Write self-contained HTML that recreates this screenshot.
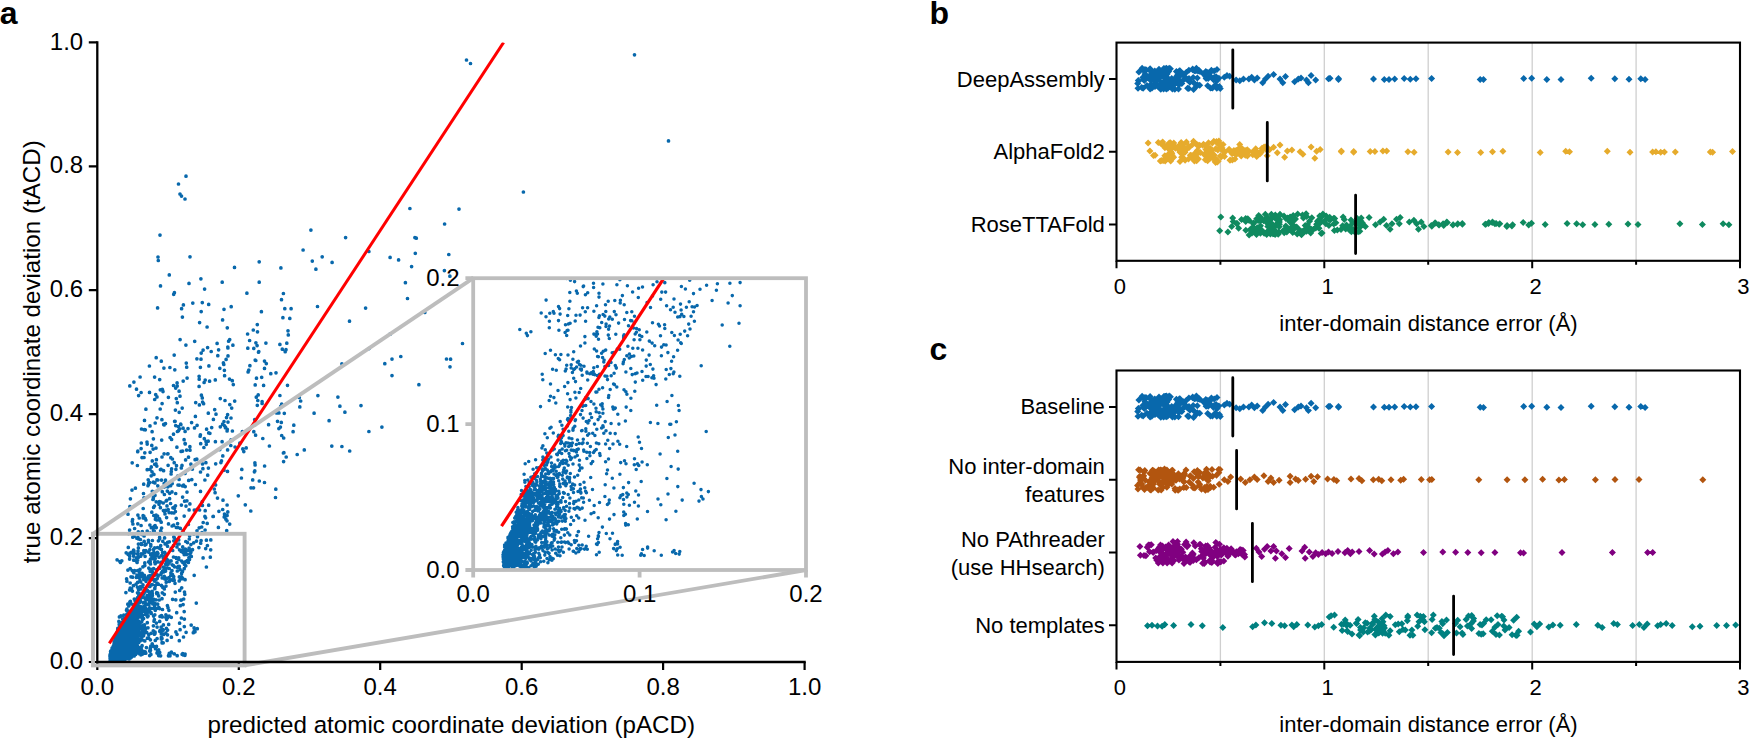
<!DOCTYPE html>
<html lang="en"><head><meta charset="utf-8"><title>Figure</title>
<style>html,body{margin:0;padding:0;background:#fff}svg{display:block}text{font-family:'Liberation Sans', Arial, sans-serif;fill:#000}</style></head>
<body>
<svg width="1750" height="741" viewBox="0 0 1750 741">
<rect width="1750" height="741" fill="#fff"/>
<defs><clipPath id="ca"><rect x="97.3" y="42.4" width="717.3" height="619.6"/></clipPath><clipPath id="ci"><rect x="473.2" y="278.2" width="332.8" height="291.8"/></clipPath></defs>
<g id="panel-a">
<path d="M119.6 656.4h0M117.2 647.8h0M115.8 642.8h0M120.2 651.0h0M115.6 650.5h0M125.1 636.8h0M120.6 643.1h0M119.3 638.0h0M111.6 660.5h0M110.5 658.2h0M111.8 658.6h0M121.2 657.3h0M119.1 638.0h0M111.1 658.8h0M121.1 645.0h0M113.7 657.7h0M113.7 650.3h0M130.8 647.7h0M118.6 635.2h0M120.2 658.6h0M120.3 654.3h0M111.0 658.4h0M120.8 635.8h0M154.4 619.5h0M112.0 657.1h0M126.3 620.9h0M127.8 651.2h0M127.5 635.0h0M114.4 645.4h0M115.8 638.6h0M117.8 628.3h0M135.3 631.2h0M113.8 649.7h0M110.3 657.0h0M118.7 636.8h0M127.9 654.5h0M116.5 649.8h0M142.9 596.0h0M117.0 654.4h0M118.5 637.2h0M112.3 654.2h0M115.9 659.8h0M127.3 643.8h0M127.6 641.8h0M133.7 646.0h0M126.4 652.6h0M123.3 657.8h0M110.2 660.2h0M113.3 654.6h0M161.2 563.5h0M114.7 659.1h0M125.2 631.6h0M117.7 641.7h0M125.5 655.7h0M118.9 641.3h0M112.6 654.0h0M113.5 653.5h0M121.6 639.7h0M114.9 650.1h0M110.3 657.3h0M123.5 653.5h0M130.2 652.2h0M128.9 612.4h0M129.2 652.8h0M111.0 654.1h0M141.1 608.7h0M117.2 636.9h0M112.9 654.8h0M115.3 647.5h0M113.8 659.0h0M111.8 658.9h0M118.2 648.9h0M119.7 641.4h0M116.8 647.5h0M119.7 644.0h0M117.0 655.1h0M113.7 645.5h0M114.5 648.9h0M123.2 660.8h0M111.2 652.1h0M114.7 652.4h0M128.5 643.2h0M120.3 637.1h0M124.7 622.2h0M118.3 630.5h0M112.0 651.5h0M115.5 649.4h0M119.3 649.4h0M115.5 648.6h0M117.0 654.4h0M119.8 645.7h0M127.7 647.5h0M115.1 656.4h0M131.9 647.3h0M118.3 647.0h0M129.2 620.1h0M131.4 624.6h0M142.7 653.3h0M130.5 650.6h0M130.7 625.0h0M142.1 645.7h0M110.7 654.0h0M112.7 657.7h0M130.1 634.5h0M120.0 632.2h0M120.0 651.6h0M111.1 654.3h0M112.9 652.9h0M125.3 629.9h0M124.1 644.9h0M114.5 655.4h0M113.3 651.5h0M113.8 658.8h0M123.2 644.0h0M111.4 655.2h0M118.8 642.1h0M111.3 655.1h0M128.7 646.3h0M120.4 632.6h0M135.5 620.5h0M110.1 658.6h0M110.3 657.2h0M114.4 657.9h0M138.9 626.6h0M112.1 655.8h0M135.1 652.2h0M120.1 652.7h0M120.0 629.4h0M125.9 627.8h0M112.6 651.0h0M114.4 649.1h0M111.8 654.6h0M119.5 640.3h0M147.4 638.2h0M115.8 643.3h0M123.7 654.5h0M122.2 645.6h0M120.4 640.1h0M117.2 649.8h0M136.1 650.1h0M119.5 635.3h0M115.2 655.0h0M132.2 653.1h0M127.6 650.3h0M121.8 634.8h0M117.8 640.4h0M142.6 636.2h0M119.0 637.4h0M114.7 641.7h0M125.3 635.4h0M116.6 656.3h0M119.0 648.6h0M116.3 655.7h0M117.6 636.5h0M110.9 657.6h0M113.5 653.4h0M113.9 653.8h0M116.9 654.8h0M121.6 657.8h0M112.8 657.8h0M154.8 588.7h0M117.8 656.1h0M123.0 631.4h0M112.4 660.9h0M113.2 651.2h0M142.9 627.6h0M126.0 658.5h0M117.8 646.8h0M111.5 658.8h0M141.9 635.6h0M113.1 660.1h0M115.5 654.6h0M117.8 654.6h0M122.7 657.1h0M119.2 642.0h0M118.8 656.7h0M151.0 578.8h0M120.1 644.4h0M123.8 646.4h0M128.1 648.4h0M114.4 661.2h0M161.6 615.6h0M113.9 646.1h0M119.1 641.6h0M112.2 654.2h0M112.2 661.3h0M133.8 621.5h0M115.7 646.6h0M118.4 649.1h0M116.7 658.5h0M111.3 652.9h0M117.9 648.0h0M132.8 645.7h0M113.8 657.6h0M123.9 629.6h0M133.3 650.2h0M112.0 660.7h0M129.6 620.5h0M110.4 659.5h0M126.6 645.5h0M116.4 646.5h0M112.3 658.8h0M118.0 641.5h0M114.6 650.3h0M110.8 656.1h0M132.5 621.8h0M134.0 638.4h0M112.6 650.8h0M115.8 640.3h0M115.3 648.6h0M117.0 643.5h0M111.7 650.6h0M130.8 653.5h0M119.6 646.6h0M112.9 649.2h0M115.4 643.5h0M113.9 655.8h0M117.6 640.9h0M126.4 650.4h0M126.6 619.4h0M112.4 656.0h0M120.1 647.1h0M113.2 651.0h0M110.7 653.6h0M112.5 657.1h0M119.0 638.6h0M111.1 659.0h0M114.1 643.6h0M123.7 657.7h0M114.2 649.6h0M114.0 651.3h0M112.9 647.0h0M110.5 658.4h0M116.8 639.6h0M119.3 652.4h0M120.1 648.7h0M112.6 649.5h0M112.8 650.6h0M128.7 645.6h0M113.0 658.3h0M116.6 650.0h0M112.5 659.8h0M112.5 656.3h0M111.1 652.0h0M140.0 641.0h0M116.2 644.9h0M110.4 660.2h0M119.3 658.3h0M118.7 632.2h0M119.0 655.6h0M138.1 605.9h0M118.3 653.4h0M119.0 640.0h0M114.1 645.4h0M112.6 657.2h0M118.6 648.3h0M117.9 656.1h0M113.0 657.9h0M115.2 647.9h0M119.6 631.0h0M120.3 645.8h0M114.8 646.0h0M110.2 656.7h0M121.1 634.9h0M112.9 647.4h0M115.2 653.3h0M112.0 650.9h0M121.0 630.0h0M116.0 648.3h0M110.8 655.7h0M122.1 631.8h0M123.8 632.7h0M117.3 641.5h0M124.4 624.7h0M111.1 656.2h0M135.8 635.4h0M122.0 625.4h0M131.8 610.6h0M111.2 654.8h0M114.7 650.3h0M116.4 641.7h0M148.0 627.8h0M118.6 634.1h0M111.8 655.5h0M124.3 630.5h0M120.7 654.3h0M113.9 659.1h0M128.5 617.4h0M134.0 638.2h0M116.9 657.0h0M112.8 658.7h0M126.3 651.8h0M122.9 655.1h0M116.5 646.1h0M113.4 655.1h0M116.7 638.1h0M123.7 635.3h0M119.5 660.0h0M125.8 646.8h0M146.9 613.5h0M122.9 644.4h0M129.3 615.0h0M119.2 645.7h0M153.3 630.8h0M119.1 638.4h0M139.1 614.4h0M141.7 621.8h0M117.9 644.5h0M129.3 623.1h0M111.1 659.1h0M123.2 626.6h0M111.1 654.5h0M125.2 629.5h0M115.7 651.0h0M117.5 642.5h0M113.2 654.3h0M121.7 645.4h0M127.7 627.9h0M113.1 659.0h0M116.6 646.6h0M121.8 630.2h0M114.7 652.4h0M136.6 632.9h0M154.4 634.2h0M121.9 645.3h0M118.4 637.8h0M120.8 630.6h0M113.6 658.5h0M111.3 657.9h0M114.0 661.2h0M121.8 638.5h0M116.7 655.4h0M113.3 657.5h0M112.7 658.0h0M119.3 648.2h0M116.6 640.3h0M128.0 636.1h0M112.6 657.2h0M118.6 660.7h0M155.9 599.8h0M116.5 641.8h0M125.2 653.2h0M115.5 656.3h0M147.1 609.5h0M127.8 629.5h0M114.2 657.5h0M117.8 640.5h0M127.8 631.7h0M114.1 660.4h0M114.9 657.4h0M110.0 656.4h0M122.2 651.2h0M153.9 646.4h0M110.5 655.0h0M112.0 657.0h0M120.4 655.2h0M123.3 626.1h0M122.8 631.1h0M116.9 640.5h0M115.3 659.8h0M110.7 659.6h0M150.4 639.8h0M138.7 642.6h0M114.4 647.0h0M119.1 638.9h0M117.1 657.9h0M116.0 645.3h0M112.5 650.8h0M162.3 616.9h0M117.5 660.7h0M128.1 647.5h0M117.7 661.0h0M122.4 631.5h0M143.6 618.6h0M120.4 640.2h0M142.2 651.5h0M114.5 661.0h0M127.5 619.3h0M140.2 633.1h0M128.8 645.5h0M114.5 656.1h0M116.5 645.5h0M114.6 648.0h0M122.9 659.8h0M117.8 652.9h0M114.0 648.4h0M112.0 658.9h0M114.6 648.6h0M119.1 645.4h0M128.0 626.1h0M123.5 621.1h0M127.0 617.0h0M137.0 615.7h0M123.9 650.2h0M111.2 659.2h0M117.3 640.1h0M111.5 658.5h0M120.6 630.4h0M110.7 657.8h0M118.8 660.0h0M120.5 641.4h0M125.9 624.2h0M119.2 641.1h0M171.4 637.2h0M115.8 652.9h0M129.3 642.9h0M115.6 655.3h0M115.7 658.5h0M121.1 649.3h0M110.6 660.8h0M129.5 645.1h0M118.9 629.4h0M127.0 634.2h0M112.1 649.5h0M141.3 638.9h0M135.6 625.2h0M131.7 645.5h0M118.2 637.4h0M129.0 616.0h0M118.8 639.5h0M136.5 650.4h0M110.6 651.4h0M119.7 643.5h0M138.6 621.0h0M129.7 641.0h0M130.6 640.5h0M129.1 654.6h0M121.2 650.4h0M113.1 651.9h0M124.7 657.5h0M116.0 649.1h0M117.2 636.6h0M118.4 635.6h0M119.4 649.0h0M112.9 659.1h0M127.5 652.0h0M121.5 650.9h0M135.1 610.6h0M155.0 633.6h0M128.6 650.0h0M120.6 652.3h0M111.6 658.3h0M119.1 653.1h0M121.5 635.2h0M122.5 632.6h0M119.9 646.4h0M115.4 654.3h0M131.1 627.5h0M121.1 638.6h0M133.4 653.6h0M114.3 653.6h0M122.9 647.1h0M136.1 608.6h0M136.2 639.0h0M112.4 653.3h0M118.7 634.4h0M116.5 653.9h0M136.2 644.5h0M124.1 620.7h0M114.6 658.6h0M119.3 633.2h0M115.6 655.8h0M119.9 641.7h0M116.0 652.4h0M121.8 657.2h0M136.4 624.2h0M162.0 638.4h0M129.6 657.6h0M150.7 608.4h0M127.5 639.9h0M128.6 631.8h0M124.7 644.6h0M118.9 641.0h0M112.7 654.5h0M117.6 636.8h0M123.7 654.7h0M113.2 647.9h0M119.3 634.0h0M118.2 635.3h0M118.3 654.8h0M119.8 650.2h0M126.2 648.1h0M116.7 644.1h0M118.1 654.3h0M113.3 652.9h0M116.2 655.1h0M113.6 656.8h0M123.9 641.9h0M154.9 587.8h0M148.7 634.5h0M114.5 652.4h0M124.4 625.9h0M120.1 660.8h0M110.5 658.6h0M110.1 657.3h0M114.2 651.9h0M117.6 656.5h0M111.3 658.8h0M112.5 657.5h0M112.9 655.8h0M112.6 659.5h0M111.5 657.5h0M116.8 637.9h0M126.2 652.5h0M121.6 627.8h0M112.9 651.7h0M117.4 639.9h0M119.2 631.8h0M110.3 659.8h0M130.8 630.6h0M113.8 650.3h0M111.5 656.4h0M167.1 616.9h0M112.4 660.1h0M116.2 640.2h0M113.6 651.7h0M130.9 634.0h0M116.4 650.6h0M111.0 656.2h0M110.1 656.7h0M114.7 659.1h0M151.0 633.3h0M112.2 658.2h0M135.6 615.4h0M113.0 653.4h0M117.2 649.5h0M121.3 643.0h0M117.7 629.9h0M114.2 655.2h0M121.9 660.2h0M114.6 654.0h0M123.4 625.6h0M111.2 658.5h0M112.1 659.3h0M117.7 637.2h0M117.7 650.8h0M128.7 629.2h0M115.9 659.8h0M119.1 642.7h0M118.0 645.2h0M123.6 650.0h0M123.4 648.5h0M118.4 641.1h0M128.9 645.3h0M139.1 593.0h0M114.0 647.9h0M114.4 651.4h0M114.2 659.6h0M113.8 661.3h0M114.1 656.3h0M119.2 624.0h0M127.3 622.4h0M114.0 650.8h0M123.0 646.1h0M115.5 654.3h0M167.5 634.8h0M121.0 656.8h0M126.8 651.9h0M112.6 659.8h0M113.0 657.1h0M120.6 651.7h0M113.5 654.5h0M118.1 640.8h0M133.6 652.3h0M113.6 648.3h0M113.1 655.0h0M120.0 659.5h0M116.4 659.0h0M125.3 652.6h0M117.4 659.0h0M112.2 654.3h0M110.1 658.5h0M121.9 629.0h0M113.7 652.3h0M119.5 649.0h0M113.5 654.3h0M122.0 657.3h0M131.0 611.0h0M131.5 644.5h0M135.2 621.8h0M118.3 646.5h0M129.9 644.3h0M121.8 644.3h0M116.5 655.7h0M115.0 653.3h0M113.3 646.2h0M130.9 625.9h0M118.8 629.8h0M113.6 656.6h0M117.4 638.5h0M148.1 604.0h0M111.1 657.1h0M111.2 650.5h0M138.4 635.6h0M111.1 656.0h0M137.5 646.2h0M114.4 656.6h0M122.6 624.6h0M136.0 629.4h0M136.1 647.2h0M127.5 624.3h0M118.4 634.8h0M116.4 638.6h0M116.5 637.8h0M141.2 649.6h0M121.9 630.7h0M133.8 654.3h0M115.8 645.1h0M121.6 631.6h0M115.6 652.3h0M155.1 632.2h0M111.9 657.4h0M124.3 618.6h0M129.4 632.5h0M113.1 657.5h0M129.1 658.9h0M123.1 642.9h0M180.1 629.7h0M140.0 629.1h0M118.4 656.6h0M131.0 646.9h0M123.1 640.0h0M115.3 646.3h0M126.3 622.3h0M124.2 630.2h0M142.7 625.6h0M111.2 655.9h0M111.3 659.5h0M113.5 655.7h0M126.4 634.1h0M132.8 635.2h0M117.8 652.2h0M121.4 648.3h0M119.3 624.8h0M110.7 656.0h0M113.2 659.6h0M130.1 626.7h0M129.1 652.6h0M134.6 650.2h0M126.9 653.8h0M121.9 639.5h0M122.6 652.3h0M111.4 659.1h0M149.5 586.5h0M117.6 650.5h0M130.8 625.2h0M128.3 627.2h0M125.8 656.8h0M139.0 627.8h0M117.7 648.1h0M130.8 641.7h0M123.8 653.1h0M111.7 655.1h0M114.2 648.6h0M111.8 653.5h0M110.8 657.8h0M124.1 629.5h0M131.3 657.2h0M116.8 645.3h0M116.7 645.9h0M111.6 659.2h0M122.8 645.6h0M112.9 651.2h0M126.3 646.3h0M126.9 619.1h0M110.6 657.1h0M124.2 653.0h0M128.8 619.5h0M112.3 656.2h0M137.0 625.4h0M121.1 635.3h0M127.0 624.7h0M128.1 647.8h0M113.2 657.0h0M144.4 611.6h0M119.4 661.1h0M118.0 653.6h0M110.7 653.5h0M112.8 656.5h0M118.6 629.9h0M138.2 633.8h0M136.5 611.4h0M116.7 653.6h0M111.9 658.6h0M111.6 659.1h0M145.3 651.9h0M121.9 653.6h0M112.2 658.4h0M141.4 610.8h0M125.0 629.4h0M128.1 625.3h0M129.5 655.0h0M122.5 637.1h0M115.0 647.4h0M110.7 660.1h0M111.3 658.2h0M113.0 657.0h0M124.6 632.1h0M113.7 645.8h0M128.7 643.0h0M130.3 624.3h0M141.6 606.8h0M142.4 608.2h0M144.1 631.4h0M121.3 655.1h0M120.6 633.1h0M114.4 655.9h0M121.9 647.7h0M120.4 630.6h0M114.2 657.4h0M110.4 654.1h0M138.8 595.0h0M125.7 627.3h0M112.6 653.9h0M115.4 654.1h0M128.8 643.2h0M115.0 651.2h0M122.6 637.1h0M133.2 637.5h0M130.2 639.4h0M118.0 646.6h0M113.2 654.6h0M116.3 647.0h0M128.7 657.1h0M117.8 642.8h0M145.6 612.0h0M149.0 604.8h0M142.2 639.9h0M128.3 638.7h0M111.9 653.0h0M146.8 612.1h0M129.0 640.0h0M114.5 654.7h0M113.3 653.3h0M114.7 649.9h0M121.1 626.6h0M111.3 651.4h0M136.0 618.6h0M116.5 646.5h0M126.1 648.7h0M110.7 652.2h0M186.1 632.3h0M133.1 645.8h0M118.5 653.0h0M112.0 656.5h0M142.4 619.7h0M116.0 636.9h0M115.8 645.5h0M113.1 659.3h0M111.7 658.7h0M118.6 630.5h0M119.5 645.5h0M115.8 655.0h0M112.2 656.5h0M142.0 645.8h0M144.2 633.3h0M113.2 650.7h0M137.6 650.1h0M119.6 657.1h0M118.5 633.1h0M154.0 621.2h0M151.2 613.4h0M115.6 659.8h0M127.4 638.2h0M114.4 647.1h0M110.7 660.2h0M129.8 637.7h0M123.8 632.4h0M127.6 646.4h0M159.6 568.3h0M116.5 649.5h0M124.2 624.0h0M120.3 638.1h0M110.2 660.3h0M117.1 656.9h0M110.7 656.0h0M119.2 630.9h0M112.1 655.7h0M111.9 658.6h0M139.1 609.2h0M115.4 645.3h0M116.3 641.6h0M122.0 631.8h0M112.7 656.9h0M113.4 657.7h0M122.9 629.4h0M120.9 650.3h0M114.0 656.9h0M146.4 647.6h0M114.6 649.0h0M113.2 651.4h0M122.5 626.1h0M113.6 658.3h0M135.2 641.2h0M121.6 646.0h0M113.6 656.4h0M159.2 600.0h0M115.3 639.3h0M118.1 641.6h0M121.5 632.3h0M121.8 622.6h0M122.5 647.3h0M111.3 654.4h0M118.9 653.2h0M110.1 654.6h0M116.3 639.2h0M117.3 641.0h0M124.1 660.4h0M113.1 655.8h0M121.1 643.7h0M115.1 657.0h0M119.0 632.8h0M112.6 657.8h0M130.2 625.9h0M129.3 620.6h0M110.6 659.5h0M116.2 645.0h0M115.4 658.5h0M111.3 653.2h0M116.1 645.5h0M111.5 657.2h0M119.5 629.9h0M126.1 627.3h0M113.8 659.1h0M124.6 649.2h0M137.1 615.8h0M113.8 655.1h0M133.3 622.6h0M133.7 612.1h0M136.9 644.6h0M118.7 656.4h0M121.3 636.3h0M113.2 648.3h0M129.2 625.7h0M127.3 639.5h0M122.5 655.5h0M118.6 632.3h0M113.9 649.9h0M110.0 655.6h0M114.5 649.1h0M117.5 642.3h0M113.1 652.5h0M161.1 627.0h0M114.3 660.3h0M112.7 653.0h0M147.5 616.8h0M110.7 657.9h0M134.7 633.3h0M135.5 604.9h0M118.1 636.5h0M111.3 652.0h0M114.5 656.6h0M120.3 659.0h0M129.5 627.1h0M125.1 639.4h0M123.6 657.9h0M115.6 637.5h0M133.0 635.0h0M112.4 657.7h0M114.0 654.0h0M120.7 631.7h0M128.2 615.5h0M124.1 639.8h0M124.7 645.1h0M115.2 644.5h0M131.6 632.9h0M114.2 658.7h0M111.4 657.5h0M112.2 651.0h0M123.6 640.3h0M128.8 653.1h0M112.5 654.8h0M118.9 636.7h0M150.4 598.1h0M122.2 633.4h0M140.5 636.1h0M132.9 642.3h0M134.9 644.7h0M116.5 652.9h0M123.0 657.1h0M161.1 573.7h0M113.7 647.5h0M136.5 641.3h0M114.7 645.3h0M119.7 648.1h0M126.2 630.9h0M116.0 655.7h0M117.2 632.4h0M111.9 657.1h0M118.0 655.0h0M111.5 655.1h0M123.5 636.6h0M120.2 653.8h0M133.3 633.9h0M117.0 660.4h0M133.1 655.7h0M134.9 650.1h0M136.3 609.4h0M128.3 639.3h0M124.0 651.9h0M121.9 648.6h0M115.5 650.6h0M118.6 659.9h0M118.8 660.0h0M155.3 640.4h0M111.8 655.4h0M116.9 637.7h0M121.7 634.0h0M112.8 652.3h0M127.6 651.8h0M114.3 657.3h0M122.8 659.3h0M119.4 616.9h0M125.8 647.0h0M111.6 659.8h0M122.4 630.0h0M140.5 650.3h0M129.7 631.1h0M119.0 659.2h0M119.6 659.7h0M120.8 651.1h0M117.2 649.9h0M113.3 648.3h0M119.1 641.4h0M118.5 643.8h0M154.5 606.9h0M124.6 649.3h0M159.7 631.3h0M118.8 633.9h0M122.9 656.7h0M119.4 638.5h0M113.3 656.9h0M112.8 652.7h0M116.8 639.8h0M131.5 633.5h0M112.3 651.5h0M111.4 652.4h0M118.7 655.5h0M114.4 657.5h0M114.0 660.5h0M142.7 628.0h0M118.5 660.7h0M125.2 656.7h0M118.3 651.7h0M128.0 619.0h0M118.1 645.3h0M117.4 659.7h0M126.5 625.7h0M118.2 647.3h0M136.7 640.2h0M113.9 654.0h0M140.7 635.8h0M112.1 648.5h0M115.5 649.3h0M119.9 642.1h0M112.0 659.1h0M114.4 660.0h0M127.0 635.2h0M116.7 659.1h0M113.6 660.0h0M127.3 658.3h0M119.6 645.4h0M125.0 659.6h0M139.7 602.2h0M118.8 642.4h0M122.2 652.1h0M175.8 599.8h0M110.2 656.1h0M120.7 635.4h0M113.4 654.3h0M123.3 649.2h0M113.3 653.8h0M115.3 643.7h0M111.5 659.0h0M127.3 646.0h0M118.9 621.4h0M116.4 645.1h0M112.3 653.7h0M134.5 648.3h0M110.6 659.0h0M132.4 654.9h0M122.7 619.2h0M114.8 655.0h0M119.6 654.7h0M111.1 656.4h0M138.7 597.8h0M111.5 653.4h0M114.6 650.1h0M129.6 645.3h0M115.7 652.0h0M121.0 643.7h0M120.6 650.2h0M114.0 660.3h0M115.2 657.0h0M146.2 589.2h0M129.6 654.9h0M125.0 647.2h0M119.4 649.3h0M113.0 660.0h0M111.5 658.5h0M125.5 629.8h0M114.5 648.8h0M116.5 644.7h0M112.1 658.6h0M110.6 657.0h0M119.8 634.8h0M112.8 657.9h0M151.1 612.5h0M143.6 608.3h0M116.5 655.5h0M133.5 633.2h0M113.1 655.3h0M133.7 618.1h0M154.4 581.1h0M125.8 623.3h0M157.0 583.0h0M110.1 656.4h0M118.3 641.5h0M116.7 652.9h0M126.5 610.2h0M119.0 632.1h0M125.5 641.0h0M120.4 637.8h0M113.2 650.1h0M111.4 659.4h0M132.0 647.0h0M113.9 654.3h0M124.9 636.7h0M122.6 644.5h0M115.2 642.6h0M111.0 659.9h0M121.1 638.0h0M135.6 654.5h0M111.2 655.2h0M168.7 624.4h0M120.3 638.1h0M123.4 635.1h0M138.0 612.5h0M144.0 608.0h0M122.5 639.2h0M128.2 652.0h0M114.3 659.9h0M119.1 649.8h0M111.7 660.5h0M126.7 645.5h0M124.8 637.0h0M125.1 633.6h0M126.1 646.1h0M110.4 658.6h0M117.3 637.0h0M112.9 652.3h0M116.4 651.0h0M125.2 654.9h0M140.9 654.8h0M117.4 653.4h0M113.8 658.7h0M115.2 658.6h0M118.0 650.8h0M117.3 640.2h0M121.2 634.1h0M126.9 647.9h0M110.9 651.8h0M110.7 658.8h0M113.9 652.4h0M114.8 647.6h0M140.3 649.5h0M116.7 653.0h0M130.7 640.3h0M112.3 658.0h0M171.3 617.3h0M131.9 617.4h0M112.4 657.4h0M117.5 656.9h0M152.6 601.2h0M123.7 639.2h0M115.0 645.3h0M130.7 657.8h0M124.2 640.4h0M110.2 656.6h0M162.2 586.3h0M133.0 621.4h0M118.5 647.1h0M115.0 649.4h0M113.7 655.0h0M110.4 656.4h0M120.5 656.2h0M114.2 648.1h0M112.0 652.9h0M113.7 658.1h0M157.1 638.5h0M114.2 656.3h0M133.9 621.0h0M141.4 647.4h0M120.3 649.7h0M128.8 645.1h0M112.6 656.8h0M116.4 647.6h0M120.6 649.7h0M112.9 657.3h0M113.1 652.3h0M153.4 625.8h0M136.1 644.7h0M118.9 645.2h0M112.5 648.1h0M120.6 623.7h0M112.5 656.8h0M117.3 637.0h0M119.5 653.3h0M120.9 661.0h0M114.5 652.4h0M128.7 651.4h0M138.0 637.1h0M116.3 644.1h0M121.3 652.3h0M115.4 643.4h0M121.4 641.9h0M138.9 651.3h0M115.1 648.1h0M114.1 644.3h0M117.6 637.8h0M116.4 656.3h0M121.6 640.3h0M119.9 647.7h0M120.5 642.5h0M122.1 638.4h0M122.5 629.5h0M118.0 643.8h0M115.2 657.5h0M113.1 653.5h0M119.4 644.6h0M117.4 637.0h0M118.0 634.0h0M129.9 656.3h0M114.4 649.6h0M145.9 604.8h0M117.1 641.7h0M134.3 626.6h0M116.2 646.7h0M123.9 658.7h0M118.0 634.8h0M111.6 659.6h0M123.9 645.7h0M112.1 649.9h0M116.8 654.8h0M131.1 651.8h0M180.3 605.7h0M114.9 640.0h0M114.9 643.7h0M132.2 640.3h0M126.4 630.2h0M127.5 632.9h0M112.5 659.2h0M111.4 661.0h0M120.2 653.5h0M128.8 605.9h0M121.4 629.4h0M120.4 630.5h0M125.5 638.7h0M130.4 627.7h0M117.0 647.5h0M115.9 659.6h0M117.2 657.7h0M116.3 635.4h0M131.2 631.4h0M127.7 631.8h0M110.8 657.2h0M115.4 649.0h0M112.1 648.1h0M117.5 632.5h0M116.0 656.9h0M114.0 646.4h0M126.3 639.3h0M115.8 651.1h0M121.3 641.2h0M117.3 655.8h0M126.4 621.6h0M125.8 640.0h0M117.0 654.7h0M123.7 638.5h0M120.8 646.1h0M140.0 654.1h0M113.9 651.4h0M121.3 644.0h0M119.1 643.4h0M117.6 657.7h0M153.6 616.1h0M122.5 641.1h0M133.1 613.1h0M134.2 655.9h0M122.3 629.1h0M122.8 645.5h0M113.8 651.1h0M114.5 651.7h0M120.3 651.2h0M130.6 616.6h0M146.1 589.2h0M112.0 657.5h0M124.5 644.1h0M131.7 648.1h0M114.9 643.8h0M114.0 652.6h0M111.3 655.2h0M126.3 624.3h0M119.0 646.5h0M123.8 657.8h0M113.8 647.7h0M119.9 639.0h0M131.6 619.0h0M119.8 655.4h0M128.1 645.2h0M134.9 615.8h0M121.2 624.9h0M125.5 629.0h0M131.8 645.1h0M130.7 637.5h0M137.3 622.5h0M120.7 643.7h0M117.8 650.3h0M157.1 627.1h0M121.1 635.8h0M125.9 641.8h0M152.2 643.8h0M116.6 647.0h0M135.8 636.0h0M164.3 589.0h0M117.9 634.8h0M125.6 636.2h0M128.2 644.6h0M116.6 647.5h0M123.2 627.9h0M111.5 659.3h0M115.4 647.2h0M134.9 612.5h0M125.2 618.6h0M112.5 649.2h0M113.1 653.2h0M124.7 631.4h0M111.6 661.2h0M113.9 654.1h0M118.5 648.3h0M131.5 625.6h0M114.9 644.6h0M117.0 657.7h0M120.8 639.0h0M115.9 652.1h0M117.3 638.5h0M142.4 617.5h0M144.8 640.9h0M123.7 636.6h0M122.7 622.3h0M122.1 632.9h0M138.4 647.1h0M117.0 642.5h0M132.8 612.9h0M129.5 629.6h0M146.7 632.4h0M131.7 649.3h0M116.6 658.0h0M123.9 644.6h0M123.5 656.8h0M113.7 656.4h0M116.2 651.2h0M112.3 654.8h0M111.1 660.0h0M126.7 626.6h0M111.9 657.1h0M121.0 652.4h0M114.6 643.5h0M132.8 642.5h0M123.6 622.7h0M124.1 625.8h0M130.1 651.5h0M120.8 631.9h0M112.4 653.1h0M119.9 633.5h0M123.9 629.6h0M119.1 644.9h0M122.6 639.8h0M112.0 655.8h0M122.1 648.9h0M157.7 604.1h0M113.4 655.9h0M113.5 656.6h0M172.6 599.3h0M128.2 638.7h0M149.6 610.8h0M136.7 620.8h0M111.4 659.7h0M141.8 628.7h0M121.9 644.2h0M114.4 658.1h0M127.4 652.3h0M123.7 627.6h0M125.3 647.6h0M159.6 608.6h0M118.4 658.5h0M132.0 636.2h0M110.9 658.4h0M112.1 650.4h0M125.9 633.1h0M129.7 647.2h0M114.6 641.5h0M128.4 642.8h0M114.6 657.4h0M115.3 648.0h0M114.5 658.7h0M112.8 656.8h0M111.5 659.4h0M120.2 641.4h0M133.5 639.5h0M127.6 617.7h0M162.3 592.8h0M117.7 648.0h0M123.7 645.4h0M113.9 648.5h0M120.3 652.6h0M131.9 648.6h0M122.6 646.1h0M113.5 648.7h0M112.8 651.2h0M115.0 648.5h0M112.4 656.4h0M112.0 657.9h0M121.2 654.8h0M111.8 652.8h0M113.8 655.0h0M123.7 659.0h0M110.5 659.7h0M126.1 646.9h0M112.7 656.0h0M111.5 654.8h0M116.7 639.8h0M115.4 641.4h0M116.7 650.2h0M139.3 606.3h0M120.0 627.6h0M115.7 654.1h0M123.4 648.0h0M121.9 658.2h0M112.8 656.7h0M115.4 648.6h0M114.6 652.2h0M111.9 657.1h0M118.7 644.8h0M114.6 657.7h0M117.6 657.6h0M120.0 652.4h0M114.4 651.9h0M139.8 654.0h0M120.8 651.2h0M117.5 642.6h0M120.1 654.4h0M137.9 650.6h0M112.6 652.3h0M128.1 649.3h0M112.5 658.6h0M125.0 648.2h0M111.9 651.3h0M117.2 649.4h0M114.2 655.0h0M115.7 647.8h0M130.6 657.0h0M132.5 630.6h0M119.0 648.5h0M114.6 641.8h0M130.0 623.1h0M112.2 653.3h0M111.3 657.6h0M118.3 643.9h0M118.3 639.1h0M121.2 634.9h0M119.2 647.4h0M175.0 583.3h0M113.6 649.3h0M116.0 654.8h0M114.1 641.8h0M130.8 650.4h0M113.8 647.9h0M112.1 651.1h0M117.7 641.5h0M114.7 645.8h0M122.3 629.2h0M110.3 655.6h0M128.6 622.8h0M121.7 628.2h0M116.2 636.6h0M114.5 648.2h0M123.3 656.0h0M123.1 634.8h0M147.3 622.7h0M119.7 626.5h0M133.2 631.1h0M125.7 634.5h0M114.6 642.4h0M136.7 644.5h0M127.7 655.7h0M112.9 653.6h0M122.4 629.9h0M148.6 637.6h0M130.8 633.0h0M128.2 635.5h0M115.8 660.1h0M119.0 649.4h0M124.0 652.2h0M114.1 647.7h0M110.7 659.7h0M143.5 594.2h0M114.3 655.9h0M143.6 635.7h0M117.6 654.8h0M113.3 646.4h0M112.3 654.4h0M132.7 645.2h0M116.5 638.7h0M111.6 657.6h0M123.3 626.7h0M119.2 652.4h0M114.5 650.1h0M114.2 643.6h0M114.3 647.7h0M119.2 652.9h0M115.3 658.0h0M112.2 651.7h0M131.7 618.3h0M138.1 653.0h0M117.7 655.1h0M119.3 651.9h0M131.8 626.9h0M114.4 658.6h0M122.9 633.4h0M136.1 640.0h0M117.1 637.0h0M110.3 656.1h0M112.0 651.7h0M114.1 651.9h0M119.0 640.7h0M110.7 657.1h0M111.2 656.8h0M123.6 626.4h0M126.5 630.9h0M117.9 645.6h0M134.5 653.6h0M133.7 628.6h0M132.1 627.8h0M111.9 652.7h0M149.9 586.4h0M111.3 660.2h0M116.5 644.3h0M122.5 659.6h0M117.4 659.5h0M126.6 633.9h0M117.0 647.1h0M111.9 655.0h0M118.5 653.0h0M154.8 614.8h0M110.7 653.5h0M126.5 631.9h0M112.3 659.4h0M113.8 647.5h0M114.8 656.6h0M128.2 628.4h0M119.4 641.7h0M120.4 649.3h0M111.4 651.6h0M129.1 642.5h0M117.0 638.8h0M115.6 646.3h0M140.1 635.8h0M130.8 637.6h0M119.8 644.1h0M128.4 631.1h0M112.1 653.6h0M117.9 641.4h0M121.2 639.0h0M116.1 657.2h0M114.5 645.2h0M118.3 656.0h0M112.1 651.6h0M118.4 653.3h0M134.5 639.8h0M125.4 641.0h0M122.2 644.5h0M115.0 657.4h0M155.3 610.3h0M120.2 650.6h0M112.6 652.5h0M158.7 595.9h0M156.5 646.4h0M120.3 628.6h0M127.1 640.4h0M124.4 630.2h0M121.4 628.1h0M129.8 643.3h0M114.7 647.8h0M114.8 660.6h0M131.5 623.2h0M127.5 642.8h0M157.6 516.0h0M146.0 599.5h0M126.9 614.0h0M131.8 629.4h0M139.0 639.6h0M130.3 614.0h0M137.8 598.7h0M129.6 637.9h0M125.9 592.6h0M138.2 623.6h0M152.8 573.7h0M135.7 625.3h0M127.9 640.0h0M152.1 592.5h0M139.7 602.6h0M133.6 604.7h0M139.7 617.0h0M150.9 595.3h0M125.0 628.5h0M134.6 632.4h0M165.4 559.2h0M129.6 590.0h0M163.6 571.9h0M128.4 637.8h0M154.2 579.8h0M152.1 591.4h0M138.3 613.8h0M137.3 622.8h0M130.3 640.9h0M132.5 636.1h0M153.3 575.6h0M148.5 542.0h0M138.8 594.2h0M155.5 585.3h0M126.3 621.5h0M134.9 605.8h0M162.7 587.3h0M157.4 593.5h0M142.0 610.7h0M161.4 585.4h0M127.2 634.9h0M140.6 598.5h0M123.4 639.7h0M136.8 615.4h0M143.4 631.3h0M144.1 606.5h0M132.3 627.9h0M144.1 592.2h0M136.8 608.0h0M129.2 631.7h0M137.1 562.4h0M140.8 611.3h0M135.3 639.3h0M130.4 632.2h0M145.1 592.1h0M134.1 625.5h0M126.8 633.3h0M139.5 608.0h0M157.7 593.2h0M128.0 638.2h0M127.3 640.1h0M138.4 608.2h0M137.9 603.1h0M141.5 613.4h0M185.0 473.4h0M178.7 539.9h0M166.1 510.3h0M124.9 639.9h0M147.6 597.2h0M143.4 602.9h0M125.3 642.1h0M139.6 625.5h0M129.5 632.9h0M131.3 603.8h0M132.7 631.3h0M127.4 642.2h0M129.2 642.0h0M147.1 595.7h0M137.7 629.9h0M144.0 597.5h0M137.4 587.1h0M141.6 573.7h0M126.6 639.2h0M169.1 512.6h0M135.0 600.5h0M133.3 615.3h0M132.4 618.3h0M127.3 639.4h0M127.5 636.8h0M156.7 608.5h0M145.7 578.4h0M134.6 528.5h0M152.4 540.5h0M145.2 603.1h0M125.7 626.3h0M134.8 607.5h0M125.3 636.0h0M178.0 485.0h0M136.4 577.4h0M155.4 554.5h0M153.3 499.1h0M151.5 591.9h0M137.0 611.2h0M145.1 602.0h0M128.3 640.7h0M134.0 635.8h0M126.8 620.0h0M126.5 639.9h0M127.6 616.0h0M132.7 630.3h0M133.7 641.3h0M129.9 631.1h0M128.0 627.3h0M170.8 457.7h0M128.4 624.7h0M131.6 621.2h0M138.7 615.1h0M167.8 560.0h0M129.3 621.1h0M133.7 560.2h0M140.4 576.5h0M140.7 556.2h0M131.0 639.0h0M123.5 629.9h0M132.4 628.4h0M130.1 629.0h0M130.0 640.7h0M147.2 531.0h0M145.6 614.6h0M129.2 627.0h0M185.3 443.5h0M126.4 639.0h0M127.7 641.5h0M125.9 625.2h0M166.2 582.2h0M173.3 580.4h0M124.3 628.2h0M125.3 630.2h0M161.6 555.6h0M144.7 627.1h0M126.6 640.1h0M173.7 576.7h0M131.2 639.5h0M182.5 571.4h0M135.8 619.6h0M148.9 611.5h0M217.1 343.4h0M140.0 580.6h0M130.4 638.2h0M128.5 635.8h0M133.4 630.1h0M126.2 633.7h0M126.2 626.2h0M165.6 571.1h0M136.7 616.7h0M129.5 625.6h0M127.0 624.8h0M148.6 591.5h0M137.6 608.1h0M136.1 584.1h0M154.9 575.1h0M173.5 434.2h0M128.9 639.6h0M157.7 575.1h0M143.1 629.1h0M133.4 641.3h0M145.1 628.5h0M138.5 589.6h0M129.8 624.7h0M126.1 638.6h0M142.2 632.2h0M128.5 637.3h0M132.2 637.8h0M126.1 627.6h0M131.8 639.9h0M132.3 521.3h0M126.6 628.6h0M178.7 557.8h0M132.4 638.4h0M126.9 615.2h0M171.7 579.8h0M170.8 575.4h0M158.6 568.2h0M126.9 629.8h0M133.4 585.7h0M138.2 623.1h0M174.0 579.5h0M173.5 545.6h0M123.5 623.1h0M147.4 590.4h0M131.0 640.8h0M126.0 642.1h0M163.1 567.0h0M161.1 532.1h0M145.2 588.7h0M152.5 553.5h0M134.1 617.3h0M127.5 637.5h0M135.5 602.3h0M127.8 604.2h0M192.5 549.7h0M126.0 631.4h0M184.1 439.7h0M146.5 604.1h0M127.4 642.7h0M153.4 599.0h0M134.5 607.0h0M141.5 635.4h0M151.2 596.9h0M128.5 643.1h0M154.7 464.3h0M129.9 601.8h0M125.3 639.3h0M129.2 639.8h0M143.3 576.6h0M192.4 469.1h0M162.6 571.0h0M135.4 616.7h0M137.6 570.7h0M149.8 602.3h0M152.4 600.8h0M140.4 625.8h0M129.9 625.9h0M127.8 622.6h0M169.0 562.9h0M124.4 632.6h0M132.5 632.1h0M150.8 546.1h0M161.7 563.2h0M128.6 632.9h0M140.8 582.0h0M132.8 634.2h0M145.0 589.5h0M130.7 619.6h0M135.6 616.6h0M128.1 621.3h0M149.8 549.7h0M128.8 616.6h0M124.8 636.6h0M127.8 632.9h0M165.8 557.1h0M140.9 589.0h0M135.4 623.4h0M137.6 597.6h0M164.3 594.3h0M148.4 612.1h0M140.6 614.0h0M197.1 509.3h0M146.8 578.6h0M139.9 627.5h0M134.9 607.8h0M130.9 630.8h0M131.5 642.0h0M138.3 624.6h0M132.6 620.0h0M131.6 588.8h0M127.7 634.2h0M127.0 626.3h0M126.0 631.3h0M126.9 609.2h0M176.0 557.6h0M143.6 602.7h0M143.0 584.9h0M165.1 567.8h0M138.3 622.8h0M139.7 572.5h0M133.4 605.3h0M134.3 616.8h0M127.3 641.0h0M140.1 632.9h0M169.7 493.3h0M128.0 627.9h0M133.3 634.1h0M127.5 635.9h0M142.5 615.4h0M124.8 631.3h0M152.4 593.6h0M151.9 601.6h0M138.7 596.4h0M148.4 540.3h0M164.3 511.3h0M166.2 561.7h0M165.0 513.9h0M123.8 615.2h0M153.6 608.4h0M179.3 566.4h0M157.3 552.3h0M124.4 642.6h0M135.9 619.9h0M134.3 599.0h0M134.1 611.4h0M130.8 630.1h0M138.4 631.4h0M148.1 615.9h0M123.6 642.6h0M124.6 635.6h0M131.7 628.5h0M176.9 562.5h0M171.3 471.5h0M162.2 577.9h0M143.6 579.3h0M143.1 629.3h0M121.1 633.1h0M166.0 586.1h0M134.6 637.2h0M161.2 522.2h0M158.3 584.2h0M149.5 593.3h0M142.3 586.6h0M127.9 610.9h0M149.6 608.1h0M124.3 635.1h0M133.4 639.0h0M157.3 583.3h0M177.7 476.0h0M132.3 633.0h0M144.3 611.1h0M157.2 578.5h0M137.6 582.4h0M145.4 629.2h0M126.8 627.9h0M128.9 635.5h0M131.6 618.9h0M152.3 571.7h0M126.6 622.1h0M164.3 576.4h0M126.9 635.3h0M130.1 641.2h0M165.9 554.2h0M171.2 548.4h0M128.4 636.8h0M133.7 624.1h0M137.0 620.0h0M129.2 636.8h0M152.3 584.6h0M130.4 628.0h0M172.0 570.7h0M130.1 635.6h0M124.4 643.1h0M128.8 639.7h0M136.4 636.7h0M150.2 561.8h0M127.5 626.7h0M144.4 575.4h0M136.3 639.4h0M133.4 631.4h0M137.0 634.9h0M152.4 595.4h0M145.6 577.9h0M128.0 636.0h0M130.5 628.9h0M128.5 628.9h0M140.0 633.8h0M130.2 583.0h0M133.9 636.1h0M120.9 615.9h0M158.1 576.2h0M137.3 600.8h0M145.8 608.2h0M130.3 631.8h0M136.4 638.4h0M131.3 642.7h0M129.8 634.5h0M177.5 544.0h0M145.4 598.9h0M139.5 578.1h0M156.8 593.7h0M127.8 614.6h0M125.0 628.3h0M128.8 630.3h0M131.1 642.8h0M127.3 637.0h0M178.8 559.4h0M137.9 609.5h0M132.4 641.2h0M128.6 612.3h0M177.3 567.3h0M124.7 642.9h0M148.9 600.1h0M148.7 483.1h0M129.6 641.4h0M124.1 641.4h0M141.5 544.5h0M131.5 618.5h0M130.6 627.4h0M141.0 632.8h0M134.8 605.6h0M149.6 594.8h0M125.5 626.5h0M166.7 561.1h0M139.9 601.7h0M141.2 611.8h0M139.0 576.2h0M152.6 569.1h0M130.2 588.2h0M134.1 626.4h0M135.9 638.5h0M143.8 592.4h0M130.6 628.6h0M122.1 635.1h0M134.5 636.7h0M125.8 638.0h0M161.5 572.6h0M127.8 643.0h0M125.6 640.8h0M173.4 565.6h0M146.6 598.5h0M140.3 622.5h0M131.2 619.7h0M142.0 534.4h0M137.5 592.8h0M156.3 527.6h0M140.5 586.5h0M153.3 579.6h0M153.7 602.9h0M160.0 520.6h0M138.9 611.1h0M172.6 574.7h0M140.5 600.9h0M158.1 576.0h0M124.8 642.1h0M133.6 636.5h0M186.0 506.1h0M135.7 629.1h0M126.8 637.7h0M129.0 642.0h0M155.5 603.9h0M136.7 626.2h0M124.0 640.3h0M165.1 543.9h0M145.0 552.3h0M131.0 623.1h0M130.3 620.3h0M164.7 556.2h0M126.2 631.8h0M140.0 611.3h0M129.0 613.2h0M130.6 618.0h0M126.7 640.7h0M135.9 629.4h0M131.2 632.7h0M127.2 629.6h0M134.5 608.2h0M133.1 622.7h0M127.8 623.7h0M152.8 603.9h0M129.3 628.6h0M144.4 624.8h0M170.9 572.9h0M137.7 617.5h0M170.6 503.5h0M130.3 632.9h0M132.4 591.1h0M137.4 598.1h0M143.3 577.1h0M142.9 618.6h0M127.3 617.1h0M139.8 611.2h0M156.7 592.7h0M130.4 601.4h0M129.6 626.7h0M133.9 629.5h0M150.8 585.2h0M130.7 637.7h0M154.7 562.2h0M140.8 598.2h0M127.1 631.8h0M162.0 598.7h0M175.4 511.5h0M171.6 439.4h0M188.4 524.3h0M286.2 457.0h0M143.8 516.4h0M157.0 417.8h0M228.0 422.1h0M143.2 518.0h0M162.3 389.3h0M129.9 553.0h0M172.7 550.5h0M182.6 497.1h0M144.5 420.4h0M230.8 445.5h0M159.7 379.6h0M197.5 536.7h0M154.9 574.2h0M249.9 365.7h0M228.6 341.2h0M241.8 469.4h0M131.0 576.8h0M195.7 402.6h0M262.1 401.7h0M221.5 460.9h0M239.8 443.2h0M281.3 422.4h0M160.9 502.0h0M264.5 361.1h0M211.2 351.5h0M164.2 483.4h0M152.9 572.8h0M176.3 398.6h0M175.4 410.1h0M145.9 409.2h0M253.8 348.4h0M217.8 355.7h0M262.8 438.5h0M278.9 428.6h0M245.3 504.8h0M129.8 385.9h0M178.3 566.3h0M186.9 500.8h0M159.9 547.5h0M248.8 370.1h0M210.7 549.8h0M205.9 462.7h0M147.0 442.0h0M171.1 560.9h0M254.8 470.9h0M227.1 430.9h0M152.3 460.9h0M202.4 505.4h0M227.6 414.7h0M157.8 485.8h0M208.2 441.2h0M224.4 370.3h0M181.6 308.7h0M138.0 551.1h0M168.1 564.2h0M183.1 428.2h0M178.7 540.0h0M174.2 462.7h0M203.9 447.5h0M179.6 428.9h0M222.1 441.7h0M141.1 448.6h0M149.4 366.0h0M134.0 551.0h0M151.3 466.9h0M168.4 397.3h0M156.0 463.9h0M148.2 479.8h0M137.9 537.4h0M287.5 385.3h0M179.2 485.2h0M206.4 540.2h0M161.5 549.4h0M232.3 380.7h0M181.1 451.4h0M180.3 528.3h0M147.2 444.1h0M156.7 519.9h0M175.1 421.3h0M231.0 439.9h0M255.9 342.8h0M213.3 516.4h0M232.4 431.0h0M218.6 349.8h0M277.5 421.3h0M149.5 392.4h0M167.7 453.9h0M155.9 573.9h0M167.3 567.9h0M142.7 553.8h0M182.7 546.9h0M185.5 565.5h0M175.7 388.1h0M215.6 484.9h0M138.4 544.1h0M150.5 571.4h0M168.2 509.7h0M270.8 373.7h0M189.9 446.7h0M279.9 395.5h0M201.1 540.5h0M198.9 547.6h0M156.4 459.7h0M259.2 261.8h0M153.6 568.6h0M136.4 561.1h0M180.1 569.7h0M173.8 536.9h0M185.1 579.7h0M180.9 424.6h0M174.8 369.8h0M126.2 552.8h0M153.6 549.4h0M191.6 422.6h0M153.6 507.4h0M201.2 353.1h0M199.2 379.2h0M142.8 576.7h0M154.8 559.8h0M160.3 389.8h0M145.2 518.4h0M205.1 530.0h0M154.2 492.2h0M167.8 485.6h0M132.9 524.0h0M231.2 306.7h0M150.1 575.6h0M222.7 509.5h0M252.7 479.9h0M280.4 427.1h0M268.6 424.7h0M250.8 511.0h0M256.3 397.2h0M161.6 528.0h0M282.3 349.2h0M188.5 457.2h0M225.4 427.7h0M280.9 267.9h0M201.7 527.0h0M161.2 562.6h0M142.0 457.6h0M216.0 414.2h0M225.9 519.2h0M266.3 363.6h0M164.2 556.1h0M185.2 486.6h0M229.7 524.1h0M200.4 434.8h0M200.5 491.4h0M223.0 500.2h0M227.8 511.9h0M145.0 545.1h0M202.9 468.7h0M171.6 468.8h0M181.3 467.9h0M289.8 318.4h0M283.4 453.0h0M140.0 569.3h0M168.5 523.9h0M168.0 453.8h0M191.4 550.3h0M164.1 424.9h0M255.1 464.9h0M145.3 429.8h0M132.2 462.8h0M224.6 375.7h0M159.4 501.7h0M199.1 376.3h0M171.1 474.0h0M175.4 539.6h0M150.5 564.0h0M145.9 520.0h0M222.8 455.9h0M234.7 401.1h0M220.3 426.8h0M180.7 424.2h0M227.0 520.8h0M173.8 540.8h0M154.6 377.1h0M153.9 474.4h0M189.3 539.0h0M218.4 527.4h0M161.3 361.2h0M156.2 501.8h0M132.2 570.6h0M159.1 557.2h0M278.9 412.9h0M153.3 554.2h0M148.2 578.8h0M134.6 570.5h0M151.1 559.1h0M186.7 367.2h0M160.4 469.6h0M132.6 519.5h0M129.6 559.1h0M164.7 552.4h0M190.9 464.2h0M242.8 448.9h0M199.2 527.8h0M175.7 425.6h0M264.6 466.0h0M145.1 556.3h0M225.5 427.0h0M156.4 555.6h0M257.5 331.8h0M286.0 349.7h0M182.6 451.1h0M137.8 523.8h0M231.7 408.1h0M137.0 575.0h0M174.4 507.0h0M232.9 345.2h0M179.2 412.3h0M137.8 557.5h0M186.3 363.1h0M208.7 304.4h0M195.4 416.4h0M157.6 307.9h0M225.0 400.5h0M154.9 482.9h0M153.7 552.2h0M207.7 475.2h0M144.0 497.8h0M223.8 364.4h0M269.4 446.0h0M155.8 517.9h0M259.3 481.0h0M164.5 571.3h0M182.0 465.4h0M184.2 568.7h0M162.1 403.6h0M177.6 523.5h0M196.5 541.1h0M141.3 575.8h0M136.5 389.2h0M218.9 511.3h0M156.4 569.8h0M183.6 485.0h0M148.6 578.7h0M144.8 565.6h0M253.8 431.7h0M153.4 482.2h0M161.7 440.1h0M138.4 547.9h0M253.3 330.0h0M141.1 525.5h0M169.3 274.9h0M288.0 330.8h0M193.7 542.8h0M229.8 404.6h0M166.1 501.0h0M174.5 566.8h0M179.1 391.2h0M196.8 459.2h0M187.5 542.6h0M205.2 510.7h0M171.8 512.8h0M157.0 396.9h0M167.3 491.0h0M137.5 553.9h0M152.3 491.3h0M143.1 515.7h0M176.3 527.5h0M137.7 451.7h0M214.3 489.0h0M153.1 449.1h0M224.3 425.6h0M265.9 343.1h0M168.0 562.3h0M151.8 445.4h0M129.6 530.1h0M202.6 402.1h0M129.9 506.6h0M144.1 536.0h0M154.2 527.3h0M191.8 479.6h0M150.0 579.4h0M209.6 381.2h0M134.1 536.2h0M169.9 367.5h0M148.0 485.7h0M200.9 278.8h0M288.3 334.9h0M172.2 564.8h0M189.6 535.9h0M182.4 317.1h0M247.8 348.2h0M255.2 360.1h0M128.2 554.5h0M165.5 480.2h0M131.6 553.0h0M172.9 507.8h0M158.4 540.8h0M248.1 371.9h0M138.3 531.9h0M293.1 431.7h0M156.1 515.1h0M183.2 381.1h0M206.0 441.4h0M177.0 547.0h0M286.8 343.2h0M133.9 382.1h0M188.0 428.6h0M203.6 403.7h0M131.3 552.3h0M149.9 560.8h0M148.6 552.1h0M224.0 470.2h0M128.0 514.2h0M184.6 501.2h0M143.8 516.1h0M163.4 510.5h0M169.3 568.5h0M205.6 517.8h0M261.4 311.7h0M174.3 537.7h0M217.5 498.1h0M146.0 544.3h0M200.7 443.7h0M177.3 402.7h0M167.8 486.8h0M214.7 409.6h0M208.7 505.2h0M155.0 495.3h0M172.1 526.0h0M183.4 304.9h0M150.8 544.5h0M200.4 367.3h0M179.1 479.4h0M168.1 465.3h0M147.5 578.2h0M167.5 546.2h0M142.9 566.8h0M155.2 423.0h0M169.7 485.6h0M137.6 560.2h0M173.5 557.0h0M167.0 505.9h0M182.6 485.9h0M231.0 418.0h0M172.0 491.9h0M153.7 558.6h0M142.3 531.6h0M143.8 550.7h0M174.5 508.3h0M174.2 355.1h0M258.2 394.9h0M156.8 466.1h0M149.6 562.7h0M156.9 479.9h0M177.3 571.0h0M157.8 480.0h0M193.9 534.1h0M154.2 526.3h0M204.6 289.1h0M175.9 469.3h0M202.3 501.6h0M166.2 578.7h0M179.5 549.8h0M284.3 413.3h0M177.4 431.5h0M264.5 482.5h0M190.0 450.2h0M243.8 451.6h0M166.7 500.3h0M257.3 324.6h0M208.4 468.1h0M194.7 341.3h0M173.7 294.3h0M133.6 556.1h0M247.6 334.0h0M155.4 519.2h0M185.8 541.5h0M227.8 347.1h0M185.9 345.1h0M224.0 309.3h0M137.2 560.3h0M204.9 480.0h0M205.2 380.0h0M182.6 578.0h0M165.1 510.5h0M148.6 561.8h0M228.0 355.9h0M189.9 503.9h0M159.7 538.8h0M200.5 472.0h0M143.7 484.2h0M227.3 327.8h0M199.4 404.9h0M213.4 419.4h0M227.5 471.4h0M283.4 293.5h0M203.1 350.1h0M181.4 505.1h0M148.8 579.0h0M254.7 419.6h0M162.3 491.7h0M195.4 484.5h0M144.1 541.6h0M215.1 492.7h0M253.5 487.8h0M222.6 319.9h0M246.9 293.2h0M254.4 471.8h0M264.5 368.4h0M204.3 438.7h0M215.3 379.9h0M160.7 545.5h0M178.5 430.7h0M166.6 517.6h0M175.5 505.8h0M151.3 527.7h0M163.7 424.4h0M255.2 384.9h0M166.7 559.4h0M172.2 483.6h0M154.3 531.0h0M152.0 471.8h0M317.5 306.5h0M163.9 368.1h0M229.5 379.1h0M201.2 311.6h0M183.1 530.9h0M139.0 574.8h0M283.6 461.6h0M136.8 576.6h0M223.4 362.9h0M235.1 447.0h0M160.4 507.7h0M224.2 516.9h0M284.8 308.7h0M155.2 563.7h0M174.2 580.6h0M242.4 431.5h0M152.1 431.7h0M224.5 514.0h0M137.4 465.5h0M132.0 490.1h0M163.3 558.3h0M204.9 516.4h0M208.9 365.9h0M215.4 441.7h0M155.2 558.4h0M163.7 570.3h0M255.6 435.2h0M279.9 344.4h0M141.2 543.5h0M280.7 406.3h0M160.2 409.0h0M215.7 463.8h0M207.6 347.6h0M207.2 523.4h0M210.3 557.2h0M185.0 443.6h0M203.2 522.5h0M276.0 372.8h0M227.6 449.9h0M204.1 382.5h0M201.0 359.2h0M197.1 425.3h0M150.1 452.3h0M192.8 303.1h0M184.2 516.1h0M213.0 516.5h0M206.6 429.2h0M161.1 469.4h0M255.5 424.4h0M156.2 357.7h0M155.5 573.7h0M127.9 570.1h0M151.2 475.8h0M182.3 550.4h0M164.2 487.0h0M161.0 574.4h0M194.3 510.1h0M153.8 557.5h0M130.4 498.8h0M169.6 498.7h0M173.9 513.0h0M150.9 554.0h0M219.8 368.3h0M197.0 530.8h0M226.7 530.7h0M146.0 581.3h0M156.0 448.1h0M155.1 525.5h0M144.8 452.8h0M154.5 506.0h0M259.2 282.2h0M145.9 550.6h0M180.0 396.2h0M149.8 482.5h0M263.6 385.4h0M133.5 572.2h0M202.0 532.5h0M203.1 557.9h0M138.6 538.9h0M165.7 564.2h0M159.6 518.9h0M227.9 347.9h0M249.6 340.5h0M159.6 537.4h0M227.3 429.4h0M160.6 530.8h0M147.2 469.7h0M129.7 556.3h0M206.3 444.3h0M258.5 352.2h0M158.0 553.6h0M209.9 433.3h0M185.6 459.9h0M167.6 542.3h0M226.5 417.6h0M150.2 571.3h0M291.1 308.7h0M140.4 539.5h0M191.3 556.4h0M151.8 512.2h0M202.3 397.9h0M226.1 359.4h0M144.2 541.4h0M128.5 533.6h0M200.7 543.2h0M169.0 577.7h0M143.2 508.5h0M134.0 572.7h0M164.9 579.0h0M227.1 505.0h0M169.3 541.8h0M177.2 386.1h0M126.9 581.2h0M148.5 484.4h0M170.6 485.7h0M149.9 525.0h0M151.9 556.9h0M150.0 425.9h0M164.6 537.9h0M162.6 552.6h0M195.1 459.7h0M163.6 470.7h0M149.9 561.5h0M141.3 443.0h0M154.7 547.9h0M144.8 562.9h0M137.8 451.2h0M170.1 437.6h0M201.4 395.2h0M257.8 400.5h0M136.5 557.8h0M178.2 426.6h0M165.5 423.6h0M139.2 518.0h0M194.5 427.9h0M211.7 427.6h0M151.9 570.0h0M170.7 579.8h0M210.8 539.9h0M179.1 544.0h0M164.1 453.8h0M176.9 447.2h0M133.6 550.1h0M167.5 491.3h0M262.1 403.4h0M231.7 440.4h0M150.2 533.2h0M144.0 457.5h0M159.8 548.6h0M182.2 408.1h0M234.5 267.4h0M261.7 377.3h0M255.8 360.5h0M138.6 395.6h0M148.4 577.8h0M176.2 518.3h0M150.0 469.3h0M140.1 377.0h0M205.7 548.6h0M153.8 515.5h0M174.6 421.3h0M188.7 480.4h0M154.9 555.4h0M143.0 575.0h0M142.1 573.3h0M159.0 504.3h0M187.0 492.1h0M176.5 465.7h0M222.2 282.2h0M185.1 431.4h0M181.2 551.5h0M186.6 450.1h0M155.8 519.3h0M166.9 578.4h0M207.4 545.5h0M283.7 438.0h0M276.6 413.0h0M149.7 569.0h0M281.7 404.0h0M153.5 530.6h0M227.1 515.4h0M152.9 499.5h0M200.1 436.2h0M132.6 577.2h0M162.8 541.3h0M202.5 463.9h0M199.1 386.4h0M254.9 462.9h0M199.6 322.6h0M155.7 394.6h0M208.3 413.2h0M177.1 382.9h0M175.7 493.5h0M187.1 378.1h0M285.2 351.7h0M180.1 339.6h0M157.9 561.9h0M257.1 345.6h0M142.5 574.7h0M157.0 569.6h0M251.0 487.8h0M161.5 562.1h0M202.3 302.6h0M136.9 538.2h0M153.2 492.3h0M189.1 509.9h0M169.3 581.4h0M233.3 384.6h0M281.7 435.5h0M173.7 525.2h0M141.1 392.5h0M148.8 568.1h0M173.5 385.5h0M172.4 459.0h0M132.8 537.2h0M150.4 559.0h0M190.9 544.6h0M190.4 550.2h0M220.9 462.6h0M297.2 454.5h0M238.3 495.8h0M162.6 390.3h0M143.5 493.5h0M153.4 497.4h0M153.4 438.8h0M256.5 378.2h0M258.8 351.6h0M219.8 449.6h0M164.4 494.5h0M126.6 578.9h0M220.3 398.6h0M281.5 299.7h0M208.7 432.9h0M241.4 478.0h0M163.2 503.0h0M185.2 443.9h0M206.4 567.0h0M257.3 405.3h0M224.0 421.5h0M161.9 419.7h0M148.5 576.1h0M161.5 480.1h0M246.2 447.9h0M207.1 327.0h0M162.0 457.0h0M157.5 547.5h0M141.0 553.8h0M181.6 573.4h0M154.7 399.5h0M282.9 317.7h0M163.0 391.6h0M229.7 339.6h0M176.5 558.4h0M141.5 429.0h0M134.2 553.3h0M144.3 429.7h0M196.9 358.8h0M222.6 424.2h0M199.6 510.0h0M140.1 576.9h0M137.9 515.1h0M128.3 547.4h0M135.4 488.2h0M130.2 568.6h0M138.5 557.2h0M156.0 579.5h0M150.7 554.8h0M177.8 527.4h0M181.3 600.1h0M184.8 594.3h0M180.7 579.0h0M183.7 599.0h0M179.2 580.9h0M179.3 640.7h0M179.7 590.4h0M177.0 634.3h0M184.3 626.6h0M181.3 576.5h0M182.3 578.7h0M184.4 619.1h0M181.7 587.8h0M184.2 611.6h0M175.9 631.9h0M183.5 637.0h0M181.4 618.0h0M179.6 623.2h0M183.1 604.6h0M180.9 600.1h0M179.3 576.9h0M176.7 612.7h0M184.5 592.1h0M175.3 592.1h0M190.9 552.3h0M188.9 557.6h0M181.7 561.1h0M184.4 564.3h0M185.9 553.4h0M187.2 560.5h0M187.9 550.4h0M189.1 548.1h0M184.2 554.6h0M183.1 552.5h0M189.5 559.6h0M185.7 551.6h0M182.8 562.4h0M185.8 565.8h0M186.8 554.3h0M185.2 554.4h0M185.3 561.9h0M189.9 554.2h0M185.4 549.1h0M188.4 562.5h0M160.0 616.4h0M159.7 621.4h0M163.2 630.0h0M156.4 623.1h0M161.3 637.3h0M163.2 642.8h0M158.8 607.3h0M165.8 617.3h0M165.9 614.8h0M160.1 630.4h0M162.1 642.9h0M162.1 642.3h0M161.2 632.0h0M161.3 634.1h0M163.4 624.9h0M165.9 633.2h0M162.5 609.5h0M162.6 629.3h0M162.6 631.0h0M160.9 630.0h0M163.7 634.5h0M161.3 638.9h0M167.4 605.5h0M166.4 628.4h0M167.6 630.1h0M166.6 619.3h0M167.7 617.6h0M169.1 616.1h0M167.5 617.4h0M167.1 640.4h0M168.0 607.7h0M168.9 610.3h0M191.2 625.1h0M193.3 632.7h0M194.3 630.8h0M195.0 631.8h0M194.1 627.9h0M197.3 628.7h0M177.2 655.7h0M168.8 655.1h0M169.3 653.3h0M171.4 652.2h0M168.5 655.8h0M170.0 655.8h0M174.3 653.8h0M171.4 652.7h0M182.7 653.7h0M183.4 655.0h0M185.1 654.1h0M182.1 654.3h0M184.9 655.3h0M158.1 653.8h0M158.7 655.6h0M160.6 655.8h0M158.5 653.0h0M157.7 651.2h0M157.7 651.0h0M158.7 650.9h0M159.7 652.4h0M158.7 649.9h0M157.0 652.9h0M119.9 561.5h0M121.8 560.8h0M120.4 562.5h0M117.1 559.8h0M149.7 655.6h0M150.5 650.3h0M150.8 646.0h0M155.5 648.7h0M150.0 651.2h0M150.5 647.8h0M150.2 648.7h0M149.8 651.0h0M149.7 650.9h0M150.5 647.4h0M143.6 651.3h0M142.2 654.2h0M143.2 653.0h0M145.8 653.2h0M141.3 652.9h0M144.6 653.1h0M142.8 652.9h0M150.9 654.4h0M365.6 308.1h0M299.3 397.5h0M384.8 363.7h0M341.9 446.5h0M283.9 452.7h0M411.6 266.6h0M392.0 375.6h0M339.9 406.2h0M392.0 359.1h0M449.9 276.2h0M299.8 406.9h0M405.4 282.7h0M450.6 359.2h0M293.8 425.2h0M314.1 413.2h0M331.8 446.1h0M444.6 224.0h0M275.5 497.5h0M368.9 431.5h0M317.9 395.6h0M300.7 401.0h0M275.8 489.2h0M344.9 412.2h0M329.1 420.7h0M337.9 397.1h0M415.3 253.3h0M349.5 321.2h0M341.9 363.8h0M369.0 348.6h0M361.0 405.6h0M400.8 356.5h0M381.9 427.1h0M349.7 451.0h0M450.0 366.8h0M444.4 270.6h0M390.1 334.2h0M418.9 384.7h0M304.3 449.9h0M178.5 184.0h0M180.0 194.0h0M181.5 196.1h0M185.0 199.0h0M186.0 176.2h0M160.0 235.1h0M158.0 257.0h0M158.3 260.5h0M190.0 256.8h0M160.5 285.9h0M189.0 283.4h0M174.4 292.7h0M310.9 230.1h0M303.1 250.0h0M312.3 261.1h0M315.9 269.2h0M322.2 256.8h0M332.1 262.4h0M345.6 237.6h0M368.9 251.5h0M390.1 257.4h0M398.6 259.9h0M409.9 208.5h0M414.9 237.6h0M416.3 238.2h0M407.5 298.5h0M424.8 312.5h0M466.5 60.0h0M470.5 63.5h0M634.5 54.8h0M668.5 140.9h0M523.4 192.0h0M459.0 209.1h0M448.8 254.5h0M462.5 343.5h0M446.5 359.0h0M196.3 603.1h0M194.2 575.3h0" stroke="#0868ac" stroke-width="3.7" stroke-linecap="round" fill="none" clip-path="url(#ca)"/>
<line x1="109.3" y1="643.4" x2="503.6" y2="42.4" stroke="#ff0000" stroke-width="3" clip-path="url(#ca)"/>
<path d="M97.3 662.0v8M97.3 662.0h-8.5M238.8 662.0v8M97.3 538.1h-8.5M380.2 662.0v8M97.3 414.2h-8.5M521.7 662.0v8M97.3 290.2h-8.5M663.1 662.0v8M97.3 166.3h-8.5M804.6 662.0v8M97.3 42.4h-8.5" stroke="#000" stroke-width="2.2" fill="none"/>
<g stroke="#bdbdbd" stroke-width="3.9" fill="none" stroke-linejoin="miter"><rect x="93.0" y="533.8" width="151.6" height="131.6"/><line x1="93.0" y1="533.8" x2="473.2" y2="278.2"/><line x1="244.6" y1="665.4" x2="806.0" y2="570.0"/></g>
<path d="M97.3 42.4V662.0H804.6" stroke="#000" stroke-width="2.3" fill="none" stroke-linecap="square"/>
<rect x="473.2" y="278.2" width="332.8" height="291.8" fill="#fff"/>
<path d="M525.7 556.8h0M520.0 536.6h0M516.8 524.8h0M527.0 544.1h0M516.2 543.0h0M538.6 510.7h0M528.1 525.6h0M525.0 513.4h0M506.7 566.4h0M504.2 560.9h0M507.3 561.9h0M529.4 559.0h0M524.6 513.6h0M505.6 562.5h0M529.1 530.0h0M511.8 559.8h0M511.8 542.4h0M552.1 536.3h0M523.2 507.0h0M527.1 562.0h0M527.4 551.8h0M505.5 561.5h0M528.5 508.2h0M607.5 469.9h0M507.8 558.4h0M541.4 473.3h0M544.9 544.5h0M544.3 506.5h0M513.5 530.9h0M516.7 515.0h0M521.5 490.6h0M562.7 497.4h0M512.0 541.1h0M503.7 558.2h0M523.5 510.6h0M545.1 552.2h0M518.3 541.2h0M580.5 414.6h0M519.4 552.2h0M523.0 511.7h0M508.6 551.7h0M517.0 564.8h0M543.9 527.0h0M544.4 522.5h0M558.7 532.3h0M541.6 548.0h0M534.4 560.1h0M503.6 565.7h0M510.7 552.5h0M623.6 338.0h0M514.2 563.2h0M538.7 498.4h0M521.3 522.1h0M539.6 555.1h0M523.9 521.2h0M509.1 551.1h0M511.2 549.9h0M530.3 517.4h0M514.7 542.1h0M503.7 559.0h0M534.9 549.9h0M550.7 547.0h0M547.4 453.3h0M548.2 548.3h0M505.5 551.3h0M576.3 444.5h0M520.0 510.9h0M509.9 553.1h0M515.4 535.8h0M512.0 563.0h0M507.2 562.8h0M522.3 539.2h0M526.0 521.5h0M519.0 535.9h0M525.8 527.5h0M519.5 553.7h0M511.8 531.2h0M513.6 539.1h0M534.2 567.1h0M506.0 546.6h0M514.1 547.4h0M546.7 525.8h0M527.3 511.4h0M537.6 476.4h0M522.6 495.7h0M507.7 545.3h0M516.0 540.3h0M524.9 540.3h0M516.0 538.5h0M519.5 552.0h0M526.2 531.6h0M544.8 535.9h0M515.1 556.7h0M554.6 535.3h0M522.6 534.6h0M548.3 471.3h0M553.5 482.0h0M580.0 549.5h0M551.3 543.1h0M551.7 482.8h0M578.5 531.6h0M504.8 551.2h0M509.5 559.8h0M550.4 505.1h0M526.7 499.7h0M526.5 545.6h0M505.7 551.8h0M510.0 548.5h0M539.1 494.4h0M536.2 529.8h0M513.8 554.4h0M510.9 545.3h0M512.1 562.4h0M534.2 527.5h0M506.4 554.1h0M523.7 523.1h0M506.0 553.7h0M547.0 533.1h0M527.5 500.7h0M563.1 472.3h0M503.3 562.1h0M503.8 558.7h0M513.4 560.3h0M571.1 486.6h0M508.1 555.4h0M562.0 546.9h0M526.8 548.0h0M526.5 493.2h0M540.6 489.4h0M509.2 544.2h0M513.4 539.7h0M507.3 552.6h0M525.5 519.0h0M591.1 513.8h0M516.7 526.0h0M535.4 552.2h0M531.8 531.4h0M527.6 518.4h0M520.1 541.2h0M564.5 541.9h0M525.5 507.0h0M515.2 553.5h0M555.2 549.0h0M544.4 542.6h0M530.9 505.8h0M521.3 519.0h0M579.9 509.3h0M524.4 512.0h0M514.1 522.2h0M539.2 507.3h0M518.7 556.7h0M524.2 538.4h0M517.9 555.2h0M521.0 509.9h0M505.2 559.6h0M511.3 549.8h0M512.3 550.8h0M519.3 553.0h0M530.3 560.2h0M509.7 560.0h0M608.5 397.4h0M521.4 556.2h0M533.7 497.9h0M508.6 567.4h0M510.7 544.6h0M580.5 488.9h0M540.6 561.7h0M521.5 534.1h0M506.7 562.6h0M578.2 507.8h0M510.3 565.5h0M516.0 552.7h0M521.3 552.7h0M533.1 558.5h0M524.8 522.9h0M523.8 557.6h0M599.6 374.2h0M526.9 528.5h0M535.6 533.3h0M545.7 538.0h0M513.5 568.2h0M624.5 460.8h0M512.2 532.5h0M524.4 522.0h0M508.2 551.7h0M508.2 568.3h0M559.2 474.6h0M516.5 533.7h0M522.8 539.6h0M518.8 561.7h0M506.1 548.6h0M521.6 536.9h0M556.7 531.7h0M512.1 559.5h0M535.7 493.8h0M557.8 542.2h0M507.7 567.0h0M549.2 472.4h0M504.0 564.1h0M542.1 531.2h0M518.0 533.4h0M508.5 562.5h0M521.9 521.8h0M513.9 542.3h0M504.9 556.1h0M556.0 475.4h0M559.6 514.4h0M509.2 543.7h0M516.8 518.8h0M515.5 538.4h0M519.4 526.5h0M507.1 543.2h0M552.1 550.0h0M525.7 533.8h0M509.9 539.8h0M515.8 526.5h0M512.2 555.4h0M520.9 520.3h0M541.7 542.6h0M542.2 469.7h0M508.8 555.9h0M526.9 535.0h0M510.7 544.0h0M504.6 550.2h0M508.9 558.4h0M524.3 514.9h0M505.6 563.0h0M512.6 526.8h0M535.4 559.9h0M512.9 540.9h0M512.5 544.9h0M510.0 534.6h0M504.2 561.5h0M519.1 517.2h0M525.0 547.4h0M526.8 538.8h0M509.3 540.6h0M509.5 543.1h0M547.1 531.5h0M510.1 561.3h0M518.5 541.7h0M508.9 564.9h0M508.9 556.5h0M505.7 546.5h0M573.6 520.5h0M517.7 529.8h0M504.0 565.8h0M525.0 561.4h0M523.6 499.8h0M524.2 554.9h0M569.1 437.9h0M522.7 549.6h0M524.2 518.2h0M512.6 530.8h0M509.2 558.7h0M523.4 537.7h0M521.8 556.0h0M510.2 560.5h0M515.3 536.7h0M525.6 497.0h0M527.2 531.8h0M514.3 532.4h0M503.5 557.6h0M529.3 506.2h0M509.9 535.6h0M515.3 549.6h0M507.8 543.9h0M529.1 494.7h0M517.1 537.7h0M504.9 555.3h0M531.6 498.8h0M535.5 500.9h0M520.3 521.8h0M536.9 482.1h0M505.7 556.3h0M563.7 507.4h0M531.4 483.8h0M554.3 448.9h0M505.8 553.0h0M514.1 542.5h0M518.2 522.1h0M592.5 489.4h0M523.4 504.4h0M507.3 554.8h0M536.7 495.9h0M528.2 551.9h0M512.2 563.2h0M546.5 464.9h0M559.5 513.9h0M519.3 558.3h0M509.6 562.1h0M541.5 545.9h0M533.4 553.8h0M518.3 532.6h0M511.1 553.8h0M518.9 513.7h0M535.4 507.1h0M525.3 565.4h0M540.3 534.2h0M589.9 455.8h0M533.5 528.6h0M548.5 459.3h0M524.8 531.7h0M604.9 496.5h0M524.6 514.5h0M571.6 458.0h0M577.7 475.2h0M521.7 528.9h0M548.5 478.5h0M505.7 563.3h0M534.2 486.7h0M505.6 552.4h0M538.8 493.6h0M516.5 544.1h0M520.6 524.1h0M510.6 551.8h0M530.6 531.0h0M544.6 489.7h0M510.5 563.0h0M518.6 533.7h0M530.9 495.2h0M514.1 547.4h0M565.5 501.6h0M607.4 504.5h0M531.0 530.7h0M523.0 513.0h0M528.4 496.1h0M511.6 561.8h0M506.1 560.4h0M512.4 568.2h0M530.8 514.6h0M518.9 554.4h0M510.8 559.3h0M509.4 560.5h0M525.0 537.6h0M518.6 518.8h0M545.5 509.0h0M509.3 558.7h0M523.2 566.9h0M611.1 423.5h0M518.3 522.4h0M538.8 549.2h0M516.0 556.5h0M590.4 446.4h0M544.9 493.5h0M512.9 559.4h0M521.5 519.5h0M544.9 498.7h0M512.6 566.2h0M514.5 559.2h0M503.1 556.8h0M531.9 544.6h0M606.3 533.4h0M504.3 553.4h0M507.8 558.3h0M527.5 554.1h0M534.3 485.4h0M533.1 497.2h0M519.3 519.4h0M515.5 564.9h0M504.8 564.3h0M598.2 517.7h0M570.6 524.4h0M513.5 534.7h0M524.4 515.5h0M519.7 560.3h0M517.2 530.6h0M508.8 543.6h0M626.0 463.8h0M520.7 567.0h0M545.7 535.8h0M521.3 567.7h0M532.3 498.3h0M582.0 467.9h0M527.6 518.6h0M578.8 545.3h0M513.6 567.6h0M544.2 469.4h0M574.1 501.9h0M547.2 531.2h0M513.7 556.1h0M518.3 531.3h0M513.9 537.2h0M533.5 564.7h0M521.4 548.7h0M512.5 538.0h0M507.7 562.8h0M513.9 538.4h0M524.5 530.8h0M545.4 485.5h0M534.7 473.7h0M543.2 464.0h0M566.7 461.0h0M535.7 542.2h0M506.0 563.3h0M520.3 518.5h0M506.6 561.8h0M528.1 495.5h0M504.7 560.2h0M523.7 565.2h0M527.8 521.4h0M540.6 481.0h0M524.8 520.9h0M647.5 511.5h0M516.7 548.7h0M548.4 525.1h0M516.3 554.2h0M516.5 561.9h0M529.2 540.1h0M504.4 567.2h0M548.9 530.3h0M523.9 493.3h0M543.1 504.6h0M508.1 540.5h0M576.7 515.7h0M563.3 483.2h0M554.2 531.3h0M522.3 512.1h0M547.8 461.7h0M523.8 517.1h0M565.5 542.6h0M504.6 545.0h0M526.0 526.5h0M570.3 473.5h0M549.5 520.6h0M551.5 519.4h0M548.0 552.5h0M529.3 542.6h0M510.4 546.3h0M537.7 559.4h0M517.1 539.7h0M519.9 510.3h0M522.8 507.9h0M525.2 539.5h0M510.0 563.1h0M544.3 546.4h0M530.0 543.8h0M562.2 449.0h0M608.9 503.1h0M546.9 541.8h0M528.0 547.2h0M506.9 561.2h0M524.6 549.1h0M530.2 507.0h0M532.5 500.7h0M526.5 533.2h0M515.8 551.8h0M552.7 488.8h0M529.2 514.8h0M558.1 550.2h0M513.1 550.2h0M533.4 535.0h0M564.6 444.2h0M564.7 515.9h0M508.7 549.4h0M523.5 504.9h0M518.5 551.0h0M564.7 528.8h0M536.2 472.7h0M513.9 562.1h0M524.9 502.3h0M516.2 555.4h0M526.3 522.1h0M517.3 547.3h0M530.9 558.6h0M565.1 481.1h0M625.4 514.3h0M549.3 559.7h0M598.8 443.7h0M544.3 517.9h0M546.7 498.9h0M537.6 529.0h0M523.9 520.5h0M509.3 552.4h0M520.9 510.6h0M535.2 552.7h0M510.6 536.8h0M525.1 504.0h0M522.3 507.2h0M522.6 553.0h0M526.1 542.2h0M541.3 537.3h0M518.8 527.8h0M522.2 552.0h0M510.7 548.6h0M517.7 553.8h0M511.6 557.7h0M535.7 522.6h0M608.8 395.4h0M594.2 505.4h0M513.7 547.5h0M537.0 484.9h0M526.8 567.1h0M504.3 562.1h0M503.3 559.0h0M512.8 546.3h0M521.0 557.0h0M506.2 562.4h0M509.0 559.4h0M510.0 555.3h0M509.1 564.1h0M506.5 559.4h0M519.2 513.3h0M541.1 547.7h0M530.4 489.4h0M509.9 545.8h0M520.5 518.0h0M524.7 499.0h0M503.8 564.7h0M552.0 496.0h0M512.0 542.4h0M506.5 556.9h0M637.5 463.8h0M508.6 565.6h0M517.7 518.8h0M511.6 545.7h0M552.1 504.2h0M518.2 543.1h0M505.5 556.4h0M503.2 557.5h0M514.2 563.3h0M599.5 502.4h0M508.2 561.0h0M563.2 460.3h0M510.2 549.6h0M520.1 540.7h0M529.6 525.3h0M521.2 494.4h0M513.0 554.0h0M531.0 565.7h0M514.0 551.1h0M534.5 484.3h0M506.0 561.7h0M507.9 563.6h0M521.3 511.7h0M521.2 543.7h0M547.0 492.8h0M517.1 564.7h0M524.6 524.5h0M521.8 530.4h0M535.0 541.8h0M534.7 538.2h0M522.9 520.8h0M547.5 530.7h0M571.5 407.5h0M512.6 536.9h0M513.5 545.0h0M513.0 564.3h0M512.1 568.4h0M512.8 556.6h0M524.8 480.6h0M543.7 476.7h0M512.4 543.6h0M533.7 532.6h0M515.9 551.9h0M638.4 506.0h0M529.0 557.7h0M542.7 546.2h0M509.1 564.8h0M510.2 558.4h0M527.9 545.7h0M511.3 552.4h0M522.1 520.1h0M558.5 547.1h0M511.6 537.7h0M510.4 553.4h0M526.7 564.1h0M518.2 562.8h0M539.1 547.8h0M520.4 562.8h0M508.2 551.9h0M503.3 561.8h0M531.0 492.3h0M511.8 547.1h0M525.5 539.3h0M511.2 551.9h0M531.2 558.9h0M552.6 449.9h0M553.6 528.8h0M562.3 475.2h0M522.5 533.4h0M549.9 528.4h0M530.7 528.4h0M518.3 555.1h0M514.9 549.6h0M510.8 532.8h0M552.3 485.1h0M523.9 494.2h0M511.5 557.3h0M520.5 514.6h0M592.7 433.3h0M505.8 558.5h0M506.0 543.0h0M569.8 507.9h0M505.6 555.9h0M567.8 532.8h0M513.5 557.2h0M532.7 481.9h0M564.3 493.3h0M564.4 535.1h0M544.2 481.2h0M522.8 506.0h0M518.0 514.8h0M518.4 512.9h0M576.5 540.8h0M531.0 496.3h0M559.2 551.9h0M516.8 530.2h0M530.5 498.3h0M516.3 547.1h0M609.3 499.9h0M507.6 559.1h0M536.7 467.7h0M548.6 500.5h0M510.5 559.4h0M547.9 562.8h0M534.0 525.1h0M668.0 494.0h0M573.5 492.4h0M522.9 557.3h0M552.5 534.3h0M533.9 518.1h0M515.5 533.0h0M541.5 476.4h0M536.5 495.0h0M580.1 484.4h0M505.8 555.7h0M506.1 564.0h0M511.3 555.2h0M541.7 504.3h0M556.7 506.8h0M521.4 546.9h0M529.9 537.7h0M524.9 482.3h0M504.7 555.9h0M510.7 564.4h0M550.5 486.9h0M548.0 547.8h0M561.0 542.2h0M542.9 550.6h0M531.0 517.0h0M532.8 547.1h0M506.3 563.2h0M595.9 392.1h0M521.0 543.0h0M552.1 483.5h0M546.1 488.1h0M540.3 557.7h0M571.3 489.4h0M521.2 537.3h0M552.1 522.2h0M535.6 549.1h0M507.1 553.8h0M513.1 538.4h0M507.3 550.0h0M505.0 560.0h0M536.2 493.4h0M553.2 558.8h0M519.0 530.8h0M518.8 532.1h0M506.9 563.5h0M533.3 531.4h0M509.8 544.5h0M541.4 532.9h0M542.8 468.9h0M504.4 558.5h0M536.4 548.9h0M547.3 470.0h0M508.5 556.3h0M566.6 483.8h0M529.2 507.2h0M543.0 482.1h0M545.7 536.6h0M510.6 558.1h0M583.9 451.3h0M525.2 567.9h0M521.9 550.3h0M504.7 550.0h0M509.8 556.9h0M523.3 494.3h0M569.5 503.5h0M565.4 450.8h0M518.8 550.1h0M507.5 561.9h0M506.9 563.2h0M586.2 546.2h0M531.2 550.3h0M508.3 561.4h0M577.0 449.5h0M538.4 493.2h0M545.6 483.7h0M549.0 553.5h0M532.6 511.4h0M514.9 535.5h0M504.6 565.5h0M506.2 561.0h0M510.1 558.1h0M537.5 499.6h0M511.7 531.9h0M547.1 525.3h0M550.9 481.1h0M577.5 440.0h0M579.2 443.4h0M583.3 498.0h0M529.7 553.7h0M528.1 501.9h0M513.4 555.7h0M531.1 536.4h0M527.5 496.1h0M513.0 559.1h0M503.9 551.5h0M570.9 412.3h0M539.9 488.3h0M509.2 550.9h0M515.9 551.5h0M547.3 525.8h0M514.9 544.5h0M532.7 511.4h0M557.8 512.3h0M550.6 516.8h0M522.0 533.8h0M510.7 552.5h0M517.8 534.6h0M547.0 558.4h0M521.5 524.8h0M586.8 452.3h0M594.9 435.4h0M578.7 518.0h0M546.1 515.0h0M507.6 548.8h0M589.7 452.5h0M547.7 518.3h0M513.6 552.8h0M510.9 549.5h0M514.1 541.6h0M529.2 486.7h0M506.0 545.1h0M564.3 467.9h0M518.3 533.5h0M540.9 538.7h0M504.6 547.0h0M682.2 500.1h0M557.4 531.8h0M523.2 548.8h0M507.7 557.1h0M579.4 470.4h0M517.2 511.0h0M516.8 531.2h0M510.4 563.7h0M507.2 562.2h0M523.3 495.8h0M525.5 531.2h0M516.8 553.6h0M508.3 557.0h0M578.3 531.8h0M583.6 502.3h0M510.7 543.4h0M567.9 542.0h0M525.7 558.5h0M523.1 501.9h0M606.6 473.8h0M600.1 455.5h0M516.3 564.9h0M544.1 514.0h0M513.4 534.8h0M504.6 565.7h0M549.8 512.7h0M535.5 500.3h0M544.4 533.3h0M619.7 349.3h0M518.4 540.6h0M536.5 480.4h0M527.4 513.7h0M503.7 565.9h0M519.7 558.0h0M504.8 555.8h0M524.7 496.7h0M508.1 555.2h0M507.4 561.9h0M571.5 445.8h0M515.7 530.7h0M517.8 522.1h0M531.2 498.9h0M509.3 558.1h0M511.0 559.8h0M533.4 493.2h0M528.6 542.4h0M512.6 558.0h0M588.6 536.2h0M513.8 539.3h0M510.6 545.1h0M532.5 485.5h0M511.5 561.2h0M562.3 521.1h0M530.3 532.4h0M511.5 556.9h0M618.9 424.1h0M515.6 516.4h0M522.1 522.0h0M530.2 500.0h0M530.9 477.3h0M532.5 535.4h0M506.1 552.1h0M524.1 549.3h0M503.4 552.5h0M518.0 516.2h0M520.4 520.6h0M536.2 566.2h0M510.4 555.5h0M529.1 527.0h0M515.0 558.2h0M524.4 501.3h0M509.1 560.2h0M550.6 485.0h0M548.4 472.6h0M504.6 564.0h0M517.6 530.0h0M515.9 561.9h0M506.2 549.4h0M517.5 531.1h0M506.6 558.7h0M525.4 494.5h0M541.0 488.3h0M512.0 563.2h0M537.4 539.8h0M566.8 461.2h0M512.1 553.8h0M557.9 477.1h0M558.8 452.5h0M566.4 529.1h0M523.5 556.9h0M529.6 509.4h0M510.5 537.7h0M548.2 484.5h0M543.8 516.9h0M532.5 554.6h0M523.4 500.0h0M512.4 541.5h0M503.0 554.8h0M513.7 539.7h0M520.7 523.5h0M510.5 547.7h0M623.4 487.6h0M513.1 566.0h0M509.4 548.9h0M591.2 463.6h0M504.6 560.3h0M561.1 502.3h0M563.1 435.6h0M522.0 509.9h0M506.2 546.4h0M513.6 557.2h0M527.4 563.0h0M548.9 487.9h0M538.5 516.8h0M535.1 560.5h0M516.2 512.3h0M557.3 506.3h0M508.7 559.8h0M512.5 551.3h0M528.2 498.6h0M545.8 460.5h0M536.2 517.7h0M537.6 530.2h0M515.3 528.9h0M553.9 501.5h0M512.9 562.3h0M506.4 559.3h0M508.2 544.2h0M535.1 518.8h0M547.3 549.0h0M509.0 553.1h0M524.0 510.4h0M598.1 419.6h0M531.7 502.7h0M574.9 509.1h0M556.9 523.6h0M561.7 529.2h0M518.4 548.5h0M533.6 558.3h0M623.4 362.1h0M511.7 535.8h0M565.3 521.2h0M514.2 530.6h0M526.0 537.3h0M541.1 496.8h0M517.2 555.2h0M520.0 500.2h0M507.6 558.4h0M521.8 553.5h0M506.6 553.7h0M534.8 510.1h0M527.1 550.8h0M557.9 503.9h0M519.6 566.1h0M557.4 555.2h0M561.7 542.1h0M564.9 446.1h0M546.0 516.6h0M535.9 546.3h0M531.2 538.4h0M515.9 543.2h0M523.3 565.1h0M523.7 565.4h0M609.5 519.1h0M507.2 554.5h0M519.2 512.8h0M530.7 504.0h0M509.7 547.2h0M544.5 546.0h0M513.2 558.8h0M533.2 563.6h0M525.2 463.7h0M540.2 534.8h0M506.8 564.8h0M532.2 494.7h0M574.8 542.5h0M549.4 497.3h0M524.3 563.3h0M525.6 564.5h0M528.6 544.4h0M519.9 541.5h0M510.8 537.8h0M524.5 521.5h0M523.1 527.2h0M607.8 440.2h0M537.4 540.0h0M619.9 497.8h0M523.7 503.9h0M533.3 557.5h0M525.2 514.6h0M510.9 558.0h0M509.7 548.0h0M519.0 517.8h0M553.6 503.0h0M508.6 545.4h0M506.4 547.5h0M523.4 554.6h0M513.4 559.4h0M512.6 566.4h0M580.1 490.0h0M523.1 566.8h0M538.7 557.6h0M522.5 545.6h0M545.4 468.6h0M522.2 530.6h0M520.5 564.6h0M542.0 484.5h0M522.3 535.3h0M565.9 518.6h0M512.1 551.1h0M575.2 508.4h0M508.0 538.3h0M516.1 540.0h0M526.4 523.1h0M507.7 563.1h0M513.4 565.2h0M543.1 506.8h0M518.8 563.2h0M511.6 565.3h0M543.8 561.3h0M525.7 530.9h0M538.3 564.3h0M573.0 429.3h0M523.7 523.8h0M531.8 546.8h0M657.9 423.5h0M503.5 556.0h0M528.3 507.5h0M511.1 551.8h0M534.3 539.8h0M510.9 550.7h0M515.5 526.9h0M506.5 562.9h0M543.8 532.4h0M524.1 474.3h0M518.1 530.2h0M508.6 550.4h0M560.8 537.8h0M504.5 563.0h0M555.7 553.3h0M533.1 469.2h0M514.5 553.6h0M525.7 552.8h0M505.6 556.7h0M570.6 418.8h0M506.7 549.8h0M513.8 542.1h0M549.3 530.6h0M516.5 546.4h0M529.0 527.0h0M528.0 542.3h0M512.4 565.9h0M515.3 558.3h0M588.2 398.6h0M549.1 553.2h0M538.5 535.1h0M525.2 540.1h0M510.2 565.2h0M506.5 561.8h0M539.5 494.2h0M513.7 539.0h0M518.4 529.2h0M507.9 561.9h0M504.6 558.3h0M526.1 505.9h0M509.6 560.3h0M599.7 453.5h0M582.2 443.6h0M518.4 554.6h0M558.3 502.2h0M510.4 554.3h0M558.7 466.5h0M607.5 379.6h0M540.3 479.0h0M613.6 384.0h0M503.3 556.8h0M522.6 521.7h0M518.8 548.5h0M541.9 447.9h0M524.3 499.6h0M539.5 520.6h0M527.5 512.9h0M510.6 542.1h0M506.5 563.9h0M554.8 534.7h0M512.3 551.8h0M538.1 510.3h0M532.8 528.8h0M515.2 524.4h0M505.4 565.1h0M529.3 513.4h0M563.4 552.3h0M506.0 553.9h0M641.2 481.5h0M527.4 513.7h0M534.6 506.6h0M569.0 453.4h0M583.0 442.8h0M532.5 516.3h0M545.9 546.4h0M513.2 565.1h0M524.5 541.3h0M507.1 566.4h0M542.4 531.1h0M537.9 511.0h0M538.6 503.2h0M540.9 532.4h0M504.0 562.1h0M520.2 511.2h0M510.0 547.1h0M518.1 544.1h0M538.8 553.2h0M575.9 553.0h0M520.5 549.8h0M512.1 562.3h0M515.4 561.9h0M521.9 543.6h0M520.2 518.6h0M529.5 504.3h0M542.9 536.7h0M505.1 546.1h0M504.8 562.5h0M512.3 547.4h0M514.3 536.1h0M574.4 540.5h0M518.8 548.8h0M551.7 518.9h0M508.4 560.5h0M647.3 464.8h0M554.7 465.0h0M508.7 559.2h0M520.8 558.1h0M603.2 426.9h0M535.4 516.4h0M514.9 530.7h0M551.9 560.2h0M536.5 519.1h0M503.6 557.2h0M625.9 391.8h0M557.2 474.5h0M523.1 535.0h0M514.8 540.3h0M511.9 553.5h0M504.0 556.9h0M527.8 556.3h0M512.9 537.4h0M507.8 548.7h0M511.8 560.7h0M614.0 514.6h0M513.0 556.6h0M559.3 473.5h0M576.9 535.6h0M527.3 541.0h0M547.2 530.1h0M509.2 557.7h0M518.2 536.0h0M528.1 541.1h0M509.8 558.9h0M510.3 547.2h0M605.2 484.7h0M564.4 529.2h0M524.0 530.5h0M508.9 537.3h0M527.9 479.9h0M509.0 557.8h0M520.2 511.2h0M525.5 549.6h0M528.7 567.7h0M513.6 547.4h0M547.2 545.1h0M568.9 511.2h0M517.9 527.9h0M529.8 547.1h0M515.9 526.3h0M529.9 522.6h0M571.2 544.8h0M515.0 537.2h0M512.7 528.2h0M521.1 513.0h0M518.2 556.5h0M530.3 518.9h0M526.5 536.4h0M527.8 524.1h0M531.6 514.5h0M532.4 493.5h0M521.8 527.2h0M515.3 559.5h0M510.5 550.0h0M525.3 529.1h0M520.4 511.2h0M522.0 504.1h0M550.0 556.5h0M513.5 540.8h0M587.6 435.2h0M519.7 522.2h0M560.2 486.7h0M517.8 534.0h0M535.8 562.1h0M522.0 505.9h0M506.8 564.4h0M535.7 531.7h0M508.1 541.4h0M519.0 553.0h0M552.7 545.9h0M668.3 437.4h0M514.7 518.1h0M514.7 527.0h0M555.3 518.9h0M541.7 495.2h0M544.1 501.4h0M509.0 563.4h0M506.4 567.5h0M527.0 549.9h0M547.3 437.8h0M529.8 493.1h0M527.5 495.7h0M539.6 515.1h0M551.0 489.3h0M519.6 535.9h0M517.1 564.3h0M520.0 560.0h0M517.9 507.5h0M552.9 498.0h0M544.8 498.9h0M504.9 558.7h0M515.9 539.5h0M508.0 537.2h0M520.7 500.5h0M517.2 557.9h0M512.5 533.2h0M541.5 516.5h0M516.8 544.3h0M529.7 521.0h0M520.3 555.3h0M541.7 474.8h0M540.3 518.3h0M519.5 552.7h0M535.3 514.8h0M528.6 532.6h0M573.6 551.3h0M512.2 545.1h0M529.6 527.6h0M524.5 526.1h0M520.9 560.0h0M605.6 461.8h0M532.4 520.7h0M557.4 454.8h0M560.0 555.7h0M532.0 492.5h0M533.2 531.1h0M512.1 544.2h0M513.6 545.8h0M527.2 544.6h0M551.5 463.1h0M588.1 398.6h0M507.8 559.3h0M537.2 527.8h0M554.0 537.2h0M514.7 527.1h0M512.5 547.8h0M506.0 553.9h0M541.4 481.2h0M524.2 533.5h0M535.5 560.2h0M512.1 536.2h0M526.4 515.8h0M554.0 468.8h0M526.0 554.5h0M545.7 530.5h0M561.7 461.2h0M529.3 482.7h0M539.6 492.4h0M554.5 530.2h0M551.8 512.4h0M567.4 476.9h0M528.2 527.0h0M521.5 542.6h0M613.9 487.9h0M529.2 508.4h0M540.4 522.4h0M602.4 527.1h0M518.6 534.7h0M563.8 508.7h0M630.9 398.2h0M521.7 506.0h0M539.8 509.2h0M545.8 528.9h0M518.6 535.9h0M534.2 489.7h0M506.7 563.6h0M515.8 535.1h0M561.7 453.5h0M538.7 467.8h0M508.9 539.8h0M510.3 549.2h0M537.6 498.0h0M506.8 568.2h0M512.3 551.4h0M523.1 537.8h0M553.7 484.4h0M514.7 529.0h0M519.5 559.8h0M528.6 515.9h0M517.0 546.7h0M520.3 514.6h0M579.2 465.1h0M585.0 520.2h0M535.4 510.2h0M532.9 476.6h0M531.6 501.6h0M569.8 535.0h0M519.4 524.0h0M556.7 454.3h0M549.0 493.7h0M589.4 500.3h0M554.2 540.1h0M518.5 560.5h0M535.7 529.1h0M534.9 557.7h0M511.7 556.8h0M517.7 544.7h0M508.6 553.1h0M505.7 565.3h0M542.4 486.6h0M507.6 558.4h0M529.0 547.4h0M513.9 526.5h0M556.7 524.0h0M535.1 477.4h0M536.2 484.7h0M550.4 545.2h0M528.4 499.1h0M508.6 549.0h0M526.5 502.9h0M535.9 493.6h0M524.5 529.9h0M532.7 517.7h0M507.8 555.3h0M531.5 539.1h0M615.2 433.6h0M511.0 555.6h0M511.4 557.4h0M650.4 422.5h0M546.0 515.0h0M596.2 449.4h0M565.8 472.9h0M506.4 564.7h0M578.0 491.5h0M531.2 528.2h0M513.3 560.9h0M544.1 547.2h0M535.3 489.0h0M539.1 536.2h0M619.7 444.2h0M522.9 561.7h0M554.9 509.3h0M505.1 561.6h0M508.0 542.8h0M540.5 502.0h0M549.3 535.1h0M514.0 521.8h0M546.3 524.9h0M514.0 559.1h0M515.6 537.0h0M513.7 562.3h0M509.7 557.7h0M506.6 563.9h0M527.0 521.4h0M558.4 516.9h0M544.4 465.6h0M626.2 407.1h0M521.1 537.0h0M535.4 530.9h0M512.2 538.3h0M527.4 547.8h0M554.7 538.5h0M532.7 532.6h0M511.3 538.6h0M509.7 544.5h0M514.8 538.3h0M508.8 556.9h0M507.8 560.3h0M529.5 553.1h0M507.2 548.3h0M511.9 553.6h0M535.4 563.0h0M504.3 564.6h0M540.9 534.4h0M509.4 556.0h0M506.6 553.2h0M518.8 517.7h0M515.7 521.4h0M519.0 542.1h0M571.9 438.8h0M526.7 488.9h0M516.4 551.4h0M534.7 537.1h0M531.1 561.0h0M509.6 557.6h0M515.8 538.4h0M513.8 546.9h0M507.5 558.4h0M523.5 529.5h0M513.8 559.8h0M521.0 559.6h0M526.6 547.5h0M513.5 546.3h0M573.2 551.2h0M528.4 544.5h0M520.8 524.2h0M526.8 552.2h0M568.8 543.3h0M509.2 547.3h0M545.6 540.0h0M509.0 562.0h0M538.4 537.5h0M507.4 544.7h0M519.9 540.2h0M513.0 553.5h0M516.6 536.5h0M551.5 558.1h0M556.1 496.1h0M524.4 538.2h0M513.8 522.5h0M550.0 478.3h0M508.2 549.5h0M506.0 559.7h0M522.7 527.3h0M522.5 516.2h0M529.3 506.3h0M524.6 535.6h0M656.1 384.6h0M511.5 540.0h0M517.1 553.1h0M512.8 522.5h0M552.1 542.8h0M512.0 536.9h0M508.0 544.4h0M521.1 521.8h0M514.2 531.8h0M532.0 492.8h0M503.7 554.8h0M546.9 477.8h0M530.7 490.5h0M517.6 510.1h0M513.7 537.5h0M534.3 555.9h0M533.8 506.0h0M590.7 477.5h0M525.9 486.5h0M557.6 497.1h0M540.1 505.3h0M514.0 523.8h0M566.0 528.7h0M544.8 555.1h0M509.9 550.2h0M532.2 494.5h0M593.9 512.5h0M552.0 501.7h0M545.9 507.5h0M516.7 565.5h0M524.3 540.3h0M536.0 547.0h0M512.7 536.2h0M504.8 564.7h0M582.0 410.4h0M513.3 555.7h0M582.2 508.1h0M521.0 553.1h0M510.8 533.2h0M508.5 552.2h0M556.5 530.5h0M518.4 515.2h0M506.8 559.7h0M534.3 486.9h0M524.6 547.3h0M513.8 541.9h0M513.1 526.7h0M513.1 536.4h0M524.7 548.5h0M515.5 560.6h0M508.2 545.8h0M554.2 467.1h0M569.1 548.9h0M521.2 553.8h0M525.0 546.2h0M554.4 487.4h0M513.4 562.0h0M533.4 502.7h0M564.4 518.3h0M519.9 511.1h0M503.8 556.1h0M507.8 545.8h0M512.6 546.1h0M524.1 519.9h0M504.8 558.4h0M505.9 557.8h0M535.0 486.2h0M542.0 496.7h0M521.6 531.3h0M560.8 550.2h0M558.8 491.2h0M555.1 489.5h0M507.5 548.1h0M596.9 391.9h0M506.2 565.8h0M518.4 528.2h0M532.4 564.4h0M520.5 564.0h0M542.2 503.8h0M519.5 534.9h0M507.6 553.4h0M523.0 548.7h0M608.5 458.9h0M504.8 550.1h0M542.0 499.2h0M508.5 563.8h0M512.1 535.8h0M514.5 557.4h0M546.0 490.9h0M525.2 522.3h0M527.6 540.1h0M506.3 545.6h0M548.1 524.0h0M519.5 515.3h0M516.3 533.1h0M574.0 508.4h0M552.1 512.6h0M526.2 527.8h0M546.4 497.2h0M507.9 550.1h0M521.7 521.5h0M529.5 515.7h0M517.4 558.7h0M513.6 530.4h0M522.6 555.9h0M508.1 545.4h0M522.7 549.5h0M560.8 517.8h0M539.2 520.6h0M531.8 528.8h0M514.9 559.3h0M609.6 448.4h0M527.2 543.2h0M509.2 547.7h0M617.8 414.3h0M612.5 533.2h0M527.4 491.5h0M543.3 519.1h0M537.0 495.2h0M529.9 490.3h0M549.6 526.0h0M514.1 536.5h0M514.3 566.6h0M553.6 478.6h0M544.2 524.9h0M587.9 422.9h0M542.9 456.9h0M554.3 493.2h0M571.3 517.3h0M550.9 457.0h0M568.5 420.8h0M549.2 513.3h0M540.5 406.6h0M569.4 479.7h0M603.8 362.0h0M563.5 483.7h0M545.3 518.2h0M602.1 406.3h0M573.0 430.2h0M558.6 435.2h0M573.0 464.0h0M599.2 412.8h0M538.4 491.1h0M560.9 500.4h0M633.5 328.0h0M549.2 400.5h0M629.3 357.9h0M546.5 513.1h0M606.9 376.3h0M602.2 403.7h0M569.7 456.4h0M567.3 477.7h0M550.9 520.3h0M555.9 509.0h0M604.9 366.5h0M593.6 287.4h0M570.9 410.2h0M610.2 389.4h0M541.5 474.7h0M561.5 437.7h0M626.9 394.2h0M614.5 408.7h0M578.3 449.1h0M624.0 389.7h0M543.6 506.3h0M575.2 420.6h0M534.7 517.5h0M566.1 460.2h0M581.7 497.7h0M583.3 439.3h0M555.6 489.6h0M583.3 405.7h0M566.0 442.8h0M548.2 498.7h0M566.7 335.5h0M575.5 450.7h0M562.6 516.6h0M551.0 499.9h0M585.7 405.4h0M559.8 484.1h0M542.6 502.3h0M572.4 442.9h0M615.3 407.9h0M545.5 513.9h0M543.9 518.4h0M569.9 443.4h0M568.8 431.3h0M577.3 455.5h0M664.8 282.5h0M538.0 517.9h0M591.6 417.4h0M581.6 430.8h0M539.1 523.2h0M572.7 484.1h0M548.9 501.5h0M553.3 433.0h0M556.4 497.8h0M544.1 523.4h0M548.2 522.9h0M590.3 413.8h0M568.2 494.5h0M583.1 418.1h0M567.6 393.7h0M577.3 362.1h0M542.2 516.3h0M561.9 425.2h0M558.0 460.1h0M555.9 467.0h0M543.7 516.8h0M544.2 510.7h0M613.0 444.0h0M587.0 373.1h0M602.9 284.0h0M585.9 431.3h0M540.0 485.9h0M561.4 441.7h0M539.1 508.9h0M565.3 370.9h0M609.8 317.0h0M600.7 404.8h0M566.7 450.3h0M585.8 428.7h0M546.2 519.9h0M559.6 508.3h0M542.6 471.1h0M542.0 518.1h0M544.5 461.8h0M556.6 495.4h0M558.9 521.2h0M549.9 497.3h0M545.5 488.4h0M546.3 482.1h0M554.0 474.0h0M570.6 459.5h0M639.2 329.8h0M548.6 473.7h0M558.9 330.2h0M574.7 368.7h0M575.2 320.9h0M552.5 515.9h0M534.8 494.4h0M555.8 490.9h0M550.3 492.3h0M550.1 519.9h0M586.9 458.4h0M548.3 487.5h0M541.7 515.9h0M544.7 521.8h0M540.6 483.5h0M635.3 382.1h0M651.9 377.8h0M536.7 490.5h0M539.1 495.2h0M624.5 319.4h0M584.8 487.8h0M542.0 518.4h0M652.9 369.1h0M553.0 517.1h0M673.6 356.7h0M563.7 470.1h0M594.5 451.0h0M573.7 378.3h0M551.2 514.1h0M546.6 508.2h0M558.0 494.8h0M541.2 503.3h0M541.3 485.6h0M633.8 355.9h0M565.9 463.3h0M549.0 484.2h0M543.1 482.4h0M593.9 404.0h0M567.9 443.0h0M564.6 386.5h0M608.6 365.4h0M547.6 517.3h0M615.3 365.4h0M580.9 492.6h0M558.0 521.2h0M585.6 491.2h0M570.1 399.6h0M549.7 482.2h0M540.9 514.9h0M578.8 499.9h0M546.7 511.9h0M555.2 512.9h0M541.0 488.9h0M554.5 518.0h0M542.1 491.4h0M664.6 324.7h0M555.8 514.5h0M542.8 459.9h0M648.1 376.5h0M646.2 366.1h0M617.3 349.0h0M542.7 494.3h0M558.0 390.4h0M569.5 478.5h0M653.6 375.8h0M652.5 295.9h0M534.9 478.4h0M591.0 401.4h0M552.5 520.1h0M540.8 523.0h0M627.9 346.3h0M585.9 397.4h0M603.1 314.5h0M559.7 464.9h0M544.2 512.3h0M563.1 429.3h0M544.9 433.8h0M697.1 305.5h0M540.6 497.8h0M589.0 433.7h0M544.1 524.7h0M605.2 421.6h0M560.8 440.4h0M577.2 507.3h0M600.0 416.7h0M546.6 525.4h0M549.9 428.2h0M539.1 516.6h0M548.2 517.8h0M581.4 368.9h0M626.8 355.7h0M562.9 463.4h0M568.0 355.0h0M596.8 429.3h0M602.9 425.8h0M574.6 484.9h0M550.0 484.9h0M544.9 477.1h0M641.8 336.5h0M536.9 500.7h0M555.9 499.6h0M599.0 297.1h0M624.7 337.2h0M546.7 501.6h0M575.5 381.6h0M556.7 504.5h0M585.3 399.2h0M551.7 470.2h0M563.2 463.0h0M545.7 474.1h0M596.6 305.7h0M547.2 463.0h0M537.9 510.1h0M545.0 501.4h0M634.3 323.0h0M575.9 398.0h0M562.7 479.1h0M568.0 418.4h0M630.8 410.5h0M593.5 452.5h0M575.0 457.0h0M589.8 373.7h0M573.4 488.8h0M561.7 442.5h0M552.1 496.6h0M553.7 522.9h0M569.7 481.9h0M556.2 471.2h0M553.9 397.6h0M544.7 504.6h0M543.1 485.9h0M540.7 497.7h0M542.9 445.8h0M658.4 324.2h0M582.1 430.4h0M580.7 388.5h0M632.8 348.2h0M569.6 477.6h0M572.9 359.3h0M558.1 436.6h0M560.2 463.5h0M543.8 520.6h0M573.9 501.5h0M545.4 489.7h0M558.0 504.2h0M544.2 508.6h0M579.5 460.2h0M537.8 497.8h0M602.9 409.0h0M601.6 427.9h0M570.6 415.4h0M593.5 283.3h0M635.2 333.9h0M535.6 459.8h0M605.6 443.9h0M666.1 344.9h0M614.3 311.6h0M537.0 524.3h0M564.1 470.8h0M560.2 421.6h0M559.7 450.8h0M552.1 494.9h0M569.9 498.0h0M592.7 461.5h0M535.0 524.4h0M537.5 507.8h0M554.1 491.1h0M660.5 335.7h0M625.9 372.0h0M582.2 375.3h0M580.9 493.1h0M529.3 501.9h0M634.8 391.3h0M561.1 511.6h0M616.8 386.9h0M596.0 408.3h0M579.2 392.4h0M545.3 449.7h0M596.4 443.0h0M536.8 506.6h0M558.1 515.8h0M614.4 384.6h0M555.6 501.8h0M583.7 450.1h0M614.1 373.3h0M567.9 382.6h0M586.4 492.7h0M542.7 489.8h0M547.6 507.5h0M553.8 468.5h0M602.6 357.4h0M542.1 476.2h0M630.8 368.4h0M542.8 507.1h0M550.4 521.1h0M634.5 316.2h0M647.1 302.5h0M546.4 510.6h0M558.7 480.8h0M566.6 471.0h0M548.3 510.7h0M602.6 387.7h0M551.0 489.9h0M649.1 355.1h0M550.4 507.9h0M536.9 525.4h0M547.4 517.6h0M565.2 510.5h0M597.5 334.0h0M544.2 486.9h0M584.0 366.2h0M565.0 516.8h0M558.0 498.1h0M566.6 506.2h0M602.9 413.3h0M586.9 372.0h0M545.5 508.8h0M551.4 492.0h0M546.6 492.2h0M573.7 503.6h0M550.5 384.0h0M559.4 509.1h0M528.7 461.4h0M616.3 368.1h0M567.4 425.9h0M587.4 443.3h0M550.9 498.8h0M565.3 514.5h0M553.3 524.5h0M549.7 505.3h0M661.8 292.1h0M586.3 421.5h0M572.4 372.4h0M613.3 409.1h0M545.0 458.4h0M538.3 490.6h0M547.4 495.4h0M552.7 524.9h0M543.7 511.0h0M664.8 328.4h0M568.7 446.4h0M555.8 520.9h0M546.8 453.0h0M661.5 347.1h0M537.7 525.0h0M594.5 424.1h0M549.1 521.5h0M536.4 521.5h0M577.3 293.3h0M553.6 467.5h0M551.6 488.6h0M576.0 501.2h0M561.3 437.2h0M596.2 411.8h0M539.6 486.4h0M636.4 332.3h0M573.3 428.1h0M576.4 451.9h0M571.2 367.9h0M603.3 351.3h0M550.5 396.3h0M559.7 486.2h0M564.1 514.7h0M582.7 406.2h0M551.6 491.2h0M531.5 506.8h0M560.8 510.5h0M540.4 513.4h0M624.3 359.6h0M545.1 525.2h0M539.8 520.1h0M652.1 343.1h0M589.1 420.6h0M574.5 477.0h0M552.9 470.4h0M567.7 407.0h0M574.9 392.3h0M605.0 375.9h0M606.0 430.8h0M571.2 450.1h0M650.3 364.5h0M574.8 426.2h0M616.2 367.6h0M537.9 523.2h0M558.6 509.9h0M563.4 492.6h0M542.5 512.7h0M547.8 523.0h0M610.2 433.2h0M565.8 485.7h0M536.0 518.9h0M632.6 291.9h0M585.3 311.8h0M552.5 478.4h0M550.8 471.8h0M631.8 320.8h0M541.3 498.8h0M573.8 450.7h0M547.7 455.0h0M551.6 466.5h0M542.5 519.8h0M564.0 493.3h0M553.1 501.0h0M543.6 493.8h0M560.7 443.4h0M557.4 477.5h0M545.0 479.9h0M603.8 433.3h0M548.5 491.4h0M584.0 482.3h0M646.3 360.1h0M568.2 465.2h0M550.8 501.4h0M555.8 403.0h0M567.5 419.5h0M581.4 370.1h0M580.5 467.9h0M543.8 464.3h0M573.3 450.3h0M612.8 406.9h0M551.1 427.3h0M549.3 486.9h0M559.3 493.5h0M599.0 389.2h0M551.8 512.9h0M608.3 335.1h0M575.5 419.7h0M543.3 498.8h0M625.4 420.9h0M549.8 313.3h0M650.5 307.4h0M708.9 274.9h0M608.7 363.2h0M552.6 369.3h0M604.1 359.9h0M663.8 344.7h0M620.4 300.3h0M740.1 305.8h0M646.8 332.0h0M568.9 308.8h0M639.9 339.8h0M664.8 282.8h0M559.6 308.6h0M568.8 276.6h0M729.9 283.2h0M624.2 304.8h0M611.0 362.5h0M637.9 348.3h0M580.1 315.1h0M674.0 298.9h0M680.7 342.8h0M569.8 292.4h0M598.4 356.7h0M717.4 283.8h0M712.1 300.5h0M605.7 350.1h0M565.1 332.4h0M667.9 352.6h0M653.2 275.3h0M679.8 376.2h0M541.2 312.9h0M605.5 304.8h0M580.3 369.1h0M608.6 329.3h0M597.4 366.4h0M623.6 336.0h0M630.6 320.6h0M585.4 294.8h0M573.7 351.7h0M694.5 307.0h0M657.0 281.8h0M598.5 339.2h0M653.1 284.7h0M689.7 280.3h0M555.4 354.7h0M618.6 323.1h0M604.8 316.1h0M592.9 374.2h0M560.9 354.5h0M599.8 327.7h0M549.3 327.7h0M631.8 311.8h0M585.6 321.2h0M612.3 319.3h0M566.7 365.2h0M568.4 324.0h0M605.8 311.5h0M631.4 356.5h0M677.6 350.2h0M706.6 285.3h0M576.6 367.0h0M612.2 352.8h0M594.0 373.8h0M584.9 343.0h0M569.9 301.3h0M700.0 289.2h0M654.7 345.7h0M685.4 288.9h0M567.7 315.5h0M639.6 335.3h0M597.1 375.5h0M649.3 341.1h0M546.0 316.8h0M554.0 313.2h0M616.9 284.7h0M660.7 299.2h0M553.3 311.6h0M596.9 331.7h0M593.9 311.3h0M642.6 349.9h0M654.3 277.2h0M587.7 292.8h0M599.0 293.3h0M591.2 372.7h0M638.3 297.4h0M580.5 345.9h0M568.0 330.2h0M652.5 322.8h0M606.0 326.4h0M582.6 307.8h0M596.2 336.2h0M661.4 355.8h0M635.2 373.8h0M666.6 305.7h0M558.5 320.6h0M681.4 286.4h0M567.1 330.5h0M673.9 372.1h0M593.9 334.1h0M619.9 279.8h0M594.5 374.6h0M583.2 286.6h0M622.4 295.6h0M636.5 328.4h0M571.2 364.8h0M566.1 368.9h0M609.3 338.5h0M654.0 378.3h0M628.5 325.7h0M609.5 326.1h0M629.4 354.0h0M576.4 290.9h0M739.0 323.2h0M610.2 362.1h0M545.2 353.5h0M673.2 307.2h0M623.1 363.7h0M606.1 323.9h0M599.4 315.7h0M587.7 379.9h0M587.6 307.8h0M558.3 358.6h0M722.2 324.9h0M570.4 280.2h0M634.1 339.8h0M619.7 276.7h0M549.4 321.2h0M616.0 314.7h0M638.6 288.3h0M597.6 356.5h0M574.6 281.6h0M694.4 321.3h0M583.6 286.1h0M716.4 290.2h0M642.0 371.5h0M559.6 359.7h0M632.2 374.6h0M642.5 287.0h0M542.8 379.8h0M601.7 322.5h0M631.5 277.8h0M626.8 312.5h0M596.9 333.4h0M608.2 301.3h0M584.9 336.6h0M565.5 324.7h0M601.6 353.3h0M646.0 376.4h0M740.1 282.6h0M665.6 292.1h0M558.5 306.6h0M620.2 303.0h0M593.3 371.6h0M728.1 303.0h0M608.7 319.0h0M580.8 365.2h0M578.5 361.2h0M670.5 309.7h0M637.0 373.0h0M732.3 295.6h0M596.6 351.0h0M556.3 370.3h0M627.4 285.7h0M615.8 334.3h0M579.5 364.5h0M613.8 352.5h0M624.1 334.8h0M566.3 278.5h0M642.7 380.3h0M594.3 348.9h0M556.7 276.1h0M598.0 327.3h0M693.5 293.6h0M692.1 306.8h0M542.2 374.3h0M729.8 346.3h0M593.8 367.7h0M614.8 300.5h0M576.0 315.3h0M671.6 361.3h0M659.5 326.0h0M560.1 314.1h0M573.8 369.6h0M546.1 300.1h0M550.5 350.2h0M570.1 323.3h0M611.2 375.8h0M598.9 317.5h0M670.8 424.2h0M679.1 410.5h0M669.3 374.5h0M676.4 421.7h0M665.8 379.0h0M666.1 519.8h0M667.1 401.5h0M660.8 504.8h0M677.8 486.6h0M670.9 368.6h0M673.2 373.8h0M678.2 469.1h0M671.9 395.4h0M677.7 451.3h0M658.0 499.0h0M675.9 511.2h0M671.1 466.5h0M666.9 478.5h0M675.0 434.9h0M669.8 424.3h0M666.2 369.5h0M660.1 454.0h0M678.4 405.4h0M656.7 405.3h0M693.5 311.8h0M688.7 324.1h0M671.8 332.5h0M678.1 339.9h0M681.7 314.2h0M684.7 331.1h0M686.4 307.2h0M689.2 301.8h0M677.7 317.0h0M675.0 312.2h0M690.0 329.0h0M681.1 310.0h0M674.4 335.5h0M681.3 343.4h0M683.9 316.4h0M680.0 316.6h0M680.2 334.3h0M691.1 316.2h0M680.5 304.1h0M687.6 335.8h0M620.7 462.6h0M619.9 474.3h0M628.3 494.6h0M612.3 478.3h0M623.7 511.9h0M628.3 524.8h0M617.9 441.2h0M634.3 464.8h0M634.5 458.7h0M620.9 495.6h0M625.7 525.1h0M625.6 523.6h0M623.5 499.4h0M623.8 504.3h0M628.6 482.6h0M634.5 502.2h0M626.7 446.4h0M626.8 493.1h0M626.9 497.0h0M622.8 494.6h0M629.4 505.2h0M623.8 515.5h0M638.2 436.9h0M635.8 490.9h0M638.5 494.9h0M636.2 469.4h0M638.8 465.5h0M642.1 461.9h0M638.3 465.1h0M637.3 519.0h0M639.5 442.2h0M641.5 448.4h0M694.1 483.2h0M699.0 501.1h0M701.4 496.6h0M703.0 499.0h0M701.0 489.6h0M708.4 491.6h0M661.3 555.3h0M641.4 553.7h0M642.6 549.4h0M647.6 546.9h0M640.7 555.3h0M644.2 555.4h0M654.2 550.8h0M647.6 548.1h0M674.1 550.4h0M675.7 553.4h0M679.8 551.5h0M672.6 551.9h0M679.2 554.1h0M616.3 550.6h0M617.7 555.0h0M622.2 555.3h0M617.2 548.8h0M615.2 544.5h0M615.3 544.1h0M617.6 543.9h0M620.1 547.3h0M617.6 541.5h0M613.6 548.6h0M526.3 333.3h0M530.9 331.7h0M527.4 335.6h0M519.8 329.4h0M596.5 554.8h0M598.4 542.5h0M599.0 532.4h0M610.0 538.7h0M597.2 544.5h0M598.4 536.6h0M597.6 538.8h0M596.8 544.0h0M596.5 544.0h0M598.3 535.7h0M582.2 544.9h0M578.8 551.6h0M581.1 548.8h0M587.3 549.3h0M576.8 548.6h0M584.5 549.1h0M580.2 548.5h0M599.2 552.2h0M706.2 431.4h0M701.2 365.7h0" stroke="#0868ac" stroke-width="3.55" stroke-linecap="round" fill="none" clip-path="url(#ci)"/>
<line x1="501.5" y1="526.2" x2="667.2" y2="273.1" stroke="#ff0000" stroke-width="3.2" clip-path="url(#ci)"/>
<path d="M473.2 570.0v7.6M473.2 570.0h-7.8M639.6 570.0v7.6M473.2 424.1h-7.8M806.0 570.0v7.6M473.2 278.2h-7.8" stroke="#bdbdbd" stroke-width="3.8" fill="none"/>
<rect x="473.2" y="278.2" width="332.8" height="291.8" stroke="#bdbdbd" stroke-width="3.8" fill="none"/>
<g font-size="24">
<text x="97.3" y="694.6" text-anchor="middle">0.0</text><text x="83.2" y="669.1" text-anchor="end">0.0</text><text x="238.8" y="694.6" text-anchor="middle">0.2</text><text x="83.2" y="545.2" text-anchor="end">0.2</text><text x="380.2" y="694.6" text-anchor="middle">0.4</text><text x="83.2" y="421.3" text-anchor="end">0.4</text><text x="521.7" y="694.6" text-anchor="middle">0.6</text><text x="83.2" y="297.3" text-anchor="end">0.6</text><text x="663.1" y="694.6" text-anchor="middle">0.8</text><text x="83.2" y="173.4" text-anchor="end">0.8</text><text x="804.6" y="694.6" text-anchor="middle">1.0</text><text x="83.2" y="49.5" text-anchor="end">1.0</text>
<text x="473.2" y="601.6" text-anchor="middle">0.0</text><text x="459.5" y="577.8" text-anchor="end">0.0</text><text x="639.6" y="601.6" text-anchor="middle">0.1</text><text x="459.5" y="431.9" text-anchor="end">0.1</text><text x="806.0" y="601.6" text-anchor="middle">0.2</text><text x="459.5" y="286.0" text-anchor="end">0.2</text>
<text x="451.3" y="733.2" font-size="24.16" text-anchor="middle">predicted atomic coordinate deviation (pACD)</text>
<text transform="translate(40.4 351.7) rotate(-90)" font-size="24.16" text-anchor="middle">true atomic coordinate deviation (tACD)</text>
</g>
<text x="-0.3" y="23.6" font-size="32" font-weight="bold">a</text>
</g>
<g id="panel-b">
<path d="M1220.4 42.6V260.8M1324.3 42.6V260.8M1428.2 42.6V260.8M1532.2 42.6V260.8M1636.1 42.6V260.8" stroke="#cfcfcf" stroke-width="1.3" fill="none"/>
<path d="M1154.2 70.8l3.5 3.5l-3.5 3.5l-3.5 -3.5zM1158.4 75.2l3.5 3.5l-3.5 3.5l-3.5 -3.5zM1172.4 85.6l3.5 3.5l-3.5 3.5l-3.5 -3.5zM1152.5 75.6l3.5 3.5l-3.5 3.5l-3.5 -3.5zM1156.6 76.6l3.5 3.5l-3.5 3.5l-3.5 -3.5zM1175.0 76.3l3.5 3.5l-3.5 3.5l-3.5 -3.5zM1162.0 68.3l3.5 3.5l-3.5 3.5l-3.5 -3.5zM1167.8 76.1l3.5 3.5l-3.5 3.5l-3.5 -3.5zM1158.3 68.2l3.5 3.5l-3.5 3.5l-3.5 -3.5zM1146.9 81.9l3.5 3.5l-3.5 3.5l-3.5 -3.5zM1157.4 81.6l3.5 3.5l-3.5 3.5l-3.5 -3.5zM1164.9 81.3l3.5 3.5l-3.5 3.5l-3.5 -3.5zM1180.3 69.5l3.5 3.5l-3.5 3.5l-3.5 -3.5zM1156.0 74.0l3.5 3.5l-3.5 3.5l-3.5 -3.5zM1143.6 66.6l3.5 3.5l-3.5 3.5l-3.5 -3.5zM1138.6 77.2l3.5 3.5l-3.5 3.5l-3.5 -3.5zM1186.1 69.0l3.5 3.5l-3.5 3.5l-3.5 -3.5zM1168.4 82.5l3.5 3.5l-3.5 3.5l-3.5 -3.5zM1178.6 76.4l3.5 3.5l-3.5 3.5l-3.5 -3.5zM1177.8 69.5l3.5 3.5l-3.5 3.5l-3.5 -3.5zM1165.2 77.1l3.5 3.5l-3.5 3.5l-3.5 -3.5zM1147.6 73.4l3.5 3.5l-3.5 3.5l-3.5 -3.5zM1161.4 79.1l3.5 3.5l-3.5 3.5l-3.5 -3.5zM1141.7 83.9l3.5 3.5l-3.5 3.5l-3.5 -3.5zM1165.0 65.2l3.5 3.5l-3.5 3.5l-3.5 -3.5zM1183.5 70.4l3.5 3.5l-3.5 3.5l-3.5 -3.5zM1158.3 83.5l3.5 3.5l-3.5 3.5l-3.5 -3.5zM1161.5 67.4l3.5 3.5l-3.5 3.5l-3.5 -3.5zM1150.8 77.0l3.5 3.5l-3.5 3.5l-3.5 -3.5zM1178.5 85.4l3.5 3.5l-3.5 3.5l-3.5 -3.5zM1181.8 69.4l3.5 3.5l-3.5 3.5l-3.5 -3.5zM1165.6 84.2l3.5 3.5l-3.5 3.5l-3.5 -3.5zM1158.9 70.4l3.5 3.5l-3.5 3.5l-3.5 -3.5zM1144.4 77.1l3.5 3.5l-3.5 3.5l-3.5 -3.5zM1168.0 79.1l3.5 3.5l-3.5 3.5l-3.5 -3.5zM1146.3 66.4l3.5 3.5l-3.5 3.5l-3.5 -3.5zM1151.3 83.1l3.5 3.5l-3.5 3.5l-3.5 -3.5zM1154.2 82.6l3.5 3.5l-3.5 3.5l-3.5 -3.5zM1150.1 65.2l3.5 3.5l-3.5 3.5l-3.5 -3.5zM1171.7 75.1l3.5 3.5l-3.5 3.5l-3.5 -3.5zM1167.8 84.7l3.5 3.5l-3.5 3.5l-3.5 -3.5zM1180.2 72.3l3.5 3.5l-3.5 3.5l-3.5 -3.5zM1175.8 74.2l3.5 3.5l-3.5 3.5l-3.5 -3.5zM1177.6 71.6l3.5 3.5l-3.5 3.5l-3.5 -3.5zM1149.5 66.2l3.5 3.5l-3.5 3.5l-3.5 -3.5zM1166.4 66.8l3.5 3.5l-3.5 3.5l-3.5 -3.5zM1179.9 79.1l3.5 3.5l-3.5 3.5l-3.5 -3.5zM1167.1 70.5l3.5 3.5l-3.5 3.5l-3.5 -3.5zM1150.3 85.3l3.5 3.5l-3.5 3.5l-3.5 -3.5zM1173.4 84.2l3.5 3.5l-3.5 3.5l-3.5 -3.5zM1155.1 80.4l3.5 3.5l-3.5 3.5l-3.5 -3.5zM1168.7 75.5l3.5 3.5l-3.5 3.5l-3.5 -3.5zM1178.9 81.2l3.5 3.5l-3.5 3.5l-3.5 -3.5zM1163.8 65.0l3.5 3.5l-3.5 3.5l-3.5 -3.5zM1160.2 85.2l3.5 3.5l-3.5 3.5l-3.5 -3.5zM1160.8 85.8l3.5 3.5l-3.5 3.5l-3.5 -3.5zM1169.3 77.5l3.5 3.5l-3.5 3.5l-3.5 -3.5zM1182.9 77.0l3.5 3.5l-3.5 3.5l-3.5 -3.5zM1161.9 80.8l3.5 3.5l-3.5 3.5l-3.5 -3.5zM1169.2 64.7l3.5 3.5l-3.5 3.5l-3.5 -3.5zM1171.4 79.8l3.5 3.5l-3.5 3.5l-3.5 -3.5zM1176.7 72.8l3.5 3.5l-3.5 3.5l-3.5 -3.5zM1142.1 64.8l3.5 3.5l-3.5 3.5l-3.5 -3.5zM1165.1 74.1l3.5 3.5l-3.5 3.5l-3.5 -3.5zM1143.1 84.7l3.5 3.5l-3.5 3.5l-3.5 -3.5zM1138.7 77.4l3.5 3.5l-3.5 3.5l-3.5 -3.5zM1145.0 70.4l3.5 3.5l-3.5 3.5l-3.5 -3.5zM1186.3 75.5l3.5 3.5l-3.5 3.5l-3.5 -3.5zM1167.3 82.5l3.5 3.5l-3.5 3.5l-3.5 -3.5zM1176.4 67.9l3.5 3.5l-3.5 3.5l-3.5 -3.5zM1166.3 85.4l3.5 3.5l-3.5 3.5l-3.5 -3.5zM1168.7 68.1l3.5 3.5l-3.5 3.5l-3.5 -3.5zM1154.8 67.5l3.5 3.5l-3.5 3.5l-3.5 -3.5zM1170.4 65.3l3.5 3.5l-3.5 3.5l-3.5 -3.5zM1151.1 83.9l3.5 3.5l-3.5 3.5l-3.5 -3.5zM1164.6 78.0l3.5 3.5l-3.5 3.5l-3.5 -3.5zM1163.2 78.7l3.5 3.5l-3.5 3.5l-3.5 -3.5zM1163.9 73.4l3.5 3.5l-3.5 3.5l-3.5 -3.5zM1143.5 67.0l3.5 3.5l-3.5 3.5l-3.5 -3.5zM1162.9 72.7l3.5 3.5l-3.5 3.5l-3.5 -3.5zM1151.1 68.3l3.5 3.5l-3.5 3.5l-3.5 -3.5zM1138.3 77.1l3.5 3.5l-3.5 3.5l-3.5 -3.5zM1175.1 78.9l3.5 3.5l-3.5 3.5l-3.5 -3.5zM1143.5 76.3l3.5 3.5l-3.5 3.5l-3.5 -3.5zM1184.6 72.9l3.5 3.5l-3.5 3.5l-3.5 -3.5zM1162.6 70.3l3.5 3.5l-3.5 3.5l-3.5 -3.5zM1155.5 79.4l3.5 3.5l-3.5 3.5l-3.5 -3.5zM1138.9 68.6l3.5 3.5l-3.5 3.5l-3.5 -3.5zM1138.0 84.8l3.5 3.5l-3.5 3.5l-3.5 -3.5zM1171.3 75.5l3.5 3.5l-3.5 3.5l-3.5 -3.5zM1172.0 76.3l3.5 3.5l-3.5 3.5l-3.5 -3.5zM1155.0 83.1l3.5 3.5l-3.5 3.5l-3.5 -3.5zM1179.9 67.3l3.5 3.5l-3.5 3.5l-3.5 -3.5zM1152.0 84.5l3.5 3.5l-3.5 3.5l-3.5 -3.5zM1163.5 84.0l3.5 3.5l-3.5 3.5l-3.5 -3.5zM1144.4 72.8l3.5 3.5l-3.5 3.5l-3.5 -3.5zM1154.9 68.4l3.5 3.5l-3.5 3.5l-3.5 -3.5zM1173.4 81.9l3.5 3.5l-3.5 3.5l-3.5 -3.5zM1159.0 65.7l3.5 3.5l-3.5 3.5l-3.5 -3.5zM1150.8 80.9l3.5 3.5l-3.5 3.5l-3.5 -3.5zM1162.4 80.4l3.5 3.5l-3.5 3.5l-3.5 -3.5zM1179.2 67.6l3.5 3.5l-3.5 3.5l-3.5 -3.5zM1166.5 64.7l3.5 3.5l-3.5 3.5l-3.5 -3.5zM1150.6 67.2l3.5 3.5l-3.5 3.5l-3.5 -3.5zM1181.8 80.0l3.5 3.5l-3.5 3.5l-3.5 -3.5zM1142.8 74.1l3.5 3.5l-3.5 3.5l-3.5 -3.5zM1174.8 85.7l3.5 3.5l-3.5 3.5l-3.5 -3.5zM1159.5 67.6l3.5 3.5l-3.5 3.5l-3.5 -3.5zM1163.6 85.5l3.5 3.5l-3.5 3.5l-3.5 -3.5zM1150.1 85.5l3.5 3.5l-3.5 3.5l-3.5 -3.5zM1150.3 71.4l3.5 3.5l-3.5 3.5l-3.5 -3.5zM1145.0 66.0l3.5 3.5l-3.5 3.5l-3.5 -3.5zM1164.5 82.7l3.5 3.5l-3.5 3.5l-3.5 -3.5zM1173.3 78.7l3.5 3.5l-3.5 3.5l-3.5 -3.5zM1137.7 80.1l3.5 3.5l-3.5 3.5l-3.5 -3.5zM1193.2 74.1l3.5 3.5l-3.5 3.5l-3.5 -3.5zM1188.9 66.7l3.5 3.5l-3.5 3.5l-3.5 -3.5zM1196.4 64.7l3.5 3.5l-3.5 3.5l-3.5 -3.5zM1216.1 73.2l3.5 3.5l-3.5 3.5l-3.5 -3.5zM1187.6 84.7l3.5 3.5l-3.5 3.5l-3.5 -3.5zM1214.2 67.5l3.5 3.5l-3.5 3.5l-3.5 -3.5zM1193.6 86.1l3.5 3.5l-3.5 3.5l-3.5 -3.5zM1197.3 74.4l3.5 3.5l-3.5 3.5l-3.5 -3.5zM1206.0 71.2l3.5 3.5l-3.5 3.5l-3.5 -3.5zM1216.8 84.8l3.5 3.5l-3.5 3.5l-3.5 -3.5zM1205.5 71.5l3.5 3.5l-3.5 3.5l-3.5 -3.5zM1205.8 68.0l3.5 3.5l-3.5 3.5l-3.5 -3.5zM1212.5 84.5l3.5 3.5l-3.5 3.5l-3.5 -3.5zM1210.5 84.6l3.5 3.5l-3.5 3.5l-3.5 -3.5zM1215.4 81.5l3.5 3.5l-3.5 3.5l-3.5 -3.5zM1197.5 81.3l3.5 3.5l-3.5 3.5l-3.5 -3.5zM1218.9 74.7l3.5 3.5l-3.5 3.5l-3.5 -3.5zM1219.4 83.1l3.5 3.5l-3.5 3.5l-3.5 -3.5zM1211.2 73.5l3.5 3.5l-3.5 3.5l-3.5 -3.5zM1189.0 75.1l3.5 3.5l-3.5 3.5l-3.5 -3.5zM1200.0 68.1l3.5 3.5l-3.5 3.5l-3.5 -3.5zM1213.5 76.2l3.5 3.5l-3.5 3.5l-3.5 -3.5zM1194.5 80.1l3.5 3.5l-3.5 3.5l-3.5 -3.5zM1203.3 70.3l3.5 3.5l-3.5 3.5l-3.5 -3.5zM1198.0 67.6l3.5 3.5l-3.5 3.5l-3.5 -3.5zM1192.6 66.3l3.5 3.5l-3.5 3.5l-3.5 -3.5zM1206.1 74.9l3.5 3.5l-3.5 3.5l-3.5 -3.5zM1199.2 67.0l3.5 3.5l-3.5 3.5l-3.5 -3.5zM1214.4 73.8l3.5 3.5l-3.5 3.5l-3.5 -3.5zM1190.1 77.9l3.5 3.5l-3.5 3.5l-3.5 -3.5zM1217.0 66.0l3.5 3.5l-3.5 3.5l-3.5 -3.5zM1199.7 81.8l3.5 3.5l-3.5 3.5l-3.5 -3.5zM1211.4 66.7l3.5 3.5l-3.5 3.5l-3.5 -3.5zM1194.4 67.3l3.5 3.5l-3.5 3.5l-3.5 -3.5zM1189.9 78.8l3.5 3.5l-3.5 3.5l-3.5 -3.5zM1188.8 85.0l3.5 3.5l-3.5 3.5l-3.5 -3.5zM1195.9 67.2l3.5 3.5l-3.5 3.5l-3.5 -3.5zM1194.4 79.8l3.5 3.5l-3.5 3.5l-3.5 -3.5zM1208.2 74.9l3.5 3.5l-3.5 3.5l-3.5 -3.5zM1207.7 69.1l3.5 3.5l-3.5 3.5l-3.5 -3.5zM1217.2 77.0l3.5 3.5l-3.5 3.5l-3.5 -3.5zM1207.7 74.0l3.5 3.5l-3.5 3.5l-3.5 -3.5zM1205.7 72.9l3.5 3.5l-3.5 3.5l-3.5 -3.5zM1195.9 83.4l3.5 3.5l-3.5 3.5l-3.5 -3.5zM1188.3 76.8l3.5 3.5l-3.5 3.5l-3.5 -3.5zM1207.7 82.2l3.5 3.5l-3.5 3.5l-3.5 -3.5zM1192.7 65.6l3.5 3.5l-3.5 3.5l-3.5 -3.5zM1220.3 85.1l3.5 3.5l-3.5 3.5l-3.5 -3.5zM1209.8 69.6l3.5 3.5l-3.5 3.5l-3.5 -3.5zM1188.3 75.8l3.5 3.5l-3.5 3.5l-3.5 -3.5zM1224.3 73.7l3.5 3.5l-3.5 3.5l-3.5 -3.5zM1227.0 71.9l3.5 3.5l-3.5 3.5l-3.5 -3.5zM1229.7 72.8l3.5 3.5l-3.5 3.5l-3.5 -3.5zM1236.1 76.4l3.5 3.5l-3.5 3.5l-3.5 -3.5zM1239.8 77.3l3.5 3.5l-3.5 3.5l-3.5 -3.5zM1243.5 75.5l3.5 3.5l-3.5 3.5l-3.5 -3.5zM1248.9 75.5l3.5 3.5l-3.5 3.5l-3.5 -3.5zM1251.7 73.7l3.5 3.5l-3.5 3.5l-3.5 -3.5zM1254.4 76.4l3.5 3.5l-3.5 3.5l-3.5 -3.5zM1257.2 74.6l3.5 3.5l-3.5 3.5l-3.5 -3.5zM1262.7 79.2l3.5 3.5l-3.5 3.5l-3.5 -3.5zM1265.4 75.5l3.5 3.5l-3.5 3.5l-3.5 -3.5zM1268.1 72.8l3.5 3.5l-3.5 3.5l-3.5 -3.5zM1273.6 71.0l3.5 3.5l-3.5 3.5l-3.5 -3.5zM1280.0 75.5l3.5 3.5l-3.5 3.5l-3.5 -3.5zM1282.8 79.2l3.5 3.5l-3.5 3.5l-3.5 -3.5zM1285.5 73.1l3.5 3.5l-3.5 3.5l-3.5 -3.5zM1294.6 78.3l3.5 3.5l-3.5 3.5l-3.5 -3.5zM1298.3 75.5l3.5 3.5l-3.5 3.5l-3.5 -3.5zM1301.0 74.6l3.5 3.5l-3.5 3.5l-3.5 -3.5zM1306.5 76.4l3.5 3.5l-3.5 3.5l-3.5 -3.5zM1308.4 79.2l3.5 3.5l-3.5 3.5l-3.5 -3.5zM1311.1 71.9l3.5 3.5l-3.5 3.5l-3.5 -3.5zM1315.7 76.4l3.5 3.5l-3.5 3.5l-3.5 -3.5zM1328.5 75.2l3.5 3.5l-3.5 3.5l-3.5 -3.5zM1338.5 75.9l3.5 3.5l-3.5 3.5l-3.5 -3.5zM1330.0 74.8l3.5 3.5l-3.5 3.5l-3.5 -3.5zM1338.5 75.0l3.5 3.5l-3.5 3.5l-3.5 -3.5zM1373.5 75.5l3.5 3.5l-3.5 3.5l-3.5 -3.5zM1384.3 75.9l3.5 3.5l-3.5 3.5l-3.5 -3.5zM1389.0 75.9l3.5 3.5l-3.5 3.5l-3.5 -3.5zM1394.7 75.5l3.5 3.5l-3.5 3.5l-3.5 -3.5zM1404.2 75.1l3.5 3.5l-3.5 3.5l-3.5 -3.5zM1410.3 75.7l3.5 3.5l-3.5 3.5l-3.5 -3.5zM1416.0 75.3l3.5 3.5l-3.5 3.5l-3.5 -3.5zM1431.6 75.0l3.5 3.5l-3.5 3.5l-3.5 -3.5zM1480.2 75.9l3.5 3.5l-3.5 3.5l-3.5 -3.5zM1483.5 76.0l3.5 3.5l-3.5 3.5l-3.5 -3.5zM1523.7 75.0l3.5 3.5l-3.5 3.5l-3.5 -3.5zM1531.7 74.8l3.5 3.5l-3.5 3.5l-3.5 -3.5zM1546.8 75.9l3.5 3.5l-3.5 3.5l-3.5 -3.5zM1561.0 76.0l3.5 3.5l-3.5 3.5l-3.5 -3.5zM1591.2 74.8l3.5 3.5l-3.5 3.5l-3.5 -3.5zM1614.8 75.3l3.5 3.5l-3.5 3.5l-3.5 -3.5zM1629.0 75.8l3.5 3.5l-3.5 3.5l-3.5 -3.5zM1640.8 75.2l3.5 3.5l-3.5 3.5l-3.5 -3.5zM1645.1 76.0l3.5 3.5l-3.5 3.5l-3.5 -3.5z" fill="#0868ac"/>
<path d="M1148.1 139.5l3.5 3.5l-3.5 3.5l-3.5 -3.5zM1153.5 151.9l3.5 3.5l-3.5 3.5l-3.5 -3.5zM1149.9 147.4l3.5 3.5l-3.5 3.5l-3.5 -3.5zM1155.1 151.7l3.5 3.5l-3.5 3.5l-3.5 -3.5zM1165.2 157.4l3.5 3.5l-3.5 3.5l-3.5 -3.5zM1210.1 144.8l3.5 3.5l-3.5 3.5l-3.5 -3.5zM1198.9 142.8l3.5 3.5l-3.5 3.5l-3.5 -3.5zM1160.3 157.6l3.5 3.5l-3.5 3.5l-3.5 -3.5zM1212.3 139.6l3.5 3.5l-3.5 3.5l-3.5 -3.5zM1168.5 145.3l3.5 3.5l-3.5 3.5l-3.5 -3.5zM1182.0 148.0l3.5 3.5l-3.5 3.5l-3.5 -3.5zM1180.0 157.9l3.5 3.5l-3.5 3.5l-3.5 -3.5zM1206.2 150.4l3.5 3.5l-3.5 3.5l-3.5 -3.5zM1205.3 156.3l3.5 3.5l-3.5 3.5l-3.5 -3.5zM1163.3 156.9l3.5 3.5l-3.5 3.5l-3.5 -3.5zM1211.2 153.7l3.5 3.5l-3.5 3.5l-3.5 -3.5zM1168.0 154.5l3.5 3.5l-3.5 3.5l-3.5 -3.5zM1202.7 141.8l3.5 3.5l-3.5 3.5l-3.5 -3.5zM1165.8 155.0l3.5 3.5l-3.5 3.5l-3.5 -3.5zM1183.6 154.7l3.5 3.5l-3.5 3.5l-3.5 -3.5zM1164.9 144.3l3.5 3.5l-3.5 3.5l-3.5 -3.5zM1199.7 141.8l3.5 3.5l-3.5 3.5l-3.5 -3.5zM1183.0 143.2l3.5 3.5l-3.5 3.5l-3.5 -3.5zM1193.1 155.7l3.5 3.5l-3.5 3.5l-3.5 -3.5zM1220.3 152.5l3.5 3.5l-3.5 3.5l-3.5 -3.5zM1209.5 147.7l3.5 3.5l-3.5 3.5l-3.5 -3.5zM1170.5 139.3l3.5 3.5l-3.5 3.5l-3.5 -3.5zM1185.1 156.7l3.5 3.5l-3.5 3.5l-3.5 -3.5zM1193.5 137.7l3.5 3.5l-3.5 3.5l-3.5 -3.5zM1179.1 141.9l3.5 3.5l-3.5 3.5l-3.5 -3.5zM1161.8 156.9l3.5 3.5l-3.5 3.5l-3.5 -3.5zM1179.8 148.6l3.5 3.5l-3.5 3.5l-3.5 -3.5zM1175.4 144.8l3.5 3.5l-3.5 3.5l-3.5 -3.5zM1170.4 148.4l3.5 3.5l-3.5 3.5l-3.5 -3.5zM1168.1 151.0l3.5 3.5l-3.5 3.5l-3.5 -3.5zM1164.8 152.2l3.5 3.5l-3.5 3.5l-3.5 -3.5zM1210.6 149.2l3.5 3.5l-3.5 3.5l-3.5 -3.5zM1186.4 138.4l3.5 3.5l-3.5 3.5l-3.5 -3.5zM1203.5 140.8l3.5 3.5l-3.5 3.5l-3.5 -3.5zM1206.5 143.1l3.5 3.5l-3.5 3.5l-3.5 -3.5zM1211.3 147.5l3.5 3.5l-3.5 3.5l-3.5 -3.5zM1194.7 149.9l3.5 3.5l-3.5 3.5l-3.5 -3.5zM1210.7 154.5l3.5 3.5l-3.5 3.5l-3.5 -3.5zM1166.6 141.9l3.5 3.5l-3.5 3.5l-3.5 -3.5zM1169.8 139.8l3.5 3.5l-3.5 3.5l-3.5 -3.5zM1198.4 155.4l3.5 3.5l-3.5 3.5l-3.5 -3.5zM1181.5 150.3l3.5 3.5l-3.5 3.5l-3.5 -3.5zM1170.0 145.6l3.5 3.5l-3.5 3.5l-3.5 -3.5zM1181.2 139.0l3.5 3.5l-3.5 3.5l-3.5 -3.5zM1182.7 141.5l3.5 3.5l-3.5 3.5l-3.5 -3.5zM1213.5 154.7l3.5 3.5l-3.5 3.5l-3.5 -3.5zM1185.0 148.7l3.5 3.5l-3.5 3.5l-3.5 -3.5zM1213.8 137.8l3.5 3.5l-3.5 3.5l-3.5 -3.5zM1170.8 148.1l3.5 3.5l-3.5 3.5l-3.5 -3.5zM1212.4 146.8l3.5 3.5l-3.5 3.5l-3.5 -3.5zM1209.5 153.8l3.5 3.5l-3.5 3.5l-3.5 -3.5zM1169.2 139.4l3.5 3.5l-3.5 3.5l-3.5 -3.5zM1205.9 146.0l3.5 3.5l-3.5 3.5l-3.5 -3.5zM1207.6 157.2l3.5 3.5l-3.5 3.5l-3.5 -3.5zM1207.3 153.1l3.5 3.5l-3.5 3.5l-3.5 -3.5zM1214.1 151.5l3.5 3.5l-3.5 3.5l-3.5 -3.5zM1186.4 146.1l3.5 3.5l-3.5 3.5l-3.5 -3.5zM1188.7 142.8l3.5 3.5l-3.5 3.5l-3.5 -3.5zM1173.8 139.4l3.5 3.5l-3.5 3.5l-3.5 -3.5zM1189.1 144.0l3.5 3.5l-3.5 3.5l-3.5 -3.5zM1215.7 145.3l3.5 3.5l-3.5 3.5l-3.5 -3.5zM1197.3 146.9l3.5 3.5l-3.5 3.5l-3.5 -3.5zM1208.3 155.6l3.5 3.5l-3.5 3.5l-3.5 -3.5zM1212.2 146.7l3.5 3.5l-3.5 3.5l-3.5 -3.5zM1196.1 151.4l3.5 3.5l-3.5 3.5l-3.5 -3.5zM1192.5 141.0l3.5 3.5l-3.5 3.5l-3.5 -3.5zM1171.3 145.3l3.5 3.5l-3.5 3.5l-3.5 -3.5zM1194.4 157.5l3.5 3.5l-3.5 3.5l-3.5 -3.5zM1196.7 141.2l3.5 3.5l-3.5 3.5l-3.5 -3.5zM1161.1 139.8l3.5 3.5l-3.5 3.5l-3.5 -3.5zM1158.3 139.0l3.5 3.5l-3.5 3.5l-3.5 -3.5zM1218.9 137.5l3.5 3.5l-3.5 3.5l-3.5 -3.5zM1161.3 140.6l3.5 3.5l-3.5 3.5l-3.5 -3.5zM1208.5 139.3l3.5 3.5l-3.5 3.5l-3.5 -3.5zM1197.0 141.0l3.5 3.5l-3.5 3.5l-3.5 -3.5zM1210.1 146.2l3.5 3.5l-3.5 3.5l-3.5 -3.5zM1192.0 152.6l3.5 3.5l-3.5 3.5l-3.5 -3.5zM1192.7 155.0l3.5 3.5l-3.5 3.5l-3.5 -3.5zM1171.9 149.8l3.5 3.5l-3.5 3.5l-3.5 -3.5zM1195.1 139.6l3.5 3.5l-3.5 3.5l-3.5 -3.5zM1213.7 155.2l3.5 3.5l-3.5 3.5l-3.5 -3.5zM1172.3 151.7l3.5 3.5l-3.5 3.5l-3.5 -3.5zM1215.8 155.3l3.5 3.5l-3.5 3.5l-3.5 -3.5zM1173.7 153.7l3.5 3.5l-3.5 3.5l-3.5 -3.5zM1198.1 141.8l3.5 3.5l-3.5 3.5l-3.5 -3.5zM1215.1 158.3l3.5 3.5l-3.5 3.5l-3.5 -3.5zM1209.4 154.3l3.5 3.5l-3.5 3.5l-3.5 -3.5zM1177.4 144.4l3.5 3.5l-3.5 3.5l-3.5 -3.5zM1193.1 154.1l3.5 3.5l-3.5 3.5l-3.5 -3.5zM1207.5 146.5l3.5 3.5l-3.5 3.5l-3.5 -3.5zM1219.2 139.6l3.5 3.5l-3.5 3.5l-3.5 -3.5zM1204.1 151.0l3.5 3.5l-3.5 3.5l-3.5 -3.5zM1215.6 158.9l3.5 3.5l-3.5 3.5l-3.5 -3.5zM1190.3 151.8l3.5 3.5l-3.5 3.5l-3.5 -3.5zM1196.6 157.2l3.5 3.5l-3.5 3.5l-3.5 -3.5zM1173.9 141.7l3.5 3.5l-3.5 3.5l-3.5 -3.5zM1182.6 148.3l3.5 3.5l-3.5 3.5l-3.5 -3.5zM1180.1 143.9l3.5 3.5l-3.5 3.5l-3.5 -3.5zM1218.2 157.8l3.5 3.5l-3.5 3.5l-3.5 -3.5zM1218.1 140.6l3.5 3.5l-3.5 3.5l-3.5 -3.5zM1216.5 138.0l3.5 3.5l-3.5 3.5l-3.5 -3.5zM1184.0 148.9l3.5 3.5l-3.5 3.5l-3.5 -3.5zM1217.8 146.4l3.5 3.5l-3.5 3.5l-3.5 -3.5zM1198.2 142.0l3.5 3.5l-3.5 3.5l-3.5 -3.5zM1170.7 157.4l3.5 3.5l-3.5 3.5l-3.5 -3.5zM1187.9 143.7l3.5 3.5l-3.5 3.5l-3.5 -3.5zM1164.7 142.5l3.5 3.5l-3.5 3.5l-3.5 -3.5zM1191.2 152.0l3.5 3.5l-3.5 3.5l-3.5 -3.5zM1217.4 158.4l3.5 3.5l-3.5 3.5l-3.5 -3.5zM1184.0 146.5l3.5 3.5l-3.5 3.5l-3.5 -3.5zM1181.6 153.8l3.5 3.5l-3.5 3.5l-3.5 -3.5zM1162.7 138.6l3.5 3.5l-3.5 3.5l-3.5 -3.5zM1188.5 155.6l3.5 3.5l-3.5 3.5l-3.5 -3.5zM1200.4 149.0l3.5 3.5l-3.5 3.5l-3.5 -3.5zM1236.6 149.1l3.5 3.5l-3.5 3.5l-3.5 -3.5zM1232.1 150.2l3.5 3.5l-3.5 3.5l-3.5 -3.5zM1220.8 153.0l3.5 3.5l-3.5 3.5l-3.5 -3.5zM1230.1 156.4l3.5 3.5l-3.5 3.5l-3.5 -3.5zM1224.5 152.9l3.5 3.5l-3.5 3.5l-3.5 -3.5zM1224.9 148.4l3.5 3.5l-3.5 3.5l-3.5 -3.5zM1241.2 152.5l3.5 3.5l-3.5 3.5l-3.5 -3.5zM1229.1 145.7l3.5 3.5l-3.5 3.5l-3.5 -3.5zM1241.0 147.6l3.5 3.5l-3.5 3.5l-3.5 -3.5zM1239.5 148.8l3.5 3.5l-3.5 3.5l-3.5 -3.5zM1237.8 146.0l3.5 3.5l-3.5 3.5l-3.5 -3.5zM1232.3 156.4l3.5 3.5l-3.5 3.5l-3.5 -3.5zM1222.1 144.6l3.5 3.5l-3.5 3.5l-3.5 -3.5zM1240.8 150.7l3.5 3.5l-3.5 3.5l-3.5 -3.5zM1221.1 143.6l3.5 3.5l-3.5 3.5l-3.5 -3.5zM1230.0 156.7l3.5 3.5l-3.5 3.5l-3.5 -3.5zM1242.5 145.6l3.5 3.5l-3.5 3.5l-3.5 -3.5zM1239.2 150.0l3.5 3.5l-3.5 3.5l-3.5 -3.5zM1234.9 155.5l3.5 3.5l-3.5 3.5l-3.5 -3.5zM1236.1 151.3l3.5 3.5l-3.5 3.5l-3.5 -3.5zM1243.7 149.6l3.5 3.5l-3.5 3.5l-3.5 -3.5zM1239.7 141.0l3.5 3.5l-3.5 3.5l-3.5 -3.5zM1233.9 146.9l3.5 3.5l-3.5 3.5l-3.5 -3.5zM1229.7 147.3l3.5 3.5l-3.5 3.5l-3.5 -3.5zM1223.2 151.5l3.5 3.5l-3.5 3.5l-3.5 -3.5zM1241.2 147.9l3.5 3.5l-3.5 3.5l-3.5 -3.5zM1240.2 144.3l3.5 3.5l-3.5 3.5l-3.5 -3.5zM1236.5 148.7l3.5 3.5l-3.5 3.5l-3.5 -3.5zM1242.7 146.1l3.5 3.5l-3.5 3.5l-3.5 -3.5zM1221.2 153.6l3.5 3.5l-3.5 3.5l-3.5 -3.5zM1223.0 147.6l3.5 3.5l-3.5 3.5l-3.5 -3.5zM1235.4 147.4l3.5 3.5l-3.5 3.5l-3.5 -3.5zM1245.3 151.8l3.5 3.5l-3.5 3.5l-3.5 -3.5zM1243.7 148.8l3.5 3.5l-3.5 3.5l-3.5 -3.5zM1236.4 147.1l3.5 3.5l-3.5 3.5l-3.5 -3.5zM1223.1 141.1l3.5 3.5l-3.5 3.5l-3.5 -3.5zM1255.7 145.3l3.5 3.5l-3.5 3.5l-3.5 -3.5zM1266.6 146.1l3.5 3.5l-3.5 3.5l-3.5 -3.5zM1269.5 146.3l3.5 3.5l-3.5 3.5l-3.5 -3.5zM1266.3 143.0l3.5 3.5l-3.5 3.5l-3.5 -3.5zM1246.2 147.3l3.5 3.5l-3.5 3.5l-3.5 -3.5zM1267.2 152.2l3.5 3.5l-3.5 3.5l-3.5 -3.5zM1256.7 148.2l3.5 3.5l-3.5 3.5l-3.5 -3.5zM1262.0 144.8l3.5 3.5l-3.5 3.5l-3.5 -3.5zM1260.2 148.4l3.5 3.5l-3.5 3.5l-3.5 -3.5zM1256.7 153.0l3.5 3.5l-3.5 3.5l-3.5 -3.5zM1249.0 147.8l3.5 3.5l-3.5 3.5l-3.5 -3.5zM1253.0 148.0l3.5 3.5l-3.5 3.5l-3.5 -3.5zM1252.8 151.2l3.5 3.5l-3.5 3.5l-3.5 -3.5zM1264.1 143.4l3.5 3.5l-3.5 3.5l-3.5 -3.5zM1247.3 146.2l3.5 3.5l-3.5 3.5l-3.5 -3.5zM1245.1 147.0l3.5 3.5l-3.5 3.5l-3.5 -3.5zM1266.3 146.1l3.5 3.5l-3.5 3.5l-3.5 -3.5zM1261.2 148.7l3.5 3.5l-3.5 3.5l-3.5 -3.5zM1258.5 151.3l3.5 3.5l-3.5 3.5l-3.5 -3.5zM1247.3 147.2l3.5 3.5l-3.5 3.5l-3.5 -3.5zM1246.7 151.3l3.5 3.5l-3.5 3.5l-3.5 -3.5zM1261.3 147.6l3.5 3.5l-3.5 3.5l-3.5 -3.5zM1247.4 152.5l3.5 3.5l-3.5 3.5l-3.5 -3.5zM1266.4 146.3l3.5 3.5l-3.5 3.5l-3.5 -3.5zM1247.9 147.6l3.5 3.5l-3.5 3.5l-3.5 -3.5zM1260.1 150.2l3.5 3.5l-3.5 3.5l-3.5 -3.5zM1273.6 143.8l3.5 3.5l-3.5 3.5l-3.5 -3.5zM1280.0 141.6l3.5 3.5l-3.5 3.5l-3.5 -3.5zM1277.3 149.2l3.5 3.5l-3.5 3.5l-3.5 -3.5zM1284.6 153.8l3.5 3.5l-3.5 3.5l-3.5 -3.5zM1287.3 147.4l3.5 3.5l-3.5 3.5l-3.5 -3.5zM1291.9 146.5l3.5 3.5l-3.5 3.5l-3.5 -3.5zM1300.1 148.3l3.5 3.5l-3.5 3.5l-3.5 -3.5zM1302.9 150.7l3.5 3.5l-3.5 3.5l-3.5 -3.5zM1311.1 143.4l3.5 3.5l-3.5 3.5l-3.5 -3.5zM1314.8 154.7l3.5 3.5l-3.5 3.5l-3.5 -3.5zM1316.6 147.8l3.5 3.5l-3.5 3.5l-3.5 -3.5zM1320.2 145.9l3.5 3.5l-3.5 3.5l-3.5 -3.5zM1341.3 148.3l3.5 3.5l-3.5 3.5l-3.5 -3.5zM1353.7 148.1l3.5 3.5l-3.5 3.5l-3.5 -3.5zM1341.3 147.4l3.5 3.5l-3.5 3.5l-3.5 -3.5zM1353.6 148.8l3.5 3.5l-3.5 3.5l-3.5 -3.5zM1370.2 148.1l3.5 3.5l-3.5 3.5l-3.5 -3.5zM1374.9 148.0l3.5 3.5l-3.5 3.5l-3.5 -3.5zM1382.9 147.6l3.5 3.5l-3.5 3.5l-3.5 -3.5zM1386.7 147.6l3.5 3.5l-3.5 3.5l-3.5 -3.5zM1407.9 148.2l3.5 3.5l-3.5 3.5l-3.5 -3.5zM1414.1 148.7l3.5 3.5l-3.5 3.5l-3.5 -3.5zM1448.1 148.4l3.5 3.5l-3.5 3.5l-3.5 -3.5zM1457.5 148.9l3.5 3.5l-3.5 3.5l-3.5 -3.5zM1480.7 149.0l3.5 3.5l-3.5 3.5l-3.5 -3.5zM1492.5 148.2l3.5 3.5l-3.5 3.5l-3.5 -3.5zM1502.9 147.7l3.5 3.5l-3.5 3.5l-3.5 -3.5zM1540.2 148.9l3.5 3.5l-3.5 3.5l-3.5 -3.5zM1565.7 147.8l3.5 3.5l-3.5 3.5l-3.5 -3.5zM1569.5 148.3l3.5 3.5l-3.5 3.5l-3.5 -3.5zM1607.3 147.7l3.5 3.5l-3.5 3.5l-3.5 -3.5zM1630.0 148.8l3.5 3.5l-3.5 3.5l-3.5 -3.5zM1652.6 148.6l3.5 3.5l-3.5 3.5l-3.5 -3.5zM1655.9 148.2l3.5 3.5l-3.5 3.5l-3.5 -3.5zM1660.7 148.8l3.5 3.5l-3.5 3.5l-3.5 -3.5zM1664.4 148.5l3.5 3.5l-3.5 3.5l-3.5 -3.5zM1675.3 148.4l3.5 3.5l-3.5 3.5l-3.5 -3.5zM1710.3 148.5l3.5 3.5l-3.5 3.5l-3.5 -3.5zM1712.6 148.8l3.5 3.5l-3.5 3.5l-3.5 -3.5zM1732.5 148.0l3.5 3.5l-3.5 3.5l-3.5 -3.5z" fill="#e6ab2c"/>
<path d="M1237.2 220.1l3.5 3.5l-3.5 3.5l-3.5 -3.5zM1227.9 228.5l3.5 3.5l-3.5 3.5l-3.5 -3.5zM1236.4 220.1l3.5 3.5l-3.5 3.5l-3.5 -3.5zM1232.7 214.4l3.5 3.5l-3.5 3.5l-3.5 -3.5zM1238.6 224.8l3.5 3.5l-3.5 3.5l-3.5 -3.5zM1233.2 218.0l3.5 3.5l-3.5 3.5l-3.5 -3.5zM1231.7 222.9l3.5 3.5l-3.5 3.5l-3.5 -3.5zM1220.8 213.5l3.5 3.5l-3.5 3.5l-3.5 -3.5zM1219.7 227.2l3.5 3.5l-3.5 3.5l-3.5 -3.5zM1241.5 215.9l3.5 3.5l-3.5 3.5l-3.5 -3.5zM1275.3 211.5l3.5 3.5l-3.5 3.5l-3.5 -3.5zM1279.1 223.3l3.5 3.5l-3.5 3.5l-3.5 -3.5zM1288.4 226.1l3.5 3.5l-3.5 3.5l-3.5 -3.5zM1321.2 230.1l3.5 3.5l-3.5 3.5l-3.5 -3.5zM1315.8 223.9l3.5 3.5l-3.5 3.5l-3.5 -3.5zM1276.0 215.6l3.5 3.5l-3.5 3.5l-3.5 -3.5zM1275.7 221.6l3.5 3.5l-3.5 3.5l-3.5 -3.5zM1305.3 225.4l3.5 3.5l-3.5 3.5l-3.5 -3.5zM1272.3 214.3l3.5 3.5l-3.5 3.5l-3.5 -3.5zM1264.1 229.7l3.5 3.5l-3.5 3.5l-3.5 -3.5zM1321.6 213.2l3.5 3.5l-3.5 3.5l-3.5 -3.5zM1306.1 210.3l3.5 3.5l-3.5 3.5l-3.5 -3.5zM1278.5 216.4l3.5 3.5l-3.5 3.5l-3.5 -3.5zM1261.8 226.8l3.5 3.5l-3.5 3.5l-3.5 -3.5zM1285.8 222.4l3.5 3.5l-3.5 3.5l-3.5 -3.5zM1279.6 216.2l3.5 3.5l-3.5 3.5l-3.5 -3.5zM1269.6 217.3l3.5 3.5l-3.5 3.5l-3.5 -3.5zM1292.3 221.1l3.5 3.5l-3.5 3.5l-3.5 -3.5zM1259.1 227.6l3.5 3.5l-3.5 3.5l-3.5 -3.5zM1266.7 231.1l3.5 3.5l-3.5 3.5l-3.5 -3.5zM1290.3 225.0l3.5 3.5l-3.5 3.5l-3.5 -3.5zM1278.4 213.2l3.5 3.5l-3.5 3.5l-3.5 -3.5zM1278.8 228.9l3.5 3.5l-3.5 3.5l-3.5 -3.5zM1299.4 227.7l3.5 3.5l-3.5 3.5l-3.5 -3.5zM1251.3 225.4l3.5 3.5l-3.5 3.5l-3.5 -3.5zM1306.5 227.8l3.5 3.5l-3.5 3.5l-3.5 -3.5zM1322.9 210.5l3.5 3.5l-3.5 3.5l-3.5 -3.5zM1319.0 224.8l3.5 3.5l-3.5 3.5l-3.5 -3.5zM1317.0 220.6l3.5 3.5l-3.5 3.5l-3.5 -3.5zM1249.1 231.6l3.5 3.5l-3.5 3.5l-3.5 -3.5zM1270.4 230.6l3.5 3.5l-3.5 3.5l-3.5 -3.5zM1253.4 220.3l3.5 3.5l-3.5 3.5l-3.5 -3.5zM1253.9 228.2l3.5 3.5l-3.5 3.5l-3.5 -3.5zM1259.6 225.8l3.5 3.5l-3.5 3.5l-3.5 -3.5zM1249.9 226.2l3.5 3.5l-3.5 3.5l-3.5 -3.5zM1320.8 217.7l3.5 3.5l-3.5 3.5l-3.5 -3.5zM1293.5 225.9l3.5 3.5l-3.5 3.5l-3.5 -3.5zM1271.4 210.8l3.5 3.5l-3.5 3.5l-3.5 -3.5zM1265.3 210.8l3.5 3.5l-3.5 3.5l-3.5 -3.5zM1245.7 215.1l3.5 3.5l-3.5 3.5l-3.5 -3.5zM1247.8 215.2l3.5 3.5l-3.5 3.5l-3.5 -3.5zM1297.7 210.4l3.5 3.5l-3.5 3.5l-3.5 -3.5zM1284.2 229.2l3.5 3.5l-3.5 3.5l-3.5 -3.5zM1271.1 227.1l3.5 3.5l-3.5 3.5l-3.5 -3.5zM1283.3 226.9l3.5 3.5l-3.5 3.5l-3.5 -3.5zM1275.6 227.7l3.5 3.5l-3.5 3.5l-3.5 -3.5zM1302.5 230.2l3.5 3.5l-3.5 3.5l-3.5 -3.5zM1290.1 213.4l3.5 3.5l-3.5 3.5l-3.5 -3.5zM1279.4 220.8l3.5 3.5l-3.5 3.5l-3.5 -3.5zM1245.7 218.1l3.5 3.5l-3.5 3.5l-3.5 -3.5zM1289.7 218.3l3.5 3.5l-3.5 3.5l-3.5 -3.5zM1315.8 224.4l3.5 3.5l-3.5 3.5l-3.5 -3.5zM1265.7 217.9l3.5 3.5l-3.5 3.5l-3.5 -3.5zM1272.9 230.2l3.5 3.5l-3.5 3.5l-3.5 -3.5zM1306.6 213.0l3.5 3.5l-3.5 3.5l-3.5 -3.5zM1258.5 213.9l3.5 3.5l-3.5 3.5l-3.5 -3.5zM1292.7 229.1l3.5 3.5l-3.5 3.5l-3.5 -3.5zM1295.5 215.6l3.5 3.5l-3.5 3.5l-3.5 -3.5zM1309.5 217.8l3.5 3.5l-3.5 3.5l-3.5 -3.5zM1317.7 219.9l3.5 3.5l-3.5 3.5l-3.5 -3.5zM1313.5 225.8l3.5 3.5l-3.5 3.5l-3.5 -3.5zM1260.4 229.7l3.5 3.5l-3.5 3.5l-3.5 -3.5zM1308.2 224.5l3.5 3.5l-3.5 3.5l-3.5 -3.5zM1293.9 215.1l3.5 3.5l-3.5 3.5l-3.5 -3.5zM1278.6 228.5l3.5 3.5l-3.5 3.5l-3.5 -3.5zM1249.2 217.0l3.5 3.5l-3.5 3.5l-3.5 -3.5zM1293.2 211.9l3.5 3.5l-3.5 3.5l-3.5 -3.5zM1280.0 210.8l3.5 3.5l-3.5 3.5l-3.5 -3.5zM1302.1 228.1l3.5 3.5l-3.5 3.5l-3.5 -3.5zM1293.1 221.5l3.5 3.5l-3.5 3.5l-3.5 -3.5zM1256.7 215.3l3.5 3.5l-3.5 3.5l-3.5 -3.5zM1302.5 211.5l3.5 3.5l-3.5 3.5l-3.5 -3.5zM1256.5 231.1l3.5 3.5l-3.5 3.5l-3.5 -3.5zM1256.1 227.2l3.5 3.5l-3.5 3.5l-3.5 -3.5zM1299.6 226.4l3.5 3.5l-3.5 3.5l-3.5 -3.5zM1319.2 219.0l3.5 3.5l-3.5 3.5l-3.5 -3.5zM1303.4 214.5l3.5 3.5l-3.5 3.5l-3.5 -3.5zM1321.8 218.0l3.5 3.5l-3.5 3.5l-3.5 -3.5zM1257.2 224.3l3.5 3.5l-3.5 3.5l-3.5 -3.5zM1252.8 223.6l3.5 3.5l-3.5 3.5l-3.5 -3.5zM1284.0 212.5l3.5 3.5l-3.5 3.5l-3.5 -3.5zM1266.6 228.7l3.5 3.5l-3.5 3.5l-3.5 -3.5zM1267.8 222.9l3.5 3.5l-3.5 3.5l-3.5 -3.5zM1260.5 222.3l3.5 3.5l-3.5 3.5l-3.5 -3.5zM1269.3 224.0l3.5 3.5l-3.5 3.5l-3.5 -3.5zM1305.2 222.0l3.5 3.5l-3.5 3.5l-3.5 -3.5zM1278.2 230.8l3.5 3.5l-3.5 3.5l-3.5 -3.5zM1285.8 214.9l3.5 3.5l-3.5 3.5l-3.5 -3.5zM1257.9 225.1l3.5 3.5l-3.5 3.5l-3.5 -3.5zM1296.7 223.4l3.5 3.5l-3.5 3.5l-3.5 -3.5zM1301.5 231.3l3.5 3.5l-3.5 3.5l-3.5 -3.5zM1273.5 224.7l3.5 3.5l-3.5 3.5l-3.5 -3.5zM1289.7 215.0l3.5 3.5l-3.5 3.5l-3.5 -3.5zM1265.9 218.2l3.5 3.5l-3.5 3.5l-3.5 -3.5zM1252.0 229.5l3.5 3.5l-3.5 3.5l-3.5 -3.5zM1258.7 212.0l3.5 3.5l-3.5 3.5l-3.5 -3.5zM1245.8 226.7l3.5 3.5l-3.5 3.5l-3.5 -3.5zM1318.4 221.2l3.5 3.5l-3.5 3.5l-3.5 -3.5zM1322.9 210.9l3.5 3.5l-3.5 3.5l-3.5 -3.5zM1258.4 228.0l3.5 3.5l-3.5 3.5l-3.5 -3.5zM1311.8 214.2l3.5 3.5l-3.5 3.5l-3.5 -3.5zM1292.2 217.2l3.5 3.5l-3.5 3.5l-3.5 -3.5zM1307.5 221.2l3.5 3.5l-3.5 3.5l-3.5 -3.5zM1294.1 217.0l3.5 3.5l-3.5 3.5l-3.5 -3.5zM1286.8 228.4l3.5 3.5l-3.5 3.5l-3.5 -3.5zM1275.1 231.0l3.5 3.5l-3.5 3.5l-3.5 -3.5zM1276.2 230.0l3.5 3.5l-3.5 3.5l-3.5 -3.5zM1316.6 220.7l3.5 3.5l-3.5 3.5l-3.5 -3.5zM1269.1 227.0l3.5 3.5l-3.5 3.5l-3.5 -3.5zM1258.2 217.0l3.5 3.5l-3.5 3.5l-3.5 -3.5zM1325.8 220.3l3.5 3.5l-3.5 3.5l-3.5 -3.5zM1268.5 221.2l3.5 3.5l-3.5 3.5l-3.5 -3.5zM1253.7 219.4l3.5 3.5l-3.5 3.5l-3.5 -3.5zM1267.3 214.3l3.5 3.5l-3.5 3.5l-3.5 -3.5zM1310.7 229.6l3.5 3.5l-3.5 3.5l-3.5 -3.5zM1309.1 224.2l3.5 3.5l-3.5 3.5l-3.5 -3.5zM1317.4 217.7l3.5 3.5l-3.5 3.5l-3.5 -3.5zM1318.3 216.7l3.5 3.5l-3.5 3.5l-3.5 -3.5zM1326.2 212.6l3.5 3.5l-3.5 3.5l-3.5 -3.5zM1272.0 220.3l3.5 3.5l-3.5 3.5l-3.5 -3.5zM1263.7 217.3l3.5 3.5l-3.5 3.5l-3.5 -3.5zM1322.1 229.5l3.5 3.5l-3.5 3.5l-3.5 -3.5zM1319.7 212.6l3.5 3.5l-3.5 3.5l-3.5 -3.5zM1287.6 214.6l3.5 3.5l-3.5 3.5l-3.5 -3.5zM1270.7 224.2l3.5 3.5l-3.5 3.5l-3.5 -3.5zM1261.5 216.1l3.5 3.5l-3.5 3.5l-3.5 -3.5zM1324.7 217.5l3.5 3.5l-3.5 3.5l-3.5 -3.5zM1297.2 230.4l3.5 3.5l-3.5 3.5l-3.5 -3.5zM1294.8 215.0l3.5 3.5l-3.5 3.5l-3.5 -3.5zM1260.4 213.5l3.5 3.5l-3.5 3.5l-3.5 -3.5zM1260.2 217.3l3.5 3.5l-3.5 3.5l-3.5 -3.5zM1279.4 218.4l3.5 3.5l-3.5 3.5l-3.5 -3.5zM1318.1 220.8l3.5 3.5l-3.5 3.5l-3.5 -3.5zM1311.3 225.7l3.5 3.5l-3.5 3.5l-3.5 -3.5zM1266.8 213.2l3.5 3.5l-3.5 3.5l-3.5 -3.5zM1333.8 214.8l3.5 3.5l-3.5 3.5l-3.5 -3.5zM1362.5 219.4l3.5 3.5l-3.5 3.5l-3.5 -3.5zM1353.3 226.0l3.5 3.5l-3.5 3.5l-3.5 -3.5zM1330.4 216.2l3.5 3.5l-3.5 3.5l-3.5 -3.5zM1349.6 226.8l3.5 3.5l-3.5 3.5l-3.5 -3.5zM1359.4 224.2l3.5 3.5l-3.5 3.5l-3.5 -3.5zM1335.9 219.2l3.5 3.5l-3.5 3.5l-3.5 -3.5zM1345.7 225.6l3.5 3.5l-3.5 3.5l-3.5 -3.5zM1357.7 219.8l3.5 3.5l-3.5 3.5l-3.5 -3.5zM1337.3 226.4l3.5 3.5l-3.5 3.5l-3.5 -3.5zM1354.5 228.3l3.5 3.5l-3.5 3.5l-3.5 -3.5zM1342.6 222.2l3.5 3.5l-3.5 3.5l-3.5 -3.5zM1349.6 223.5l3.5 3.5l-3.5 3.5l-3.5 -3.5zM1351.0 216.5l3.5 3.5l-3.5 3.5l-3.5 -3.5zM1329.2 215.9l3.5 3.5l-3.5 3.5l-3.5 -3.5zM1352.5 219.4l3.5 3.5l-3.5 3.5l-3.5 -3.5zM1357.7 217.7l3.5 3.5l-3.5 3.5l-3.5 -3.5zM1333.8 220.4l3.5 3.5l-3.5 3.5l-3.5 -3.5zM1329.5 216.1l3.5 3.5l-3.5 3.5l-3.5 -3.5zM1347.1 223.4l3.5 3.5l-3.5 3.5l-3.5 -3.5zM1346.5 221.5l3.5 3.5l-3.5 3.5l-3.5 -3.5zM1344.3 216.1l3.5 3.5l-3.5 3.5l-3.5 -3.5zM1361.2 214.6l3.5 3.5l-3.5 3.5l-3.5 -3.5zM1328.9 222.1l3.5 3.5l-3.5 3.5l-3.5 -3.5zM1351.4 228.2l3.5 3.5l-3.5 3.5l-3.5 -3.5zM1359.8 227.8l3.5 3.5l-3.5 3.5l-3.5 -3.5zM1358.1 228.3l3.5 3.5l-3.5 3.5l-3.5 -3.5zM1354.9 219.7l3.5 3.5l-3.5 3.5l-3.5 -3.5zM1334.4 227.0l3.5 3.5l-3.5 3.5l-3.5 -3.5zM1334.7 214.9l3.5 3.5l-3.5 3.5l-3.5 -3.5zM1343.1 213.4l3.5 3.5l-3.5 3.5l-3.5 -3.5zM1357.3 215.1l3.5 3.5l-3.5 3.5l-3.5 -3.5zM1329.7 213.7l3.5 3.5l-3.5 3.5l-3.5 -3.5zM1328.7 215.2l3.5 3.5l-3.5 3.5l-3.5 -3.5zM1361.9 220.7l3.5 3.5l-3.5 3.5l-3.5 -3.5zM1341.0 226.0l3.5 3.5l-3.5 3.5l-3.5 -3.5zM1350.4 224.4l3.5 3.5l-3.5 3.5l-3.5 -3.5zM1363.2 221.3l3.5 3.5l-3.5 3.5l-3.5 -3.5zM1360.9 217.6l3.5 3.5l-3.5 3.5l-3.5 -3.5zM1365.4 223.1l3.5 3.5l-3.5 3.5l-3.5 -3.5zM1369.1 213.9l3.5 3.5l-3.5 3.5l-3.5 -3.5zM1375.5 221.2l3.5 3.5l-3.5 3.5l-3.5 -3.5zM1380.1 218.5l3.5 3.5l-3.5 3.5l-3.5 -3.5zM1383.7 215.8l3.5 3.5l-3.5 3.5l-3.5 -3.5zM1386.5 222.1l3.5 3.5l-3.5 3.5l-3.5 -3.5zM1390.1 225.8l3.5 3.5l-3.5 3.5l-3.5 -3.5zM1392.0 220.3l3.5 3.5l-3.5 3.5l-3.5 -3.5zM1396.5 215.8l3.5 3.5l-3.5 3.5l-3.5 -3.5zM1400.2 213.9l3.5 3.5l-3.5 3.5l-3.5 -3.5zM1399.3 220.3l3.5 3.5l-3.5 3.5l-3.5 -3.5zM1409.3 218.5l3.5 3.5l-3.5 3.5l-3.5 -3.5zM1413.9 216.7l3.5 3.5l-3.5 3.5l-3.5 -3.5zM1416.6 220.3l3.5 3.5l-3.5 3.5l-3.5 -3.5zM1418.5 225.8l3.5 3.5l-3.5 3.5l-3.5 -3.5zM1421.2 218.5l3.5 3.5l-3.5 3.5l-3.5 -3.5zM1423.9 223.1l3.5 3.5l-3.5 3.5l-3.5 -3.5zM1431.3 222.1l3.5 3.5l-3.5 3.5l-3.5 -3.5zM1434.9 219.4l3.5 3.5l-3.5 3.5l-3.5 -3.5zM1438.6 221.2l3.5 3.5l-3.5 3.5l-3.5 -3.5zM1443.1 220.3l3.5 3.5l-3.5 3.5l-3.5 -3.5zM1446.8 218.5l3.5 3.5l-3.5 3.5l-3.5 -3.5zM1453.2 221.2l3.5 3.5l-3.5 3.5l-3.5 -3.5zM1457.8 220.3l3.5 3.5l-3.5 3.5l-3.5 -3.5zM1462.3 220.0l3.5 3.5l-3.5 3.5l-3.5 -3.5zM1485.2 220.7l3.5 3.5l-3.5 3.5l-3.5 -3.5zM1488.8 219.0l3.5 3.5l-3.5 3.5l-3.5 -3.5zM1492.5 218.5l3.5 3.5l-3.5 3.5l-3.5 -3.5zM1496.2 220.0l3.5 3.5l-3.5 3.5l-3.5 -3.5zM1499.8 220.3l3.5 3.5l-3.5 3.5l-3.5 -3.5zM1507.1 222.1l3.5 3.5l-3.5 3.5l-3.5 -3.5zM1512.6 221.2l3.5 3.5l-3.5 3.5l-3.5 -3.5zM1431.8 222.7l3.5 3.5l-3.5 3.5l-3.5 -3.5zM1435.5 219.4l3.5 3.5l-3.5 3.5l-3.5 -3.5zM1439.1 221.6l3.5 3.5l-3.5 3.5l-3.5 -3.5zM1443.7 222.1l3.5 3.5l-3.5 3.5l-3.5 -3.5zM1447.4 219.0l3.5 3.5l-3.5 3.5l-3.5 -3.5zM1452.9 221.6l3.5 3.5l-3.5 3.5l-3.5 -3.5zM1457.4 220.7l3.5 3.5l-3.5 3.5l-3.5 -3.5zM1462.4 220.7l3.5 3.5l-3.5 3.5l-3.5 -3.5zM1485.8 220.7l3.5 3.5l-3.5 3.5l-3.5 -3.5zM1488.5 220.0l3.5 3.5l-3.5 3.5l-3.5 -3.5zM1492.2 219.0l3.5 3.5l-3.5 3.5l-3.5 -3.5zM1494.9 220.3l3.5 3.5l-3.5 3.5l-3.5 -3.5zM1499.1 220.7l3.5 3.5l-3.5 3.5l-3.5 -3.5zM1506.8 223.1l3.5 3.5l-3.5 3.5l-3.5 -3.5zM1511.9 222.5l3.5 3.5l-3.5 3.5l-3.5 -3.5zM1523.2 218.9l3.5 3.5l-3.5 3.5l-3.5 -3.5zM1528.7 221.6l3.5 3.5l-3.5 3.5l-3.5 -3.5zM1531.5 219.8l3.5 3.5l-3.5 3.5l-3.5 -3.5zM1545.2 220.9l3.5 3.5l-3.5 3.5l-3.5 -3.5zM1567.1 220.1l3.5 3.5l-3.5 3.5l-3.5 -3.5zM1576.6 220.3l3.5 3.5l-3.5 3.5l-3.5 -3.5zM1582.7 221.2l3.5 3.5l-3.5 3.5l-3.5 -3.5zM1594.9 221.1l3.5 3.5l-3.5 3.5l-3.5 -3.5zM1608.8 220.7l3.5 3.5l-3.5 3.5l-3.5 -3.5zM1628.0 220.5l3.5 3.5l-3.5 3.5l-3.5 -3.5zM1638.0 220.9l3.5 3.5l-3.5 3.5l-3.5 -3.5zM1679.9 220.3l3.5 3.5l-3.5 3.5l-3.5 -3.5zM1702.4 220.9l3.5 3.5l-3.5 3.5l-3.5 -3.5zM1723.1 220.3l3.5 3.5l-3.5 3.5l-3.5 -3.5zM1728.9 221.2l3.5 3.5l-3.5 3.5l-3.5 -3.5z" fill="#0f8a5f"/>
<path d="M1232.8 49.8v58.4M1267.3 122.5v58.4M1355.6 195.2v58.4" stroke="#000" stroke-width="2.8" stroke-linecap="round" fill="none"/>
<path d="M1116.5 260.8v7.5M1324.3 260.8v7.5M1532.2 260.8v7.5M1740.0 260.8v7.5M1220.4 260.8v4M1428.2 260.8v4M1636.1 260.8v4M1116.5 79.0h-7.5M1116.5 151.7h-7.5M1116.5 224.4h-7.5" stroke="#000" stroke-width="2.0" fill="none"/>
<rect x="1116.5" y="42.6" width="623.5" height="218.2" stroke="#000" stroke-width="2.1" fill="none"/>
<g font-size="22">
<text x="1119.8" y="293.9" text-anchor="middle">0</text><text x="1327.6" y="293.9" text-anchor="middle">1</text><text x="1535.5" y="293.9" text-anchor="middle">2</text><text x="1743.3" y="293.9" text-anchor="middle">3</text>
<text x="1104.8" y="86.5" text-anchor="end">DeepAssembly</text>
<text x="1104.8" y="159.2" text-anchor="end">AlphaFold2</text>
<text x="1104.8" y="231.9" text-anchor="end">RoseTTAFold</text>
<text x="1428.5" y="330.8" text-anchor="middle">inter-domain distance error (Å)</text>
</g>
<text x="929.5" y="23.7" font-size="32" font-weight="bold">b</text>
</g>
<g id="panel-c">
<path d="M1220.4 370.5V661.9M1324.3 370.5V661.9M1428.2 370.5V661.9M1532.2 370.5V661.9M1636.1 370.5V661.9" stroke="#cfcfcf" stroke-width="1.3" fill="none"/>
<path d="M1154.2 398.7l3.5 3.5l-3.5 3.5l-3.5 -3.5zM1158.4 403.1l3.5 3.5l-3.5 3.5l-3.5 -3.5zM1172.4 413.5l3.5 3.5l-3.5 3.5l-3.5 -3.5zM1152.5 403.5l3.5 3.5l-3.5 3.5l-3.5 -3.5zM1156.6 404.5l3.5 3.5l-3.5 3.5l-3.5 -3.5zM1175.0 404.2l3.5 3.5l-3.5 3.5l-3.5 -3.5zM1162.0 396.2l3.5 3.5l-3.5 3.5l-3.5 -3.5zM1167.8 404.0l3.5 3.5l-3.5 3.5l-3.5 -3.5zM1158.3 396.1l3.5 3.5l-3.5 3.5l-3.5 -3.5zM1146.9 409.8l3.5 3.5l-3.5 3.5l-3.5 -3.5zM1157.4 409.5l3.5 3.5l-3.5 3.5l-3.5 -3.5zM1164.9 409.2l3.5 3.5l-3.5 3.5l-3.5 -3.5zM1180.3 397.4l3.5 3.5l-3.5 3.5l-3.5 -3.5zM1156.0 401.9l3.5 3.5l-3.5 3.5l-3.5 -3.5zM1143.6 394.5l3.5 3.5l-3.5 3.5l-3.5 -3.5zM1138.6 405.1l3.5 3.5l-3.5 3.5l-3.5 -3.5zM1186.1 396.9l3.5 3.5l-3.5 3.5l-3.5 -3.5zM1168.4 410.4l3.5 3.5l-3.5 3.5l-3.5 -3.5zM1178.6 404.3l3.5 3.5l-3.5 3.5l-3.5 -3.5zM1177.8 397.4l3.5 3.5l-3.5 3.5l-3.5 -3.5zM1165.2 405.0l3.5 3.5l-3.5 3.5l-3.5 -3.5zM1147.6 401.3l3.5 3.5l-3.5 3.5l-3.5 -3.5zM1161.4 407.0l3.5 3.5l-3.5 3.5l-3.5 -3.5zM1141.7 411.8l3.5 3.5l-3.5 3.5l-3.5 -3.5zM1165.0 393.1l3.5 3.5l-3.5 3.5l-3.5 -3.5zM1183.5 398.3l3.5 3.5l-3.5 3.5l-3.5 -3.5zM1158.3 411.4l3.5 3.5l-3.5 3.5l-3.5 -3.5zM1161.5 395.3l3.5 3.5l-3.5 3.5l-3.5 -3.5zM1150.8 404.9l3.5 3.5l-3.5 3.5l-3.5 -3.5zM1178.5 413.3l3.5 3.5l-3.5 3.5l-3.5 -3.5zM1181.8 397.3l3.5 3.5l-3.5 3.5l-3.5 -3.5zM1165.6 412.1l3.5 3.5l-3.5 3.5l-3.5 -3.5zM1158.9 398.3l3.5 3.5l-3.5 3.5l-3.5 -3.5zM1144.4 405.0l3.5 3.5l-3.5 3.5l-3.5 -3.5zM1168.0 407.0l3.5 3.5l-3.5 3.5l-3.5 -3.5zM1146.3 394.3l3.5 3.5l-3.5 3.5l-3.5 -3.5zM1151.3 411.0l3.5 3.5l-3.5 3.5l-3.5 -3.5zM1154.2 410.5l3.5 3.5l-3.5 3.5l-3.5 -3.5zM1150.1 393.1l3.5 3.5l-3.5 3.5l-3.5 -3.5zM1171.7 403.0l3.5 3.5l-3.5 3.5l-3.5 -3.5zM1167.8 412.6l3.5 3.5l-3.5 3.5l-3.5 -3.5zM1180.2 400.2l3.5 3.5l-3.5 3.5l-3.5 -3.5zM1175.8 402.1l3.5 3.5l-3.5 3.5l-3.5 -3.5zM1177.6 399.5l3.5 3.5l-3.5 3.5l-3.5 -3.5zM1149.5 394.1l3.5 3.5l-3.5 3.5l-3.5 -3.5zM1166.4 394.7l3.5 3.5l-3.5 3.5l-3.5 -3.5zM1179.9 407.0l3.5 3.5l-3.5 3.5l-3.5 -3.5zM1167.1 398.4l3.5 3.5l-3.5 3.5l-3.5 -3.5zM1150.3 413.2l3.5 3.5l-3.5 3.5l-3.5 -3.5zM1173.4 412.1l3.5 3.5l-3.5 3.5l-3.5 -3.5zM1155.1 408.3l3.5 3.5l-3.5 3.5l-3.5 -3.5zM1168.7 403.4l3.5 3.5l-3.5 3.5l-3.5 -3.5zM1178.9 409.1l3.5 3.5l-3.5 3.5l-3.5 -3.5zM1163.8 392.9l3.5 3.5l-3.5 3.5l-3.5 -3.5zM1160.2 413.1l3.5 3.5l-3.5 3.5l-3.5 -3.5zM1160.8 413.7l3.5 3.5l-3.5 3.5l-3.5 -3.5zM1169.3 405.4l3.5 3.5l-3.5 3.5l-3.5 -3.5zM1182.9 404.9l3.5 3.5l-3.5 3.5l-3.5 -3.5zM1161.9 408.7l3.5 3.5l-3.5 3.5l-3.5 -3.5zM1169.2 392.6l3.5 3.5l-3.5 3.5l-3.5 -3.5zM1171.4 407.7l3.5 3.5l-3.5 3.5l-3.5 -3.5zM1176.7 400.7l3.5 3.5l-3.5 3.5l-3.5 -3.5zM1142.1 392.7l3.5 3.5l-3.5 3.5l-3.5 -3.5zM1165.1 402.0l3.5 3.5l-3.5 3.5l-3.5 -3.5zM1143.1 412.6l3.5 3.5l-3.5 3.5l-3.5 -3.5zM1138.7 405.3l3.5 3.5l-3.5 3.5l-3.5 -3.5zM1145.0 398.3l3.5 3.5l-3.5 3.5l-3.5 -3.5zM1186.3 403.4l3.5 3.5l-3.5 3.5l-3.5 -3.5zM1167.3 410.4l3.5 3.5l-3.5 3.5l-3.5 -3.5zM1176.4 395.8l3.5 3.5l-3.5 3.5l-3.5 -3.5zM1166.3 413.3l3.5 3.5l-3.5 3.5l-3.5 -3.5zM1168.7 396.0l3.5 3.5l-3.5 3.5l-3.5 -3.5zM1154.8 395.4l3.5 3.5l-3.5 3.5l-3.5 -3.5zM1170.4 393.2l3.5 3.5l-3.5 3.5l-3.5 -3.5zM1151.1 411.8l3.5 3.5l-3.5 3.5l-3.5 -3.5zM1164.6 405.9l3.5 3.5l-3.5 3.5l-3.5 -3.5zM1163.2 406.6l3.5 3.5l-3.5 3.5l-3.5 -3.5zM1163.9 401.3l3.5 3.5l-3.5 3.5l-3.5 -3.5zM1143.5 394.9l3.5 3.5l-3.5 3.5l-3.5 -3.5zM1162.9 400.6l3.5 3.5l-3.5 3.5l-3.5 -3.5zM1151.1 396.2l3.5 3.5l-3.5 3.5l-3.5 -3.5zM1138.3 405.0l3.5 3.5l-3.5 3.5l-3.5 -3.5zM1175.1 406.8l3.5 3.5l-3.5 3.5l-3.5 -3.5zM1143.5 404.2l3.5 3.5l-3.5 3.5l-3.5 -3.5zM1184.6 400.8l3.5 3.5l-3.5 3.5l-3.5 -3.5zM1162.6 398.2l3.5 3.5l-3.5 3.5l-3.5 -3.5zM1155.5 407.3l3.5 3.5l-3.5 3.5l-3.5 -3.5zM1138.9 396.5l3.5 3.5l-3.5 3.5l-3.5 -3.5zM1138.0 412.7l3.5 3.5l-3.5 3.5l-3.5 -3.5zM1171.3 403.4l3.5 3.5l-3.5 3.5l-3.5 -3.5zM1172.0 404.2l3.5 3.5l-3.5 3.5l-3.5 -3.5zM1155.0 411.0l3.5 3.5l-3.5 3.5l-3.5 -3.5zM1179.9 395.2l3.5 3.5l-3.5 3.5l-3.5 -3.5zM1152.0 412.4l3.5 3.5l-3.5 3.5l-3.5 -3.5zM1163.5 411.9l3.5 3.5l-3.5 3.5l-3.5 -3.5zM1144.4 400.7l3.5 3.5l-3.5 3.5l-3.5 -3.5zM1154.9 396.3l3.5 3.5l-3.5 3.5l-3.5 -3.5zM1173.4 409.8l3.5 3.5l-3.5 3.5l-3.5 -3.5zM1159.0 393.6l3.5 3.5l-3.5 3.5l-3.5 -3.5zM1150.8 408.8l3.5 3.5l-3.5 3.5l-3.5 -3.5zM1162.4 408.3l3.5 3.5l-3.5 3.5l-3.5 -3.5zM1179.2 395.5l3.5 3.5l-3.5 3.5l-3.5 -3.5zM1166.5 392.6l3.5 3.5l-3.5 3.5l-3.5 -3.5zM1150.6 395.1l3.5 3.5l-3.5 3.5l-3.5 -3.5zM1181.8 407.9l3.5 3.5l-3.5 3.5l-3.5 -3.5zM1142.8 402.0l3.5 3.5l-3.5 3.5l-3.5 -3.5zM1174.8 413.6l3.5 3.5l-3.5 3.5l-3.5 -3.5zM1159.5 395.5l3.5 3.5l-3.5 3.5l-3.5 -3.5zM1163.6 413.4l3.5 3.5l-3.5 3.5l-3.5 -3.5zM1150.1 413.4l3.5 3.5l-3.5 3.5l-3.5 -3.5zM1150.3 399.3l3.5 3.5l-3.5 3.5l-3.5 -3.5zM1145.0 393.9l3.5 3.5l-3.5 3.5l-3.5 -3.5zM1164.5 410.6l3.5 3.5l-3.5 3.5l-3.5 -3.5zM1173.3 406.6l3.5 3.5l-3.5 3.5l-3.5 -3.5zM1137.7 408.0l3.5 3.5l-3.5 3.5l-3.5 -3.5zM1193.2 402.0l3.5 3.5l-3.5 3.5l-3.5 -3.5zM1188.9 394.6l3.5 3.5l-3.5 3.5l-3.5 -3.5zM1196.4 392.6l3.5 3.5l-3.5 3.5l-3.5 -3.5zM1216.1 401.1l3.5 3.5l-3.5 3.5l-3.5 -3.5zM1187.6 412.6l3.5 3.5l-3.5 3.5l-3.5 -3.5zM1214.2 395.4l3.5 3.5l-3.5 3.5l-3.5 -3.5zM1193.6 414.0l3.5 3.5l-3.5 3.5l-3.5 -3.5zM1197.3 402.3l3.5 3.5l-3.5 3.5l-3.5 -3.5zM1206.0 399.1l3.5 3.5l-3.5 3.5l-3.5 -3.5zM1216.8 412.7l3.5 3.5l-3.5 3.5l-3.5 -3.5zM1205.5 399.4l3.5 3.5l-3.5 3.5l-3.5 -3.5zM1205.8 395.9l3.5 3.5l-3.5 3.5l-3.5 -3.5zM1212.5 412.4l3.5 3.5l-3.5 3.5l-3.5 -3.5zM1210.5 412.5l3.5 3.5l-3.5 3.5l-3.5 -3.5zM1215.4 409.4l3.5 3.5l-3.5 3.5l-3.5 -3.5zM1197.5 409.2l3.5 3.5l-3.5 3.5l-3.5 -3.5zM1218.9 402.6l3.5 3.5l-3.5 3.5l-3.5 -3.5zM1219.4 411.0l3.5 3.5l-3.5 3.5l-3.5 -3.5zM1211.2 401.4l3.5 3.5l-3.5 3.5l-3.5 -3.5zM1189.0 403.0l3.5 3.5l-3.5 3.5l-3.5 -3.5zM1200.0 396.0l3.5 3.5l-3.5 3.5l-3.5 -3.5zM1213.5 404.1l3.5 3.5l-3.5 3.5l-3.5 -3.5zM1194.5 408.0l3.5 3.5l-3.5 3.5l-3.5 -3.5zM1203.3 398.2l3.5 3.5l-3.5 3.5l-3.5 -3.5zM1198.0 395.5l3.5 3.5l-3.5 3.5l-3.5 -3.5zM1192.6 394.2l3.5 3.5l-3.5 3.5l-3.5 -3.5zM1206.1 402.8l3.5 3.5l-3.5 3.5l-3.5 -3.5zM1199.2 394.9l3.5 3.5l-3.5 3.5l-3.5 -3.5zM1214.4 401.7l3.5 3.5l-3.5 3.5l-3.5 -3.5zM1190.1 405.8l3.5 3.5l-3.5 3.5l-3.5 -3.5zM1217.0 393.9l3.5 3.5l-3.5 3.5l-3.5 -3.5zM1199.7 409.7l3.5 3.5l-3.5 3.5l-3.5 -3.5zM1211.4 394.6l3.5 3.5l-3.5 3.5l-3.5 -3.5zM1194.4 395.2l3.5 3.5l-3.5 3.5l-3.5 -3.5zM1189.9 406.7l3.5 3.5l-3.5 3.5l-3.5 -3.5zM1188.8 412.9l3.5 3.5l-3.5 3.5l-3.5 -3.5zM1195.9 395.1l3.5 3.5l-3.5 3.5l-3.5 -3.5zM1194.4 407.7l3.5 3.5l-3.5 3.5l-3.5 -3.5zM1208.2 402.8l3.5 3.5l-3.5 3.5l-3.5 -3.5zM1207.7 397.0l3.5 3.5l-3.5 3.5l-3.5 -3.5zM1217.2 404.9l3.5 3.5l-3.5 3.5l-3.5 -3.5zM1207.7 401.9l3.5 3.5l-3.5 3.5l-3.5 -3.5zM1205.7 400.8l3.5 3.5l-3.5 3.5l-3.5 -3.5zM1195.9 411.3l3.5 3.5l-3.5 3.5l-3.5 -3.5zM1188.3 404.7l3.5 3.5l-3.5 3.5l-3.5 -3.5zM1207.7 410.1l3.5 3.5l-3.5 3.5l-3.5 -3.5zM1192.7 393.5l3.5 3.5l-3.5 3.5l-3.5 -3.5zM1220.3 413.0l3.5 3.5l-3.5 3.5l-3.5 -3.5zM1209.8 397.5l3.5 3.5l-3.5 3.5l-3.5 -3.5zM1188.3 403.7l3.5 3.5l-3.5 3.5l-3.5 -3.5zM1224.3 401.6l3.5 3.5l-3.5 3.5l-3.5 -3.5zM1227.0 399.8l3.5 3.5l-3.5 3.5l-3.5 -3.5zM1229.7 400.7l3.5 3.5l-3.5 3.5l-3.5 -3.5zM1236.1 404.3l3.5 3.5l-3.5 3.5l-3.5 -3.5zM1239.8 405.2l3.5 3.5l-3.5 3.5l-3.5 -3.5zM1243.5 403.4l3.5 3.5l-3.5 3.5l-3.5 -3.5zM1248.9 403.4l3.5 3.5l-3.5 3.5l-3.5 -3.5zM1251.7 401.6l3.5 3.5l-3.5 3.5l-3.5 -3.5zM1254.4 404.3l3.5 3.5l-3.5 3.5l-3.5 -3.5zM1257.2 402.5l3.5 3.5l-3.5 3.5l-3.5 -3.5zM1262.7 407.1l3.5 3.5l-3.5 3.5l-3.5 -3.5zM1265.4 403.4l3.5 3.5l-3.5 3.5l-3.5 -3.5zM1268.1 400.7l3.5 3.5l-3.5 3.5l-3.5 -3.5zM1273.6 398.9l3.5 3.5l-3.5 3.5l-3.5 -3.5zM1280.0 403.4l3.5 3.5l-3.5 3.5l-3.5 -3.5zM1282.8 407.1l3.5 3.5l-3.5 3.5l-3.5 -3.5zM1285.5 401.0l3.5 3.5l-3.5 3.5l-3.5 -3.5zM1294.6 406.2l3.5 3.5l-3.5 3.5l-3.5 -3.5zM1298.3 403.4l3.5 3.5l-3.5 3.5l-3.5 -3.5zM1301.0 402.5l3.5 3.5l-3.5 3.5l-3.5 -3.5zM1306.5 404.3l3.5 3.5l-3.5 3.5l-3.5 -3.5zM1308.4 407.1l3.5 3.5l-3.5 3.5l-3.5 -3.5zM1311.1 399.8l3.5 3.5l-3.5 3.5l-3.5 -3.5zM1315.7 404.3l3.5 3.5l-3.5 3.5l-3.5 -3.5zM1328.5 403.1l3.5 3.5l-3.5 3.5l-3.5 -3.5zM1338.5 403.8l3.5 3.5l-3.5 3.5l-3.5 -3.5zM1330.0 402.7l3.5 3.5l-3.5 3.5l-3.5 -3.5zM1338.5 402.9l3.5 3.5l-3.5 3.5l-3.5 -3.5zM1373.5 403.4l3.5 3.5l-3.5 3.5l-3.5 -3.5zM1384.3 403.8l3.5 3.5l-3.5 3.5l-3.5 -3.5zM1389.0 403.8l3.5 3.5l-3.5 3.5l-3.5 -3.5zM1394.7 403.4l3.5 3.5l-3.5 3.5l-3.5 -3.5zM1404.2 403.0l3.5 3.5l-3.5 3.5l-3.5 -3.5zM1410.3 403.6l3.5 3.5l-3.5 3.5l-3.5 -3.5zM1416.0 403.2l3.5 3.5l-3.5 3.5l-3.5 -3.5zM1431.6 402.9l3.5 3.5l-3.5 3.5l-3.5 -3.5zM1480.2 403.8l3.5 3.5l-3.5 3.5l-3.5 -3.5zM1483.5 403.9l3.5 3.5l-3.5 3.5l-3.5 -3.5zM1523.7 402.9l3.5 3.5l-3.5 3.5l-3.5 -3.5zM1531.7 402.7l3.5 3.5l-3.5 3.5l-3.5 -3.5zM1546.8 403.8l3.5 3.5l-3.5 3.5l-3.5 -3.5zM1561.0 403.9l3.5 3.5l-3.5 3.5l-3.5 -3.5zM1591.2 402.7l3.5 3.5l-3.5 3.5l-3.5 -3.5zM1614.8 403.2l3.5 3.5l-3.5 3.5l-3.5 -3.5zM1629.0 403.7l3.5 3.5l-3.5 3.5l-3.5 -3.5zM1640.8 403.1l3.5 3.5l-3.5 3.5l-3.5 -3.5zM1645.1 403.9l3.5 3.5l-3.5 3.5l-3.5 -3.5z" fill="#0868ac"/>
<path d="M1140.3 479.9l3.5 3.5l-3.5 3.5l-3.5 -3.5zM1168.2 476.4l3.5 3.5l-3.5 3.5l-3.5 -3.5zM1167.4 470.9l3.5 3.5l-3.5 3.5l-3.5 -3.5zM1176.0 476.7l3.5 3.5l-3.5 3.5l-3.5 -3.5zM1163.4 471.7l3.5 3.5l-3.5 3.5l-3.5 -3.5zM1153.3 480.7l3.5 3.5l-3.5 3.5l-3.5 -3.5zM1151.0 486.5l3.5 3.5l-3.5 3.5l-3.5 -3.5zM1160.7 466.8l3.5 3.5l-3.5 3.5l-3.5 -3.5zM1150.3 481.5l3.5 3.5l-3.5 3.5l-3.5 -3.5zM1183.8 484.1l3.5 3.5l-3.5 3.5l-3.5 -3.5zM1141.8 480.6l3.5 3.5l-3.5 3.5l-3.5 -3.5zM1169.3 477.5l3.5 3.5l-3.5 3.5l-3.5 -3.5zM1156.2 471.6l3.5 3.5l-3.5 3.5l-3.5 -3.5zM1156.7 473.8l3.5 3.5l-3.5 3.5l-3.5 -3.5zM1162.7 468.4l3.5 3.5l-3.5 3.5l-3.5 -3.5zM1152.5 466.7l3.5 3.5l-3.5 3.5l-3.5 -3.5zM1171.8 480.5l3.5 3.5l-3.5 3.5l-3.5 -3.5zM1166.5 467.8l3.5 3.5l-3.5 3.5l-3.5 -3.5zM1160.3 466.5l3.5 3.5l-3.5 3.5l-3.5 -3.5zM1158.1 470.7l3.5 3.5l-3.5 3.5l-3.5 -3.5zM1164.5 465.6l3.5 3.5l-3.5 3.5l-3.5 -3.5zM1172.2 478.3l3.5 3.5l-3.5 3.5l-3.5 -3.5zM1145.4 476.7l3.5 3.5l-3.5 3.5l-3.5 -3.5zM1143.8 474.9l3.5 3.5l-3.5 3.5l-3.5 -3.5zM1144.8 467.1l3.5 3.5l-3.5 3.5l-3.5 -3.5zM1156.0 476.5l3.5 3.5l-3.5 3.5l-3.5 -3.5zM1162.1 480.3l3.5 3.5l-3.5 3.5l-3.5 -3.5zM1157.8 472.7l3.5 3.5l-3.5 3.5l-3.5 -3.5zM1174.2 471.2l3.5 3.5l-3.5 3.5l-3.5 -3.5zM1168.6 474.5l3.5 3.5l-3.5 3.5l-3.5 -3.5zM1168.8 471.4l3.5 3.5l-3.5 3.5l-3.5 -3.5zM1162.4 473.6l3.5 3.5l-3.5 3.5l-3.5 -3.5zM1183.8 477.8l3.5 3.5l-3.5 3.5l-3.5 -3.5zM1138.6 466.3l3.5 3.5l-3.5 3.5l-3.5 -3.5zM1159.8 471.6l3.5 3.5l-3.5 3.5l-3.5 -3.5zM1154.4 467.9l3.5 3.5l-3.5 3.5l-3.5 -3.5zM1184.6 470.4l3.5 3.5l-3.5 3.5l-3.5 -3.5zM1152.2 482.9l3.5 3.5l-3.5 3.5l-3.5 -3.5zM1157.0 473.8l3.5 3.5l-3.5 3.5l-3.5 -3.5zM1173.2 475.2l3.5 3.5l-3.5 3.5l-3.5 -3.5zM1157.5 471.9l3.5 3.5l-3.5 3.5l-3.5 -3.5zM1144.5 485.9l3.5 3.5l-3.5 3.5l-3.5 -3.5zM1147.8 484.1l3.5 3.5l-3.5 3.5l-3.5 -3.5zM1161.9 466.7l3.5 3.5l-3.5 3.5l-3.5 -3.5zM1155.3 470.9l3.5 3.5l-3.5 3.5l-3.5 -3.5zM1164.9 474.6l3.5 3.5l-3.5 3.5l-3.5 -3.5zM1148.8 481.8l3.5 3.5l-3.5 3.5l-3.5 -3.5zM1184.0 472.3l3.5 3.5l-3.5 3.5l-3.5 -3.5zM1153.3 469.3l3.5 3.5l-3.5 3.5l-3.5 -3.5zM1155.3 468.5l3.5 3.5l-3.5 3.5l-3.5 -3.5zM1166.8 483.7l3.5 3.5l-3.5 3.5l-3.5 -3.5zM1177.6 473.9l3.5 3.5l-3.5 3.5l-3.5 -3.5zM1178.5 472.6l3.5 3.5l-3.5 3.5l-3.5 -3.5zM1163.4 474.8l3.5 3.5l-3.5 3.5l-3.5 -3.5zM1178.2 486.8l3.5 3.5l-3.5 3.5l-3.5 -3.5zM1168.8 480.6l3.5 3.5l-3.5 3.5l-3.5 -3.5zM1153.7 470.4l3.5 3.5l-3.5 3.5l-3.5 -3.5zM1160.5 469.6l3.5 3.5l-3.5 3.5l-3.5 -3.5zM1153.0 467.9l3.5 3.5l-3.5 3.5l-3.5 -3.5zM1175.0 485.0l3.5 3.5l-3.5 3.5l-3.5 -3.5zM1165.2 475.2l3.5 3.5l-3.5 3.5l-3.5 -3.5zM1162.4 480.5l3.5 3.5l-3.5 3.5l-3.5 -3.5zM1153.4 484.4l3.5 3.5l-3.5 3.5l-3.5 -3.5zM1172.5 466.8l3.5 3.5l-3.5 3.5l-3.5 -3.5zM1149.9 470.0l3.5 3.5l-3.5 3.5l-3.5 -3.5zM1152.1 474.3l3.5 3.5l-3.5 3.5l-3.5 -3.5zM1137.5 481.9l3.5 3.5l-3.5 3.5l-3.5 -3.5zM1142.5 474.9l3.5 3.5l-3.5 3.5l-3.5 -3.5zM1152.9 472.0l3.5 3.5l-3.5 3.5l-3.5 -3.5zM1152.8 467.0l3.5 3.5l-3.5 3.5l-3.5 -3.5zM1157.7 474.4l3.5 3.5l-3.5 3.5l-3.5 -3.5zM1168.4 469.5l3.5 3.5l-3.5 3.5l-3.5 -3.5zM1150.1 486.2l3.5 3.5l-3.5 3.5l-3.5 -3.5zM1145.4 484.2l3.5 3.5l-3.5 3.5l-3.5 -3.5zM1167.2 474.2l3.5 3.5l-3.5 3.5l-3.5 -3.5zM1171.5 467.2l3.5 3.5l-3.5 3.5l-3.5 -3.5zM1180.8 473.6l3.5 3.5l-3.5 3.5l-3.5 -3.5zM1161.2 486.4l3.5 3.5l-3.5 3.5l-3.5 -3.5zM1140.1 479.1l3.5 3.5l-3.5 3.5l-3.5 -3.5zM1153.5 475.9l3.5 3.5l-3.5 3.5l-3.5 -3.5zM1169.9 473.9l3.5 3.5l-3.5 3.5l-3.5 -3.5zM1156.4 469.7l3.5 3.5l-3.5 3.5l-3.5 -3.5zM1144.1 468.5l3.5 3.5l-3.5 3.5l-3.5 -3.5zM1182.9 474.5l3.5 3.5l-3.5 3.5l-3.5 -3.5zM1177.8 486.4l3.5 3.5l-3.5 3.5l-3.5 -3.5zM1149.6 485.8l3.5 3.5l-3.5 3.5l-3.5 -3.5zM1143.3 484.0l3.5 3.5l-3.5 3.5l-3.5 -3.5zM1160.2 472.8l3.5 3.5l-3.5 3.5l-3.5 -3.5zM1149.1 478.1l3.5 3.5l-3.5 3.5l-3.5 -3.5zM1161.6 469.3l3.5 3.5l-3.5 3.5l-3.5 -3.5zM1172.6 470.8l3.5 3.5l-3.5 3.5l-3.5 -3.5zM1150.9 469.2l3.5 3.5l-3.5 3.5l-3.5 -3.5zM1155.1 473.5l3.5 3.5l-3.5 3.5l-3.5 -3.5zM1166.9 466.6l3.5 3.5l-3.5 3.5l-3.5 -3.5zM1162.6 483.9l3.5 3.5l-3.5 3.5l-3.5 -3.5zM1138.0 485.4l3.5 3.5l-3.5 3.5l-3.5 -3.5zM1153.0 469.7l3.5 3.5l-3.5 3.5l-3.5 -3.5zM1143.6 472.5l3.5 3.5l-3.5 3.5l-3.5 -3.5zM1178.4 470.2l3.5 3.5l-3.5 3.5l-3.5 -3.5zM1159.5 480.4l3.5 3.5l-3.5 3.5l-3.5 -3.5zM1175.2 486.7l3.5 3.5l-3.5 3.5l-3.5 -3.5zM1150.0 485.5l3.5 3.5l-3.5 3.5l-3.5 -3.5zM1140.1 466.4l3.5 3.5l-3.5 3.5l-3.5 -3.5zM1179.8 485.5l3.5 3.5l-3.5 3.5l-3.5 -3.5zM1179.5 475.4l3.5 3.5l-3.5 3.5l-3.5 -3.5zM1164.7 468.7l3.5 3.5l-3.5 3.5l-3.5 -3.5zM1143.5 472.0l3.5 3.5l-3.5 3.5l-3.5 -3.5zM1140.5 476.6l3.5 3.5l-3.5 3.5l-3.5 -3.5zM1169.2 473.5l3.5 3.5l-3.5 3.5l-3.5 -3.5zM1162.5 478.4l3.5 3.5l-3.5 3.5l-3.5 -3.5zM1153.7 467.3l3.5 3.5l-3.5 3.5l-3.5 -3.5zM1164.8 478.8l3.5 3.5l-3.5 3.5l-3.5 -3.5zM1139.8 472.7l3.5 3.5l-3.5 3.5l-3.5 -3.5zM1147.2 483.7l3.5 3.5l-3.5 3.5l-3.5 -3.5zM1183.9 478.5l3.5 3.5l-3.5 3.5l-3.5 -3.5zM1158.6 466.6l3.5 3.5l-3.5 3.5l-3.5 -3.5zM1158.2 486.6l3.5 3.5l-3.5 3.5l-3.5 -3.5zM1184.2 470.0l3.5 3.5l-3.5 3.5l-3.5 -3.5zM1158.7 477.6l3.5 3.5l-3.5 3.5l-3.5 -3.5zM1139.5 473.8l3.5 3.5l-3.5 3.5l-3.5 -3.5zM1205.4 486.8l3.5 3.5l-3.5 3.5l-3.5 -3.5zM1190.0 472.5l3.5 3.5l-3.5 3.5l-3.5 -3.5zM1194.2 468.2l3.5 3.5l-3.5 3.5l-3.5 -3.5zM1193.2 484.2l3.5 3.5l-3.5 3.5l-3.5 -3.5zM1199.8 469.1l3.5 3.5l-3.5 3.5l-3.5 -3.5zM1198.1 472.8l3.5 3.5l-3.5 3.5l-3.5 -3.5zM1199.1 472.7l3.5 3.5l-3.5 3.5l-3.5 -3.5zM1199.0 468.9l3.5 3.5l-3.5 3.5l-3.5 -3.5zM1198.4 469.4l3.5 3.5l-3.5 3.5l-3.5 -3.5zM1213.7 483.8l3.5 3.5l-3.5 3.5l-3.5 -3.5zM1201.5 485.8l3.5 3.5l-3.5 3.5l-3.5 -3.5zM1206.5 465.7l3.5 3.5l-3.5 3.5l-3.5 -3.5zM1205.1 473.9l3.5 3.5l-3.5 3.5l-3.5 -3.5zM1204.6 484.0l3.5 3.5l-3.5 3.5l-3.5 -3.5zM1216.5 471.7l3.5 3.5l-3.5 3.5l-3.5 -3.5zM1218.6 465.9l3.5 3.5l-3.5 3.5l-3.5 -3.5zM1186.3 484.1l3.5 3.5l-3.5 3.5l-3.5 -3.5zM1199.4 481.9l3.5 3.5l-3.5 3.5l-3.5 -3.5zM1220.0 466.1l3.5 3.5l-3.5 3.5l-3.5 -3.5zM1192.4 481.5l3.5 3.5l-3.5 3.5l-3.5 -3.5zM1202.9 474.6l3.5 3.5l-3.5 3.5l-3.5 -3.5zM1198.1 478.5l3.5 3.5l-3.5 3.5l-3.5 -3.5zM1206.6 468.8l3.5 3.5l-3.5 3.5l-3.5 -3.5zM1212.6 472.7l3.5 3.5l-3.5 3.5l-3.5 -3.5zM1208.0 486.1l3.5 3.5l-3.5 3.5l-3.5 -3.5zM1193.4 475.1l3.5 3.5l-3.5 3.5l-3.5 -3.5zM1207.5 473.8l3.5 3.5l-3.5 3.5l-3.5 -3.5zM1210.5 483.9l3.5 3.5l-3.5 3.5l-3.5 -3.5zM1189.2 478.5l3.5 3.5l-3.5 3.5l-3.5 -3.5zM1207.0 476.2l3.5 3.5l-3.5 3.5l-3.5 -3.5zM1186.0 466.4l3.5 3.5l-3.5 3.5l-3.5 -3.5zM1199.7 480.7l3.5 3.5l-3.5 3.5l-3.5 -3.5zM1197.4 471.1l3.5 3.5l-3.5 3.5l-3.5 -3.5zM1190.5 472.3l3.5 3.5l-3.5 3.5l-3.5 -3.5zM1208.7 470.7l3.5 3.5l-3.5 3.5l-3.5 -3.5zM1209.2 474.2l3.5 3.5l-3.5 3.5l-3.5 -3.5zM1208.0 484.2l3.5 3.5l-3.5 3.5l-3.5 -3.5zM1208.2 477.2l3.5 3.5l-3.5 3.5l-3.5 -3.5zM1210.2 482.7l3.5 3.5l-3.5 3.5l-3.5 -3.5zM1204.6 485.9l3.5 3.5l-3.5 3.5l-3.5 -3.5zM1219.2 480.8l3.5 3.5l-3.5 3.5l-3.5 -3.5zM1206.2 468.4l3.5 3.5l-3.5 3.5l-3.5 -3.5zM1204.0 470.1l3.5 3.5l-3.5 3.5l-3.5 -3.5zM1212.0 466.1l3.5 3.5l-3.5 3.5l-3.5 -3.5zM1194.0 483.4l3.5 3.5l-3.5 3.5l-3.5 -3.5zM1218.8 469.2l3.5 3.5l-3.5 3.5l-3.5 -3.5zM1206.7 483.1l3.5 3.5l-3.5 3.5l-3.5 -3.5zM1197.3 470.3l3.5 3.5l-3.5 3.5l-3.5 -3.5zM1194.9 484.5l3.5 3.5l-3.5 3.5l-3.5 -3.5zM1197.4 466.9l3.5 3.5l-3.5 3.5l-3.5 -3.5zM1224.3 476.3l3.5 3.5l-3.5 3.5l-3.5 -3.5zM1227.9 478.1l3.5 3.5l-3.5 3.5l-3.5 -3.5zM1230.7 473.6l3.5 3.5l-3.5 3.5l-3.5 -3.5zM1240.7 475.4l3.5 3.5l-3.5 3.5l-3.5 -3.5zM1245.3 479.1l3.5 3.5l-3.5 3.5l-3.5 -3.5zM1249.9 476.3l3.5 3.5l-3.5 3.5l-3.5 -3.5zM1254.4 473.6l3.5 3.5l-3.5 3.5l-3.5 -3.5zM1257.2 476.0l3.5 3.5l-3.5 3.5l-3.5 -3.5zM1263.9 472.3l3.5 3.5l-3.5 3.5l-3.5 -3.5zM1268.1 478.1l3.5 3.5l-3.5 3.5l-3.5 -3.5zM1270.9 474.5l3.5 3.5l-3.5 3.5l-3.5 -3.5zM1273.6 479.1l3.5 3.5l-3.5 3.5l-3.5 -3.5zM1279.1 476.7l3.5 3.5l-3.5 3.5l-3.5 -3.5zM1290.1 472.7l3.5 3.5l-3.5 3.5l-3.5 -3.5zM1290.1 479.1l3.5 3.5l-3.5 3.5l-3.5 -3.5zM1295.6 475.4l3.5 3.5l-3.5 3.5l-3.5 -3.5zM1298.3 476.9l3.5 3.5l-3.5 3.5l-3.5 -3.5zM1305.6 475.8l3.5 3.5l-3.5 3.5l-3.5 -3.5zM1311.1 472.7l3.5 3.5l-3.5 3.5l-3.5 -3.5zM1313.8 478.1l3.5 3.5l-3.5 3.5l-3.5 -3.5zM1317.5 473.2l3.5 3.5l-3.5 3.5l-3.5 -3.5zM1327.6 475.4l3.5 3.5l-3.5 3.5l-3.5 -3.5zM1333.9 476.0l3.5 3.5l-3.5 3.5l-3.5 -3.5zM1336.7 477.2l3.5 3.5l-3.5 3.5l-3.5 -3.5zM1351.0 475.4l3.5 3.5l-3.5 3.5l-3.5 -3.5zM1359.0 475.0l3.5 3.5l-3.5 3.5l-3.5 -3.5zM1361.9 477.2l3.5 3.5l-3.5 3.5l-3.5 -3.5zM1373.3 476.3l3.5 3.5l-3.5 3.5l-3.5 -3.5zM1378.7 475.8l3.5 3.5l-3.5 3.5l-3.5 -3.5zM1381.8 477.2l3.5 3.5l-3.5 3.5l-3.5 -3.5zM1391.0 476.3l3.5 3.5l-3.5 3.5l-3.5 -3.5zM1400.7 476.7l3.5 3.5l-3.5 3.5l-3.5 -3.5zM1403.6 475.8l3.5 3.5l-3.5 3.5l-3.5 -3.5zM1421.3 476.0l3.5 3.5l-3.5 3.5l-3.5 -3.5zM1429.6 476.3l3.5 3.5l-3.5 3.5l-3.5 -3.5zM1431.8 476.1l3.5 3.5l-3.5 3.5l-3.5 -3.5zM1478.8 476.3l3.5 3.5l-3.5 3.5l-3.5 -3.5zM1507.1 476.3l3.5 3.5l-3.5 3.5l-3.5 -3.5zM1524.9 476.3l3.5 3.5l-3.5 3.5l-3.5 -3.5zM1542.6 475.8l3.5 3.5l-3.5 3.5l-3.5 -3.5zM1558.9 476.5l3.5 3.5l-3.5 3.5l-3.5 -3.5zM1564.4 476.1l3.5 3.5l-3.5 3.5l-3.5 -3.5zM1595.4 476.3l3.5 3.5l-3.5 3.5l-3.5 -3.5zM1615.0 476.1l3.5 3.5l-3.5 3.5l-3.5 -3.5zM1639.0 476.1l3.5 3.5l-3.5 3.5l-3.5 -3.5zM1702.8 476.3l3.5 3.5l-3.5 3.5l-3.5 -3.5z" fill="#b2550f"/>
<path d="M1153.2 549.0l3.5 3.5l-3.5 3.5l-3.5 -3.5zM1156.5 547.1l3.5 3.5l-3.5 3.5l-3.5 -3.5zM1147.2 543.8l3.5 3.5l-3.5 3.5l-3.5 -3.5zM1144.0 551.9l3.5 3.5l-3.5 3.5l-3.5 -3.5zM1149.6 548.3l3.5 3.5l-3.5 3.5l-3.5 -3.5zM1156.8 556.7l3.5 3.5l-3.5 3.5l-3.5 -3.5zM1139.9 543.1l3.5 3.5l-3.5 3.5l-3.5 -3.5zM1151.3 541.3l3.5 3.5l-3.5 3.5l-3.5 -3.5zM1145.9 552.2l3.5 3.5l-3.5 3.5l-3.5 -3.5zM1155.7 554.5l3.5 3.5l-3.5 3.5l-3.5 -3.5zM1140.4 551.7l3.5 3.5l-3.5 3.5l-3.5 -3.5zM1153.2 548.5l3.5 3.5l-3.5 3.5l-3.5 -3.5zM1148.5 541.6l3.5 3.5l-3.5 3.5l-3.5 -3.5zM1150.0 541.4l3.5 3.5l-3.5 3.5l-3.5 -3.5zM1187.3 541.4l3.5 3.5l-3.5 3.5l-3.5 -3.5zM1217.8 559.9l3.5 3.5l-3.5 3.5l-3.5 -3.5zM1169.7 550.3l3.5 3.5l-3.5 3.5l-3.5 -3.5zM1204.3 559.1l3.5 3.5l-3.5 3.5l-3.5 -3.5zM1209.2 544.6l3.5 3.5l-3.5 3.5l-3.5 -3.5zM1212.0 548.3l3.5 3.5l-3.5 3.5l-3.5 -3.5zM1204.5 558.0l3.5 3.5l-3.5 3.5l-3.5 -3.5zM1198.9 554.3l3.5 3.5l-3.5 3.5l-3.5 -3.5zM1204.1 550.5l3.5 3.5l-3.5 3.5l-3.5 -3.5zM1190.2 552.3l3.5 3.5l-3.5 3.5l-3.5 -3.5zM1193.8 539.2l3.5 3.5l-3.5 3.5l-3.5 -3.5zM1217.2 559.4l3.5 3.5l-3.5 3.5l-3.5 -3.5zM1211.8 559.1l3.5 3.5l-3.5 3.5l-3.5 -3.5zM1164.1 553.6l3.5 3.5l-3.5 3.5l-3.5 -3.5zM1180.3 546.3l3.5 3.5l-3.5 3.5l-3.5 -3.5zM1175.7 544.5l3.5 3.5l-3.5 3.5l-3.5 -3.5zM1159.3 543.8l3.5 3.5l-3.5 3.5l-3.5 -3.5zM1160.5 541.6l3.5 3.5l-3.5 3.5l-3.5 -3.5zM1186.1 538.6l3.5 3.5l-3.5 3.5l-3.5 -3.5zM1173.0 538.1l3.5 3.5l-3.5 3.5l-3.5 -3.5zM1223.9 547.8l3.5 3.5l-3.5 3.5l-3.5 -3.5zM1177.3 548.2l3.5 3.5l-3.5 3.5l-3.5 -3.5zM1178.1 543.3l3.5 3.5l-3.5 3.5l-3.5 -3.5zM1159.6 548.3l3.5 3.5l-3.5 3.5l-3.5 -3.5zM1204.3 560.0l3.5 3.5l-3.5 3.5l-3.5 -3.5zM1223.8 544.3l3.5 3.5l-3.5 3.5l-3.5 -3.5zM1210.1 558.5l3.5 3.5l-3.5 3.5l-3.5 -3.5zM1215.1 543.8l3.5 3.5l-3.5 3.5l-3.5 -3.5zM1161.5 549.5l3.5 3.5l-3.5 3.5l-3.5 -3.5zM1165.0 551.7l3.5 3.5l-3.5 3.5l-3.5 -3.5zM1177.5 540.8l3.5 3.5l-3.5 3.5l-3.5 -3.5zM1185.7 556.9l3.5 3.5l-3.5 3.5l-3.5 -3.5zM1168.6 541.4l3.5 3.5l-3.5 3.5l-3.5 -3.5zM1160.2 545.4l3.5 3.5l-3.5 3.5l-3.5 -3.5zM1192.4 549.6l3.5 3.5l-3.5 3.5l-3.5 -3.5zM1223.8 557.5l3.5 3.5l-3.5 3.5l-3.5 -3.5zM1185.1 556.9l3.5 3.5l-3.5 3.5l-3.5 -3.5zM1170.0 545.5l3.5 3.5l-3.5 3.5l-3.5 -3.5zM1173.8 551.6l3.5 3.5l-3.5 3.5l-3.5 -3.5zM1169.5 543.5l3.5 3.5l-3.5 3.5l-3.5 -3.5zM1159.3 546.3l3.5 3.5l-3.5 3.5l-3.5 -3.5zM1201.3 545.3l3.5 3.5l-3.5 3.5l-3.5 -3.5zM1204.7 549.6l3.5 3.5l-3.5 3.5l-3.5 -3.5zM1222.6 546.9l3.5 3.5l-3.5 3.5l-3.5 -3.5zM1184.0 559.9l3.5 3.5l-3.5 3.5l-3.5 -3.5zM1165.9 545.4l3.5 3.5l-3.5 3.5l-3.5 -3.5zM1166.0 557.0l3.5 3.5l-3.5 3.5l-3.5 -3.5zM1190.2 558.8l3.5 3.5l-3.5 3.5l-3.5 -3.5zM1209.2 557.4l3.5 3.5l-3.5 3.5l-3.5 -3.5zM1162.9 559.4l3.5 3.5l-3.5 3.5l-3.5 -3.5zM1211.6 556.7l3.5 3.5l-3.5 3.5l-3.5 -3.5zM1171.9 547.2l3.5 3.5l-3.5 3.5l-3.5 -3.5zM1161.7 550.9l3.5 3.5l-3.5 3.5l-3.5 -3.5zM1167.5 555.4l3.5 3.5l-3.5 3.5l-3.5 -3.5zM1201.7 548.1l3.5 3.5l-3.5 3.5l-3.5 -3.5zM1161.5 554.6l3.5 3.5l-3.5 3.5l-3.5 -3.5zM1193.9 554.7l3.5 3.5l-3.5 3.5l-3.5 -3.5zM1221.3 551.6l3.5 3.5l-3.5 3.5l-3.5 -3.5zM1187.0 542.6l3.5 3.5l-3.5 3.5l-3.5 -3.5zM1220.9 545.8l3.5 3.5l-3.5 3.5l-3.5 -3.5zM1174.1 557.1l3.5 3.5l-3.5 3.5l-3.5 -3.5zM1204.7 545.8l3.5 3.5l-3.5 3.5l-3.5 -3.5zM1221.9 550.2l3.5 3.5l-3.5 3.5l-3.5 -3.5zM1175.6 541.7l3.5 3.5l-3.5 3.5l-3.5 -3.5zM1218.5 549.2l3.5 3.5l-3.5 3.5l-3.5 -3.5zM1217.6 558.2l3.5 3.5l-3.5 3.5l-3.5 -3.5zM1217.4 552.9l3.5 3.5l-3.5 3.5l-3.5 -3.5zM1184.9 557.6l3.5 3.5l-3.5 3.5l-3.5 -3.5zM1160.3 556.3l3.5 3.5l-3.5 3.5l-3.5 -3.5zM1176.7 547.3l3.5 3.5l-3.5 3.5l-3.5 -3.5zM1184.6 541.0l3.5 3.5l-3.5 3.5l-3.5 -3.5zM1178.9 556.4l3.5 3.5l-3.5 3.5l-3.5 -3.5zM1203.6 558.7l3.5 3.5l-3.5 3.5l-3.5 -3.5zM1201.3 552.7l3.5 3.5l-3.5 3.5l-3.5 -3.5zM1172.5 544.1l3.5 3.5l-3.5 3.5l-3.5 -3.5zM1189.8 554.8l3.5 3.5l-3.5 3.5l-3.5 -3.5zM1215.1 548.5l3.5 3.5l-3.5 3.5l-3.5 -3.5zM1200.4 541.1l3.5 3.5l-3.5 3.5l-3.5 -3.5zM1207.8 546.2l3.5 3.5l-3.5 3.5l-3.5 -3.5zM1213.2 553.6l3.5 3.5l-3.5 3.5l-3.5 -3.5zM1193.1 550.3l3.5 3.5l-3.5 3.5l-3.5 -3.5zM1206.0 550.1l3.5 3.5l-3.5 3.5l-3.5 -3.5zM1195.2 542.5l3.5 3.5l-3.5 3.5l-3.5 -3.5zM1171.5 548.5l3.5 3.5l-3.5 3.5l-3.5 -3.5zM1162.5 542.4l3.5 3.5l-3.5 3.5l-3.5 -3.5zM1193.1 551.3l3.5 3.5l-3.5 3.5l-3.5 -3.5zM1211.6 549.5l3.5 3.5l-3.5 3.5l-3.5 -3.5zM1215.8 538.9l3.5 3.5l-3.5 3.5l-3.5 -3.5zM1210.0 548.9l3.5 3.5l-3.5 3.5l-3.5 -3.5zM1188.0 542.1l3.5 3.5l-3.5 3.5l-3.5 -3.5zM1203.4 554.6l3.5 3.5l-3.5 3.5l-3.5 -3.5zM1189.3 558.5l3.5 3.5l-3.5 3.5l-3.5 -3.5zM1211.1 551.7l3.5 3.5l-3.5 3.5l-3.5 -3.5zM1178.9 551.9l3.5 3.5l-3.5 3.5l-3.5 -3.5zM1186.4 541.4l3.5 3.5l-3.5 3.5l-3.5 -3.5zM1205.7 542.6l3.5 3.5l-3.5 3.5l-3.5 -3.5zM1217.0 540.0l3.5 3.5l-3.5 3.5l-3.5 -3.5zM1211.7 557.1l3.5 3.5l-3.5 3.5l-3.5 -3.5zM1167.1 559.4l3.5 3.5l-3.5 3.5l-3.5 -3.5zM1167.1 558.4l3.5 3.5l-3.5 3.5l-3.5 -3.5zM1173.1 552.3l3.5 3.5l-3.5 3.5l-3.5 -3.5zM1177.4 553.0l3.5 3.5l-3.5 3.5l-3.5 -3.5zM1166.7 551.7l3.5 3.5l-3.5 3.5l-3.5 -3.5zM1220.9 558.2l3.5 3.5l-3.5 3.5l-3.5 -3.5zM1191.9 555.7l3.5 3.5l-3.5 3.5l-3.5 -3.5zM1161.0 549.2l3.5 3.5l-3.5 3.5l-3.5 -3.5zM1182.8 548.8l3.5 3.5l-3.5 3.5l-3.5 -3.5zM1189.3 555.3l3.5 3.5l-3.5 3.5l-3.5 -3.5zM1207.6 542.3l3.5 3.5l-3.5 3.5l-3.5 -3.5zM1210.3 551.7l3.5 3.5l-3.5 3.5l-3.5 -3.5zM1169.3 546.3l3.5 3.5l-3.5 3.5l-3.5 -3.5zM1178.6 552.6l3.5 3.5l-3.5 3.5l-3.5 -3.5zM1216.8 546.3l3.5 3.5l-3.5 3.5l-3.5 -3.5zM1187.1 543.2l3.5 3.5l-3.5 3.5l-3.5 -3.5zM1196.4 556.2l3.5 3.5l-3.5 3.5l-3.5 -3.5zM1223.0 549.7l3.5 3.5l-3.5 3.5l-3.5 -3.5zM1185.5 553.5l3.5 3.5l-3.5 3.5l-3.5 -3.5zM1163.3 550.8l3.5 3.5l-3.5 3.5l-3.5 -3.5zM1193.3 557.1l3.5 3.5l-3.5 3.5l-3.5 -3.5zM1171.8 554.8l3.5 3.5l-3.5 3.5l-3.5 -3.5zM1172.1 559.5l3.5 3.5l-3.5 3.5l-3.5 -3.5zM1178.8 553.4l3.5 3.5l-3.5 3.5l-3.5 -3.5zM1184.6 555.8l3.5 3.5l-3.5 3.5l-3.5 -3.5zM1169.5 557.5l3.5 3.5l-3.5 3.5l-3.5 -3.5zM1211.3 552.7l3.5 3.5l-3.5 3.5l-3.5 -3.5zM1158.3 559.6l3.5 3.5l-3.5 3.5l-3.5 -3.5zM1219.5 540.8l3.5 3.5l-3.5 3.5l-3.5 -3.5zM1199.5 541.1l3.5 3.5l-3.5 3.5l-3.5 -3.5zM1173.7 548.8l3.5 3.5l-3.5 3.5l-3.5 -3.5zM1158.5 554.4l3.5 3.5l-3.5 3.5l-3.5 -3.5zM1173.9 552.3l3.5 3.5l-3.5 3.5l-3.5 -3.5zM1219.3 558.3l3.5 3.5l-3.5 3.5l-3.5 -3.5zM1181.1 552.2l3.5 3.5l-3.5 3.5l-3.5 -3.5zM1181.4 545.7l3.5 3.5l-3.5 3.5l-3.5 -3.5zM1165.7 543.4l3.5 3.5l-3.5 3.5l-3.5 -3.5zM1202.6 559.8l3.5 3.5l-3.5 3.5l-3.5 -3.5zM1177.1 552.2l3.5 3.5l-3.5 3.5l-3.5 -3.5zM1177.5 537.9l3.5 3.5l-3.5 3.5l-3.5 -3.5zM1163.1 545.2l3.5 3.5l-3.5 3.5l-3.5 -3.5zM1167.8 548.4l3.5 3.5l-3.5 3.5l-3.5 -3.5zM1234.6 551.0l3.5 3.5l-3.5 3.5l-3.5 -3.5zM1244.8 553.4l3.5 3.5l-3.5 3.5l-3.5 -3.5zM1232.2 547.2l3.5 3.5l-3.5 3.5l-3.5 -3.5zM1232.1 546.8l3.5 3.5l-3.5 3.5l-3.5 -3.5zM1226.8 548.9l3.5 3.5l-3.5 3.5l-3.5 -3.5zM1240.1 546.1l3.5 3.5l-3.5 3.5l-3.5 -3.5zM1234.7 550.5l3.5 3.5l-3.5 3.5l-3.5 -3.5zM1227.9 552.8l3.5 3.5l-3.5 3.5l-3.5 -3.5zM1238.3 550.1l3.5 3.5l-3.5 3.5l-3.5 -3.5zM1230.6 547.5l3.5 3.5l-3.5 3.5l-3.5 -3.5zM1229.9 549.9l3.5 3.5l-3.5 3.5l-3.5 -3.5zM1241.8 550.1l3.5 3.5l-3.5 3.5l-3.5 -3.5zM1226.9 544.8l3.5 3.5l-3.5 3.5l-3.5 -3.5zM1244.5 551.1l3.5 3.5l-3.5 3.5l-3.5 -3.5zM1243.2 547.0l3.5 3.5l-3.5 3.5l-3.5 -3.5zM1230.9 547.2l3.5 3.5l-3.5 3.5l-3.5 -3.5zM1231.1 545.3l3.5 3.5l-3.5 3.5l-3.5 -3.5zM1235.6 551.6l3.5 3.5l-3.5 3.5l-3.5 -3.5zM1227.7 551.3l3.5 3.5l-3.5 3.5l-3.5 -3.5zM1241.9 546.4l3.5 3.5l-3.5 3.5l-3.5 -3.5zM1236.4 548.2l3.5 3.5l-3.5 3.5l-3.5 -3.5zM1242.3 551.2l3.5 3.5l-3.5 3.5l-3.5 -3.5zM1242.1 548.8l3.5 3.5l-3.5 3.5l-3.5 -3.5zM1238.4 550.3l3.5 3.5l-3.5 3.5l-3.5 -3.5zM1256.3 544.8l3.5 3.5l-3.5 3.5l-3.5 -3.5zM1259.0 548.4l3.5 3.5l-3.5 3.5l-3.5 -3.5zM1261.7 553.0l3.5 3.5l-3.5 3.5l-3.5 -3.5zM1264.5 545.7l3.5 3.5l-3.5 3.5l-3.5 -3.5zM1267.2 542.9l3.5 3.5l-3.5 3.5l-3.5 -3.5zM1270.9 547.5l3.5 3.5l-3.5 3.5l-3.5 -3.5zM1273.6 542.9l3.5 3.5l-3.5 3.5l-3.5 -3.5zM1275.4 554.8l3.5 3.5l-3.5 3.5l-3.5 -3.5zM1276.4 547.5l3.5 3.5l-3.5 3.5l-3.5 -3.5zM1281.8 550.2l3.5 3.5l-3.5 3.5l-3.5 -3.5zM1285.5 553.9l3.5 3.5l-3.5 3.5l-3.5 -3.5zM1289.2 545.1l3.5 3.5l-3.5 3.5l-3.5 -3.5zM1304.7 543.8l3.5 3.5l-3.5 3.5l-3.5 -3.5zM1302.0 547.5l3.5 3.5l-3.5 3.5l-3.5 -3.5zM1305.2 554.8l3.5 3.5l-3.5 3.5l-3.5 -3.5zM1309.3 548.4l3.5 3.5l-3.5 3.5l-3.5 -3.5zM1312.9 553.0l3.5 3.5l-3.5 3.5l-3.5 -3.5zM1315.7 549.3l3.5 3.5l-3.5 3.5l-3.5 -3.5zM1318.4 551.1l3.5 3.5l-3.5 3.5l-3.5 -3.5zM1322.1 549.0l3.5 3.5l-3.5 3.5l-3.5 -3.5zM1325.7 550.2l3.5 3.5l-3.5 3.5l-3.5 -3.5zM1328.5 548.4l3.5 3.5l-3.5 3.5l-3.5 -3.5zM1332.1 549.9l3.5 3.5l-3.5 3.5l-3.5 -3.5zM1338.0 548.0l3.5 3.5l-3.5 3.5l-3.5 -3.5zM1344.9 549.3l3.5 3.5l-3.5 3.5l-3.5 -3.5zM1347.7 546.9l3.5 3.5l-3.5 3.5l-3.5 -3.5zM1350.4 550.2l3.5 3.5l-3.5 3.5l-3.5 -3.5zM1352.2 548.4l3.5 3.5l-3.5 3.5l-3.5 -3.5zM1359.0 548.0l3.5 3.5l-3.5 3.5l-3.5 -3.5zM1369.6 546.9l3.5 3.5l-3.5 3.5l-3.5 -3.5zM1374.2 550.6l3.5 3.5l-3.5 3.5l-3.5 -3.5zM1382.4 550.6l3.5 3.5l-3.5 3.5l-3.5 -3.5zM1385.1 548.4l3.5 3.5l-3.5 3.5l-3.5 -3.5zM1387.9 546.9l3.5 3.5l-3.5 3.5l-3.5 -3.5zM1393.4 550.2l3.5 3.5l-3.5 3.5l-3.5 -3.5zM1397.9 548.4l3.5 3.5l-3.5 3.5l-3.5 -3.5zM1423.5 549.0l3.5 3.5l-3.5 3.5l-3.5 -3.5zM1442.8 548.6l3.5 3.5l-3.5 3.5l-3.5 -3.5zM1455.6 548.8l3.5 3.5l-3.5 3.5l-3.5 -3.5zM1467.8 549.1l3.5 3.5l-3.5 3.5l-3.5 -3.5zM1481.2 549.3l3.5 3.5l-3.5 3.5l-3.5 -3.5zM1494.9 549.0l3.5 3.5l-3.5 3.5l-3.5 -3.5zM1520.5 549.3l3.5 3.5l-3.5 3.5l-3.5 -3.5zM1523.6 549.5l3.5 3.5l-3.5 3.5l-3.5 -3.5zM1562.0 549.0l3.5 3.5l-3.5 3.5l-3.5 -3.5zM1612.4 549.1l3.5 3.5l-3.5 3.5l-3.5 -3.5zM1647.6 549.1l3.5 3.5l-3.5 3.5l-3.5 -3.5zM1652.7 549.1l3.5 3.5l-3.5 3.5l-3.5 -3.5z" fill="#800080"/>
<path d="M1412.9 631.7l3.5 3.5l-3.5 3.5l-3.5 -3.5zM1481.2 630.8l3.5 3.5l-3.5 3.5l-3.5 -3.5zM1478.9 630.1l3.5 3.5l-3.5 3.5l-3.5 -3.5zM1468.5 612.5l3.5 3.5l-3.5 3.5l-3.5 -3.5zM1352.0 630.6l3.5 3.5l-3.5 3.5l-3.5 -3.5zM1423.0 616.3l3.5 3.5l-3.5 3.5l-3.5 -3.5zM1440.9 629.1l3.5 3.5l-3.5 3.5l-3.5 -3.5zM1342.2 627.1l3.5 3.5l-3.5 3.5l-3.5 -3.5zM1447.4 629.0l3.5 3.5l-3.5 3.5l-3.5 -3.5zM1482.0 621.5l3.5 3.5l-3.5 3.5l-3.5 -3.5zM1442.7 620.2l3.5 3.5l-3.5 3.5l-3.5 -3.5zM1509.1 623.9l3.5 3.5l-3.5 3.5l-3.5 -3.5zM1378.8 629.6l3.5 3.5l-3.5 3.5l-3.5 -3.5zM1471.6 625.0l3.5 3.5l-3.5 3.5l-3.5 -3.5zM1469.8 621.4l3.5 3.5l-3.5 3.5l-3.5 -3.5zM1473.6 615.0l3.5 3.5l-3.5 3.5l-3.5 -3.5zM1417.7 622.8l3.5 3.5l-3.5 3.5l-3.5 -3.5zM1444.0 632.3l3.5 3.5l-3.5 3.5l-3.5 -3.5zM1486.2 616.2l3.5 3.5l-3.5 3.5l-3.5 -3.5zM1518.6 627.7l3.5 3.5l-3.5 3.5l-3.5 -3.5zM1399.3 628.3l3.5 3.5l-3.5 3.5l-3.5 -3.5zM1388.9 631.7l3.5 3.5l-3.5 3.5l-3.5 -3.5zM1363.3 628.4l3.5 3.5l-3.5 3.5l-3.5 -3.5zM1379.7 624.6l3.5 3.5l-3.5 3.5l-3.5 -3.5zM1381.0 621.7l3.5 3.5l-3.5 3.5l-3.5 -3.5zM1398.2 620.4l3.5 3.5l-3.5 3.5l-3.5 -3.5zM1384.5 624.4l3.5 3.5l-3.5 3.5l-3.5 -3.5zM1358.1 615.9l3.5 3.5l-3.5 3.5l-3.5 -3.5zM1441.9 618.1l3.5 3.5l-3.5 3.5l-3.5 -3.5zM1442.6 629.9l3.5 3.5l-3.5 3.5l-3.5 -3.5zM1390.2 612.9l3.5 3.5l-3.5 3.5l-3.5 -3.5zM1462.9 631.0l3.5 3.5l-3.5 3.5l-3.5 -3.5zM1383.0 626.6l3.5 3.5l-3.5 3.5l-3.5 -3.5zM1417.1 611.6l3.5 3.5l-3.5 3.5l-3.5 -3.5zM1350.1 621.7l3.5 3.5l-3.5 3.5l-3.5 -3.5zM1341.5 620.7l3.5 3.5l-3.5 3.5l-3.5 -3.5zM1439.3 624.7l3.5 3.5l-3.5 3.5l-3.5 -3.5zM1483.6 620.1l3.5 3.5l-3.5 3.5l-3.5 -3.5zM1516.1 632.1l3.5 3.5l-3.5 3.5l-3.5 -3.5zM1347.6 620.9l3.5 3.5l-3.5 3.5l-3.5 -3.5zM1334.5 611.6l3.5 3.5l-3.5 3.5l-3.5 -3.5zM1407.3 617.3l3.5 3.5l-3.5 3.5l-3.5 -3.5zM1457.7 616.8l3.5 3.5l-3.5 3.5l-3.5 -3.5zM1502.6 613.3l3.5 3.5l-3.5 3.5l-3.5 -3.5zM1407.8 612.4l3.5 3.5l-3.5 3.5l-3.5 -3.5zM1431.6 629.2l3.5 3.5l-3.5 3.5l-3.5 -3.5zM1331.1 612.2l3.5 3.5l-3.5 3.5l-3.5 -3.5zM1374.3 612.8l3.5 3.5l-3.5 3.5l-3.5 -3.5zM1501.7 612.7l3.5 3.5l-3.5 3.5l-3.5 -3.5zM1384.0 624.9l3.5 3.5l-3.5 3.5l-3.5 -3.5zM1498.0 620.9l3.5 3.5l-3.5 3.5l-3.5 -3.5zM1367.1 619.7l3.5 3.5l-3.5 3.5l-3.5 -3.5zM1369.4 627.6l3.5 3.5l-3.5 3.5l-3.5 -3.5zM1395.3 621.3l3.5 3.5l-3.5 3.5l-3.5 -3.5zM1401.8 620.2l3.5 3.5l-3.5 3.5l-3.5 -3.5zM1411.9 626.4l3.5 3.5l-3.5 3.5l-3.5 -3.5zM1419.0 618.2l3.5 3.5l-3.5 3.5l-3.5 -3.5zM1446.5 616.4l3.5 3.5l-3.5 3.5l-3.5 -3.5zM1385.2 629.7l3.5 3.5l-3.5 3.5l-3.5 -3.5zM1433.3 611.5l3.5 3.5l-3.5 3.5l-3.5 -3.5zM1435.3 624.7l3.5 3.5l-3.5 3.5l-3.5 -3.5zM1471.7 612.0l3.5 3.5l-3.5 3.5l-3.5 -3.5zM1516.7 613.7l3.5 3.5l-3.5 3.5l-3.5 -3.5zM1432.1 616.0l3.5 3.5l-3.5 3.5l-3.5 -3.5zM1491.1 616.2l3.5 3.5l-3.5 3.5l-3.5 -3.5zM1494.9 623.8l3.5 3.5l-3.5 3.5l-3.5 -3.5zM1437.0 624.1l3.5 3.5l-3.5 3.5l-3.5 -3.5zM1512.1 631.3l3.5 3.5l-3.5 3.5l-3.5 -3.5zM1347.6 627.9l3.5 3.5l-3.5 3.5l-3.5 -3.5zM1385.8 611.5l3.5 3.5l-3.5 3.5l-3.5 -3.5zM1471.5 619.8l3.5 3.5l-3.5 3.5l-3.5 -3.5zM1347.1 627.3l3.5 3.5l-3.5 3.5l-3.5 -3.5zM1359.6 632.3l3.5 3.5l-3.5 3.5l-3.5 -3.5zM1343.5 620.4l3.5 3.5l-3.5 3.5l-3.5 -3.5zM1497.2 612.3l3.5 3.5l-3.5 3.5l-3.5 -3.5zM1407.7 613.8l3.5 3.5l-3.5 3.5l-3.5 -3.5zM1377.0 627.3l3.5 3.5l-3.5 3.5l-3.5 -3.5zM1492.3 627.7l3.5 3.5l-3.5 3.5l-3.5 -3.5zM1460.1 623.2l3.5 3.5l-3.5 3.5l-3.5 -3.5zM1376.1 625.1l3.5 3.5l-3.5 3.5l-3.5 -3.5zM1367.6 628.4l3.5 3.5l-3.5 3.5l-3.5 -3.5zM1467.4 622.4l3.5 3.5l-3.5 3.5l-3.5 -3.5zM1513.6 616.8l3.5 3.5l-3.5 3.5l-3.5 -3.5zM1369.8 624.7l3.5 3.5l-3.5 3.5l-3.5 -3.5zM1329.2 613.5l3.5 3.5l-3.5 3.5l-3.5 -3.5zM1505.0 626.4l3.5 3.5l-3.5 3.5l-3.5 -3.5zM1455.5 620.0l3.5 3.5l-3.5 3.5l-3.5 -3.5zM1356.7 620.1l3.5 3.5l-3.5 3.5l-3.5 -3.5zM1363.8 624.3l3.5 3.5l-3.5 3.5l-3.5 -3.5zM1383.0 626.4l3.5 3.5l-3.5 3.5l-3.5 -3.5zM1365.3 619.2l3.5 3.5l-3.5 3.5l-3.5 -3.5zM1483.2 630.3l3.5 3.5l-3.5 3.5l-3.5 -3.5zM1515.9 631.5l3.5 3.5l-3.5 3.5l-3.5 -3.5zM1410.0 631.7l3.5 3.5l-3.5 3.5l-3.5 -3.5zM1374.9 631.0l3.5 3.5l-3.5 3.5l-3.5 -3.5zM1384.0 622.2l3.5 3.5l-3.5 3.5l-3.5 -3.5zM1504.0 616.5l3.5 3.5l-3.5 3.5l-3.5 -3.5zM1456.5 629.4l3.5 3.5l-3.5 3.5l-3.5 -3.5zM1503.8 622.6l3.5 3.5l-3.5 3.5l-3.5 -3.5zM1473.4 617.5l3.5 3.5l-3.5 3.5l-3.5 -3.5zM1378.9 622.1l3.5 3.5l-3.5 3.5l-3.5 -3.5zM1372.4 620.1l3.5 3.5l-3.5 3.5l-3.5 -3.5zM1480.1 621.1l3.5 3.5l-3.5 3.5l-3.5 -3.5zM1499.4 631.6l3.5 3.5l-3.5 3.5l-3.5 -3.5zM1346.4 621.8l3.5 3.5l-3.5 3.5l-3.5 -3.5zM1378.6 618.8l3.5 3.5l-3.5 3.5l-3.5 -3.5zM1390.1 627.2l3.5 3.5l-3.5 3.5l-3.5 -3.5zM1462.1 629.4l3.5 3.5l-3.5 3.5l-3.5 -3.5zM1371.2 626.2l3.5 3.5l-3.5 3.5l-3.5 -3.5zM1420.3 612.7l3.5 3.5l-3.5 3.5l-3.5 -3.5zM1424.4 618.2l3.5 3.5l-3.5 3.5l-3.5 -3.5zM1496.0 630.9l3.5 3.5l-3.5 3.5l-3.5 -3.5zM1333.7 623.7l3.5 3.5l-3.5 3.5l-3.5 -3.5zM1423.4 612.9l3.5 3.5l-3.5 3.5l-3.5 -3.5zM1424.9 626.2l3.5 3.5l-3.5 3.5l-3.5 -3.5zM1403.0 626.1l3.5 3.5l-3.5 3.5l-3.5 -3.5zM1345.2 616.6l3.5 3.5l-3.5 3.5l-3.5 -3.5zM1405.3 626.5l3.5 3.5l-3.5 3.5l-3.5 -3.5zM1466.1 615.9l3.5 3.5l-3.5 3.5l-3.5 -3.5zM1517.1 631.7l3.5 3.5l-3.5 3.5l-3.5 -3.5zM1375.4 631.6l3.5 3.5l-3.5 3.5l-3.5 -3.5zM1360.4 623.9l3.5 3.5l-3.5 3.5l-3.5 -3.5zM1372.7 620.8l3.5 3.5l-3.5 3.5l-3.5 -3.5zM1382.2 615.1l3.5 3.5l-3.5 3.5l-3.5 -3.5zM1360.6 626.5l3.5 3.5l-3.5 3.5l-3.5 -3.5zM1382.6 629.7l3.5 3.5l-3.5 3.5l-3.5 -3.5zM1383.0 618.3l3.5 3.5l-3.5 3.5l-3.5 -3.5zM1359.0 631.6l3.5 3.5l-3.5 3.5l-3.5 -3.5zM1382.1 628.9l3.5 3.5l-3.5 3.5l-3.5 -3.5zM1356.2 619.8l3.5 3.5l-3.5 3.5l-3.5 -3.5zM1374.8 615.8l3.5 3.5l-3.5 3.5l-3.5 -3.5zM1373.4 618.8l3.5 3.5l-3.5 3.5l-3.5 -3.5zM1147.5 622.3l3.5 3.5l-3.5 3.5l-3.5 -3.5zM1152.0 621.8l3.5 3.5l-3.5 3.5l-3.5 -3.5zM1157.5 622.5l3.5 3.5l-3.5 3.5l-3.5 -3.5zM1162.1 622.7l3.5 3.5l-3.5 3.5l-3.5 -3.5zM1164.8 621.0l3.5 3.5l-3.5 3.5l-3.5 -3.5zM1173.6 622.0l3.5 3.5l-3.5 3.5l-3.5 -3.5zM1191.0 620.9l3.5 3.5l-3.5 3.5l-3.5 -3.5zM1202.3 622.3l3.5 3.5l-3.5 3.5l-3.5 -3.5zM1222.8 624.1l3.5 3.5l-3.5 3.5l-3.5 -3.5zM1252.6 623.2l3.5 3.5l-3.5 3.5l-3.5 -3.5zM1255.9 621.4l3.5 3.5l-3.5 3.5l-3.5 -3.5zM1264.5 619.2l3.5 3.5l-3.5 3.5l-3.5 -3.5zM1271.8 619.9l3.5 3.5l-3.5 3.5l-3.5 -3.5zM1280.9 621.8l3.5 3.5l-3.5 3.5l-3.5 -3.5zM1284.6 622.3l3.5 3.5l-3.5 3.5l-3.5 -3.5zM1291.9 621.4l3.5 3.5l-3.5 3.5l-3.5 -3.5zM1293.7 623.2l3.5 3.5l-3.5 3.5l-3.5 -3.5zM1296.8 621.0l3.5 3.5l-3.5 3.5l-3.5 -3.5zM1307.8 621.4l3.5 3.5l-3.5 3.5l-3.5 -3.5zM1314.8 623.6l3.5 3.5l-3.5 3.5l-3.5 -3.5zM1318.4 622.3l3.5 3.5l-3.5 3.5l-3.5 -3.5zM1321.7 620.9l3.5 3.5l-3.5 3.5l-3.5 -3.5zM1530.5 628.4l3.5 3.5l-3.5 3.5l-3.5 -3.5zM1534.2 620.5l3.5 3.5l-3.5 3.5l-3.5 -3.5zM1536.9 623.2l3.5 3.5l-3.5 3.5l-3.5 -3.5zM1539.7 620.5l3.5 3.5l-3.5 3.5l-3.5 -3.5zM1548.8 623.6l3.5 3.5l-3.5 3.5l-3.5 -3.5zM1552.9 621.4l3.5 3.5l-3.5 3.5l-3.5 -3.5zM1560.2 621.8l3.5 3.5l-3.5 3.5l-3.5 -3.5zM1576.3 621.0l3.5 3.5l-3.5 3.5l-3.5 -3.5zM1597.8 621.8l3.5 3.5l-3.5 3.5l-3.5 -3.5zM1602.2 624.1l3.5 3.5l-3.5 3.5l-3.5 -3.5zM1613.7 619.9l3.5 3.5l-3.5 3.5l-3.5 -3.5zM1617.4 620.9l3.5 3.5l-3.5 3.5l-3.5 -3.5zM1632.6 622.0l3.5 3.5l-3.5 3.5l-3.5 -3.5zM1639.3 620.9l3.5 3.5l-3.5 3.5l-3.5 -3.5zM1643.9 624.1l3.5 3.5l-3.5 3.5l-3.5 -3.5zM1647.2 620.5l3.5 3.5l-3.5 3.5l-3.5 -3.5zM1657.6 622.3l3.5 3.5l-3.5 3.5l-3.5 -3.5zM1660.7 621.0l3.5 3.5l-3.5 3.5l-3.5 -3.5zM1666.2 619.9l3.5 3.5l-3.5 3.5l-3.5 -3.5zM1672.2 622.0l3.5 3.5l-3.5 3.5l-3.5 -3.5zM1692.3 623.2l3.5 3.5l-3.5 3.5l-3.5 -3.5zM1700.0 622.7l3.5 3.5l-3.5 3.5l-3.5 -3.5zM1716.7 622.0l3.5 3.5l-3.5 3.5l-3.5 -3.5zM1726.5 622.1l3.5 3.5l-3.5 3.5l-3.5 -3.5zM1735.7 621.4l3.5 3.5l-3.5 3.5l-3.5 -3.5z" fill="#008080"/>
<path d="M1232.8 377.7v58.4M1236.6 450.5v58.4M1252.4 523.3v58.4M1453.6 596.1v58.4" stroke="#000" stroke-width="2.8" stroke-linecap="round" fill="none"/>
<path d="M1116.5 661.9v7.5M1324.3 661.9v7.5M1532.2 661.9v7.5M1740.0 661.9v7.5M1220.4 661.9v4M1428.2 661.9v4M1636.1 661.9v4M1116.5 406.9h-7.5M1116.5 479.7h-7.5M1116.5 552.5h-7.5M1116.5 625.3h-7.5" stroke="#000" stroke-width="2.0" fill="none"/>
<rect x="1116.5" y="370.5" width="623.5" height="291.4" stroke="#000" stroke-width="2.1" fill="none"/>
<g font-size="22">
<text x="1119.8" y="695.0" text-anchor="middle">0</text><text x="1327.6" y="695.0" text-anchor="middle">1</text><text x="1535.5" y="695.0" text-anchor="middle">2</text><text x="1743.3" y="695.0" text-anchor="middle">3</text>
<text x="1104.8" y="414.4" text-anchor="end">Baseline</text>
<text x="1104.8" y="473.9" text-anchor="end">No inter-domain</text><text x="1104.8" y="501.9" text-anchor="end">features</text>
<text x="1104.8" y="546.7" text-anchor="end">No PAthreader</text><text x="1104.8" y="574.7" text-anchor="end">(use HHsearch)</text>
<text x="1104.8" y="632.8" text-anchor="end">No templates</text>
<text x="1428.5" y="731.8" text-anchor="middle">inter-domain distance error (Å)</text>
</g>
<text x="929.5" y="360.3" font-size="32" font-weight="bold">c</text>
</g>
</svg>
</body></html>
